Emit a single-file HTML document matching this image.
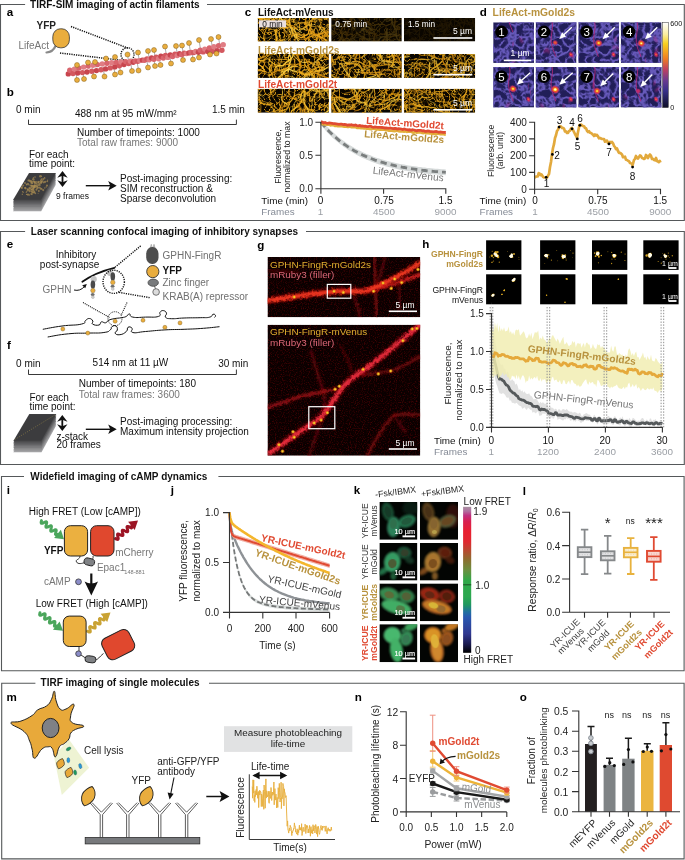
<!DOCTYPE html>
<html><head><meta charset="utf-8"><title>Figure</title>
<style>html,body{margin:0;padding:0;background:#fff}svg{display:block}text{font-family:"Liberation Sans",sans-serif}</style>
</head><body>
<svg width="685" height="860" viewBox="0 0 685 860">
<rect width="685" height="860" fill="#fff"/>
<path d="M25.1 4.5H0.5V220.5H684.3V4.5H207" fill="none" stroke="#55585a" stroke-width="1.1"/>
<text x="30.1" y="7.6" font-size="10" fill="#111" font-weight="bold">TIRF-SIM imaging of actin filaments</text>
<path d="M25.1 231.5H0.5V464.5H684.3V231.5H306" fill="none" stroke="#55585a" stroke-width="1.1"/>
<text x="30.8" y="234.8" font-size="10" fill="#111" font-weight="bold">Laser scanning confocal imaging of inhibitory synapses</text>
<path d="M24 476.5H1.5V670.7H684.1V476.5H218.4" fill="none" stroke="#55585a" stroke-width="1.1"/>
<text x="30.3" y="480.0" font-size="10" fill="#111" font-weight="bold">Widefield imaging of cAMP dynamics</text>
<path d="M35.4 683.2H1.7V858.9H684.1V683.2H209" fill="none" stroke="#55585a" stroke-width="1.1"/>
<text x="40.6" y="686.3" font-size="10" fill="#111" font-weight="bold">TIRF imaging of single molecules</text>
<text x="6.7" y="15.9" font-size="11.6" fill="#000" font-weight="bold">a</text>
<text x="6.7" y="95.9" font-size="11.6" fill="#000" font-weight="bold">b</text>
<text x="244.7" y="15.9" font-size="11.6" fill="#000" font-weight="bold">c</text>
<text x="479.7" y="15.9" font-size="11.6" fill="#000" font-weight="bold">d</text>
<text x="6.7" y="248.4" font-size="11.6" fill="#000" font-weight="bold">e</text>
<text x="6.9" y="349.4" font-size="11.6" fill="#000" font-weight="bold">f</text>
<text x="257.3" y="248.7" font-size="11.6" fill="#000" font-weight="bold">g</text>
<text x="422.2" y="247.9" font-size="11.6" fill="#000" font-weight="bold">h</text>
<text x="6.7" y="494.4" font-size="11.6" fill="#000" font-weight="bold">i</text>
<text x="170.7" y="494.4" font-size="11.6" fill="#000" font-weight="bold">j</text>
<text x="353.7" y="494.4" font-size="11.6" fill="#000" font-weight="bold">k</text>
<text x="522.7" y="494.7" font-size="11.6" fill="#000" font-weight="bold">l</text>
<text x="6.5" y="701.4" font-size="11.6" fill="#000" font-weight="bold">m</text>
<text x="354.7" y="700.9" font-size="11.6" fill="#000" font-weight="bold">n</text>
<text x="519.7" y="700.9" font-size="11.6" fill="#000" font-weight="bold">o</text>
<text x="36.5" y="29.0" font-size="10" fill="#222" font-weight="bold">YFP</text>
<text x="18.5" y="49.0" font-size="10" fill="#767676">LifeAct</text>
<path d="M46.5 52.5 Q53 52 55.5 46" fill="none" stroke="#8a8a8a" stroke-width="2.2" stroke-linecap="round"/>
<rect x="52.8" y="28.8" width="16.6" height="19" rx="7.5" ry="8" fill="#E9AD3E" stroke="#333" stroke-width="0.8"/>
<path d="M71 26.5 L129 48.5 M60 53 L123 60.5" fill="none" stroke="#111" stroke-width="1.5" stroke-dasharray="1.2 1.1"/>
<ellipse cx="127.5" cy="54.5" rx="6.5" ry="6.8" fill="none" stroke="#111" stroke-width="1.4" stroke-dasharray="1.2 1.1"/>
<path d="M77 65L77.9 70.6" stroke="#777" stroke-width="0.6"/>
<path d="M88 62.5L89.0 68.8" stroke="#777" stroke-width="0.6"/>
<path d="M95 62L95.9 67.7" stroke="#777" stroke-width="0.6"/>
<path d="M106 58.5L107.2 65.9" stroke="#777" stroke-width="0.6"/>
<path d="M115 57L116.2 64.5" stroke="#777" stroke-width="0.6"/>
<path d="M127.5 54.5L128.8 62.5" stroke="#777" stroke-width="0.6"/>
<path d="M138 52.5L139.3 60.8" stroke="#777" stroke-width="0.6"/>
<path d="M148 51L149.3 59.2" stroke="#777" stroke-width="0.6"/>
<path d="M154 50L155.3 58.3" stroke="#777" stroke-width="0.6"/>
<path d="M165 46.5L166.6 56.5" stroke="#777" stroke-width="0.6"/>
<path d="M176 46L177.4 54.7" stroke="#777" stroke-width="0.6"/>
<path d="M182 45.5L183.3 53.8" stroke="#777" stroke-width="0.6"/>
<path d="M189 43L190.5 52.6" stroke="#777" stroke-width="0.6"/>
<path d="M199 40L200.8 51.0" stroke="#777" stroke-width="0.6"/>
<path d="M211 39L212.6 49.1" stroke="#777" stroke-width="0.6"/>
<path d="M218.5 37L220.2 47.9" stroke="#777" stroke-width="0.6"/>
<path d="M77 80L75.6 71.0" stroke="#777" stroke-width="0.6"/>
<path d="M84 79L82.5 69.9" stroke="#777" stroke-width="0.6"/>
<path d="M94 76.5L92.7 68.3" stroke="#777" stroke-width="0.6"/>
<path d="M104.5 76.5L102.9 66.6" stroke="#777" stroke-width="0.6"/>
<path d="M115 74.5L113.5 64.9" stroke="#777" stroke-width="0.6"/>
<path d="M120.5 72.5L119.1 64.0" stroke="#777" stroke-width="0.6"/>
<path d="M132 71L130.6 62.2" stroke="#777" stroke-width="0.6"/>
<path d="M138.5 70.5L137.0 61.2" stroke="#777" stroke-width="0.6"/>
<path d="M148 67.5L146.7 59.6" stroke="#777" stroke-width="0.6"/>
<path d="M155 66L153.8 58.5" stroke="#777" stroke-width="0.6"/>
<path d="M160.5 65L159.3 57.6" stroke="#777" stroke-width="0.6"/>
<path d="M171 63.5L169.8 56.0" stroke="#777" stroke-width="0.6"/>
<path d="M183 60L182.0 54.0" stroke="#777" stroke-width="0.6"/>
<path d="M193 59.5L191.9 52.4" stroke="#777" stroke-width="0.6"/>
<path d="M199 57.5L198.0 51.4" stroke="#777" stroke-width="0.6"/>
<path d="M210 54.5L209.2 49.7" stroke="#777" stroke-width="0.6"/>
<path d="M216.5 53.5L215.7 48.6" stroke="#777" stroke-width="0.6"/>
<circle cx="68.3" cy="73.9" r="2.7" fill="#C8454E"/>
<circle cx="69.8" cy="70.2" r="2.7" fill="#D9656D"/>
<circle cx="73.0" cy="73.5" r="2.7" fill="#D3585F"/>
<circle cx="74.4" cy="69.1" r="2.7" fill="#E07C83"/>
<circle cx="77.7" cy="73.0" r="2.7" fill="#C8454E"/>
<circle cx="79.0" cy="68.1" r="2.7" fill="#D9656D"/>
<circle cx="82.4" cy="72.6" r="2.7" fill="#D3585F"/>
<circle cx="83.6" cy="67.1" r="2.7" fill="#E07C83"/>
<circle cx="87.0" cy="72.0" r="2.7" fill="#C8454E"/>
<circle cx="88.2" cy="66.1" r="2.7" fill="#D9656D"/>
<circle cx="91.7" cy="71.3" r="2.7" fill="#D3585F"/>
<circle cx="92.9" cy="65.3" r="2.7" fill="#E07C83"/>
<circle cx="96.4" cy="70.6" r="2.7" fill="#C8454E"/>
<circle cx="97.5" cy="64.6" r="2.7" fill="#D9656D"/>
<circle cx="101.0" cy="69.8" r="2.7" fill="#D3585F"/>
<circle cx="102.2" cy="63.9" r="2.7" fill="#E07C83"/>
<circle cx="105.6" cy="68.9" r="2.7" fill="#C8454E"/>
<circle cx="106.9" cy="63.3" r="2.7" fill="#D9656D"/>
<circle cx="110.2" cy="67.9" r="2.7" fill="#D3585F"/>
<circle cx="111.6" cy="62.8" r="2.7" fill="#E07C83"/>
<circle cx="114.8" cy="66.9" r="2.7" fill="#C8454E"/>
<circle cx="116.3" cy="62.4" r="2.7" fill="#D9656D"/>
<circle cx="119.4" cy="65.8" r="2.7" fill="#D3585F"/>
<circle cx="121.0" cy="62.0" r="2.7" fill="#E07C83"/>
<circle cx="124.0" cy="64.6" r="2.7" fill="#C8454E"/>
<circle cx="125.7" cy="61.6" r="2.7" fill="#D9656D"/>
<circle cx="128.6" cy="63.5" r="2.7" fill="#D3585F"/>
<circle cx="130.4" cy="61.3" r="2.7" fill="#E07C83"/>
<circle cx="133.2" cy="62.3" r="2.7" fill="#C8454E"/>
<circle cx="135.1" cy="61.0" r="2.7" fill="#D9656D"/>
<circle cx="137.8" cy="61.2" r="2.7" fill="#D3585F"/>
<circle cx="139.8" cy="60.6" r="2.7" fill="#E07C83"/>
<circle cx="142.4" cy="60.1" r="2.7" fill="#C8454E"/>
<circle cx="144.5" cy="60.2" r="2.7" fill="#D9656D"/>
<circle cx="147.0" cy="59.0" r="2.7" fill="#D3585F"/>
<circle cx="149.2" cy="59.8" r="2.7" fill="#E07C83"/>
<circle cx="151.6" cy="58.0" r="2.7" fill="#C8454E"/>
<circle cx="153.9" cy="59.3" r="2.7" fill="#D9656D"/>
<circle cx="156.2" cy="57.1" r="2.7" fill="#D3585F"/>
<circle cx="158.6" cy="58.7" r="2.7" fill="#E07C83"/>
<circle cx="160.9" cy="56.3" r="2.7" fill="#C8454E"/>
<circle cx="163.3" cy="58.1" r="2.7" fill="#D9656D"/>
<circle cx="165.5" cy="55.5" r="2.7" fill="#D3585F"/>
<circle cx="167.9" cy="57.4" r="2.7" fill="#E07C83"/>
<circle cx="170.2" cy="54.9" r="2.7" fill="#C8454E"/>
<circle cx="172.6" cy="56.5" r="2.7" fill="#D9656D"/>
<circle cx="174.9" cy="54.3" r="2.7" fill="#D3585F"/>
<circle cx="177.2" cy="55.6" r="2.7" fill="#E07C83"/>
<circle cx="179.5" cy="53.8" r="2.7" fill="#C8454E"/>
<circle cx="181.8" cy="54.7" r="2.7" fill="#D9656D"/>
<circle cx="184.2" cy="53.3" r="2.7" fill="#D3585F"/>
<circle cx="186.4" cy="53.6" r="2.7" fill="#E07C83"/>
<circle cx="188.9" cy="52.9" r="2.7" fill="#C8454E"/>
<circle cx="191.0" cy="52.5" r="2.7" fill="#D9656D"/>
<circle cx="193.7" cy="52.6" r="2.7" fill="#D3585F"/>
<circle cx="195.6" cy="51.4" r="2.7" fill="#E07C83"/>
<circle cx="198.4" cy="52.3" r="2.7" fill="#C8454E"/>
<circle cx="200.2" cy="50.2" r="2.7" fill="#D9656D"/>
<circle cx="203.1" cy="51.9" r="2.7" fill="#D3585F"/>
<circle cx="204.8" cy="49.1" r="2.7" fill="#E07C83"/>
<circle cx="207.8" cy="51.6" r="2.7" fill="#C8454E"/>
<circle cx="209.4" cy="47.9" r="2.7" fill="#D9656D"/>
<circle cx="212.5" cy="51.2" r="2.7" fill="#D3585F"/>
<circle cx="213.9" cy="46.8" r="2.7" fill="#E07C83"/>
<circle cx="217.2" cy="50.8" r="2.7" fill="#C8454E"/>
<circle cx="218.6" cy="45.8" r="2.7" fill="#D9656D"/>
<circle cx="221.9" cy="50.3" r="2.7" fill="#D3585F"/>
<circle cx="223.2" cy="44.8" r="2.7" fill="#E07C83"/>
<circle cx="77" cy="65" r="2.5" fill="#E9AD3E" stroke="#7a5a18" stroke-width="0.45"/>
<circle cx="88" cy="62.5" r="2.5" fill="#E9AD3E" stroke="#7a5a18" stroke-width="0.45"/>
<circle cx="95" cy="62" r="2.5" fill="#E9AD3E" stroke="#7a5a18" stroke-width="0.45"/>
<circle cx="106" cy="58.5" r="2.5" fill="#E9AD3E" stroke="#7a5a18" stroke-width="0.45"/>
<circle cx="115" cy="57" r="2.5" fill="#E9AD3E" stroke="#7a5a18" stroke-width="0.45"/>
<circle cx="127.5" cy="54.5" r="2.5" fill="#E9AD3E" stroke="#7a5a18" stroke-width="0.45"/>
<circle cx="138" cy="52.5" r="2.5" fill="#E9AD3E" stroke="#7a5a18" stroke-width="0.45"/>
<circle cx="148" cy="51" r="2.5" fill="#E9AD3E" stroke="#7a5a18" stroke-width="0.45"/>
<circle cx="154" cy="50" r="2.5" fill="#E9AD3E" stroke="#7a5a18" stroke-width="0.45"/>
<circle cx="165" cy="46.5" r="2.5" fill="#E9AD3E" stroke="#7a5a18" stroke-width="0.45"/>
<circle cx="176" cy="46" r="2.5" fill="#E9AD3E" stroke="#7a5a18" stroke-width="0.45"/>
<circle cx="182" cy="45.5" r="2.5" fill="#E9AD3E" stroke="#7a5a18" stroke-width="0.45"/>
<circle cx="189" cy="43" r="2.5" fill="#E9AD3E" stroke="#7a5a18" stroke-width="0.45"/>
<circle cx="199" cy="40" r="2.5" fill="#E9AD3E" stroke="#7a5a18" stroke-width="0.45"/>
<circle cx="211" cy="39" r="2.5" fill="#E9AD3E" stroke="#7a5a18" stroke-width="0.45"/>
<circle cx="218.5" cy="37" r="2.5" fill="#E9AD3E" stroke="#7a5a18" stroke-width="0.45"/>
<circle cx="77" cy="80" r="2.5" fill="#E9AD3E" stroke="#7a5a18" stroke-width="0.45"/>
<circle cx="84" cy="79" r="2.5" fill="#E9AD3E" stroke="#7a5a18" stroke-width="0.45"/>
<circle cx="94" cy="76.5" r="2.5" fill="#E9AD3E" stroke="#7a5a18" stroke-width="0.45"/>
<circle cx="104.5" cy="76.5" r="2.5" fill="#E9AD3E" stroke="#7a5a18" stroke-width="0.45"/>
<circle cx="115" cy="74.5" r="2.5" fill="#E9AD3E" stroke="#7a5a18" stroke-width="0.45"/>
<circle cx="120.5" cy="72.5" r="2.5" fill="#E9AD3E" stroke="#7a5a18" stroke-width="0.45"/>
<circle cx="132" cy="71" r="2.5" fill="#E9AD3E" stroke="#7a5a18" stroke-width="0.45"/>
<circle cx="138.5" cy="70.5" r="2.5" fill="#E9AD3E" stroke="#7a5a18" stroke-width="0.45"/>
<circle cx="148" cy="67.5" r="2.5" fill="#E9AD3E" stroke="#7a5a18" stroke-width="0.45"/>
<circle cx="155" cy="66" r="2.5" fill="#E9AD3E" stroke="#7a5a18" stroke-width="0.45"/>
<circle cx="160.5" cy="65" r="2.5" fill="#E9AD3E" stroke="#7a5a18" stroke-width="0.45"/>
<circle cx="171" cy="63.5" r="2.5" fill="#E9AD3E" stroke="#7a5a18" stroke-width="0.45"/>
<circle cx="183" cy="60" r="2.5" fill="#E9AD3E" stroke="#7a5a18" stroke-width="0.45"/>
<circle cx="193" cy="59.5" r="2.5" fill="#E9AD3E" stroke="#7a5a18" stroke-width="0.45"/>
<circle cx="199" cy="57.5" r="2.5" fill="#E9AD3E" stroke="#7a5a18" stroke-width="0.45"/>
<circle cx="210" cy="54.5" r="2.5" fill="#E9AD3E" stroke="#7a5a18" stroke-width="0.45"/>
<circle cx="216.5" cy="53.5" r="2.5" fill="#E9AD3E" stroke="#7a5a18" stroke-width="0.45"/>
<text x="16" y="113.1" font-size="10" fill="#111">0 min</text>
<text x="75" y="117.1" font-size="10" fill="#111">488 nm at 95 mW/mm²</text>
<text x="212" y="113.1" font-size="10" fill="#111">1.5 min</text>
<path d="M28.5 119.6V124.5H236.4V119.6" fill="none" stroke="#222" stroke-width="0.9"/>
<text x="77" y="135.5" font-size="10" fill="#111">Number of timepoints: 1000</text>
<text x="77" y="145.7" font-size="10" fill="#767676">Total raw frames: 9000</text>
<text x="29" y="157.7" font-size="10" fill="#111">For each</text>
<text x="29" y="167.4" font-size="10" fill="#111">time point:</text>
<path d="M29 184.2H56L41.2 211.2H13Z" fill="#a0a0a2" stroke="#fff" stroke-opacity="0.15" stroke-width="0.3"/>
<path d="M29 182.8H56L41.2 209.8H13Z" fill="#939395" stroke="#fff" stroke-opacity="0.15" stroke-width="0.3"/>
<path d="M29 181.4H56L41.2 208.4H13Z" fill="#878789" stroke="#fff" stroke-opacity="0.15" stroke-width="0.3"/>
<path d="M29 180.0H56L41.2 207.0H13Z" fill="#7a7a7c" stroke="#fff" stroke-opacity="0.15" stroke-width="0.3"/>
<path d="M29 178.6H56L41.2 205.6H13Z" fill="#6e6e70" stroke="#fff" stroke-opacity="0.15" stroke-width="0.3"/>
<path d="M29 177.2H56L41.2 204.2H13Z" fill="#616163" stroke="#fff" stroke-opacity="0.15" stroke-width="0.3"/>
<path d="M29 175.8H56L41.2 202.8H13Z" fill="#555557" stroke="#fff" stroke-opacity="0.15" stroke-width="0.3"/>
<path d="M29 174.4H56L41.2 201.4H13Z" fill="#48484a" stroke="#fff" stroke-opacity="0.15" stroke-width="0.3"/>
<path d="M29 173.0H56L41.2 200.0H13Z" fill="#3c3c3e" stroke="#fff" stroke-opacity="0.15" stroke-width="0.3"/>
<circle cx="33.6" cy="181.4" r="1.0" fill="#a88c52" opacity="0.7"/>
<circle cx="37.3" cy="186.7" r="0.7" fill="#a88c52" opacity="0.7"/>
<circle cx="38.5" cy="182.8" r="1.0" fill="#a88c52" opacity="0.7"/>
<circle cx="28.1" cy="183.9" r="1.0" fill="#a88c52" opacity="0.7"/>
<circle cx="31.2" cy="187.4" r="0.6" fill="#a88c52" opacity="0.7"/>
<circle cx="43.2" cy="190.1" r="1.1" fill="#a88c52" opacity="0.7"/>
<circle cx="34.6" cy="185.1" r="0.7" fill="#a88c52" opacity="0.7"/>
<circle cx="40.6" cy="182.0" r="0.5" fill="#a88c52" opacity="0.7"/>
<circle cx="36.2" cy="185.8" r="0.9" fill="#a88c52" opacity="0.7"/>
<circle cx="36.6" cy="186.4" r="1.2" fill="#a88c52" opacity="0.7"/>
<circle cx="31.8" cy="187.5" r="0.6" fill="#a88c52" opacity="0.7"/>
<circle cx="32.5" cy="183.4" r="0.6" fill="#a88c52" opacity="0.7"/>
<circle cx="42.0" cy="189.1" r="0.6" fill="#a88c52" opacity="0.7"/>
<circle cx="22.7" cy="191.8" r="0.8" fill="#a88c52" opacity="0.7"/>
<circle cx="25.5" cy="187.5" r="0.8" fill="#a88c52" opacity="0.7"/>
<circle cx="34.8" cy="185.7" r="1.2" fill="#a88c52" opacity="0.7"/>
<circle cx="33.4" cy="177.6" r="0.7" fill="#a88c52" opacity="0.7"/>
<circle cx="35.1" cy="181.9" r="1.0" fill="#a88c52" opacity="0.7"/>
<circle cx="33.5" cy="188.6" r="0.7" fill="#a88c52" opacity="0.7"/>
<circle cx="40.8" cy="180.5" r="0.9" fill="#a88c52" opacity="0.7"/>
<circle cx="35.3" cy="185.8" r="0.8" fill="#a88c52" opacity="0.7"/>
<circle cx="32.1" cy="192.9" r="0.8" fill="#a88c52" opacity="0.7"/>
<circle cx="38.4" cy="181.3" r="0.5" fill="#a88c52" opacity="0.7"/>
<circle cx="34.4" cy="192.6" r="1.0" fill="#a88c52" opacity="0.7"/>
<circle cx="33.8" cy="187.4" r="0.7" fill="#a88c52" opacity="0.7"/>
<circle cx="41.5" cy="188.9" r="0.8" fill="#a88c52" opacity="0.7"/>
<circle cx="31.8" cy="189.7" r="0.8" fill="#a88c52" opacity="0.7"/>
<circle cx="21.8" cy="187.7" r="1.2" fill="#a88c52" opacity="0.7"/>
<circle cx="38.2" cy="185.2" r="0.7" fill="#a88c52" opacity="0.7"/>
<circle cx="36.3" cy="183.5" r="1.2" fill="#a88c52" opacity="0.7"/>
<circle cx="34.3" cy="186.7" r="1.1" fill="#a88c52" opacity="0.7"/>
<circle cx="32.0" cy="191.2" r="0.5" fill="#a88c52" opacity="0.7"/>
<circle cx="34.1" cy="185.9" r="1.2" fill="#a88c52" opacity="0.7"/>
<circle cx="22.2" cy="186.3" r="0.5" fill="#a88c52" opacity="0.7"/>
<circle cx="38.3" cy="182.1" r="1.1" fill="#a88c52" opacity="0.7"/>
<circle cx="31.2" cy="194.0" r="0.9" fill="#a88c52" opacity="0.7"/>
<circle cx="32.1" cy="182.1" r="0.7" fill="#a88c52" opacity="0.7"/>
<circle cx="47.6" cy="180.2" r="0.6" fill="#a88c52" opacity="0.7"/>
<circle cx="39.7" cy="183.5" r="0.7" fill="#a88c52" opacity="0.7"/>
<circle cx="23.2" cy="185.5" r="1.0" fill="#a88c52" opacity="0.7"/>
<circle cx="32.0" cy="194.5" r="0.7" fill="#a88c52" opacity="0.7"/>
<circle cx="34.7" cy="183.0" r="1.0" fill="#a88c52" opacity="0.7"/>
<circle cx="37.5" cy="185.0" r="0.8" fill="#a88c52" opacity="0.7"/>
<circle cx="29.7" cy="187.9" r="1.2" fill="#a88c52" opacity="0.7"/>
<circle cx="31.6" cy="181.6" r="1.2" fill="#a88c52" opacity="0.7"/>
<circle cx="41.4" cy="176.2" r="0.8" fill="#a88c52" opacity="0.7"/>
<circle cx="43.8" cy="182.3" r="1.1" fill="#a88c52" opacity="0.7"/>
<circle cx="26.3" cy="192.3" r="0.7" fill="#a88c52" opacity="0.7"/>
<circle cx="27.3" cy="183.2" r="0.5" fill="#a88c52" opacity="0.7"/>
<circle cx="45.2" cy="181.8" r="1.1" fill="#a88c52" opacity="0.7"/>
<circle cx="47.3" cy="181.3" r="0.9" fill="#a88c52" opacity="0.7"/>
<circle cx="23.3" cy="192.6" r="0.5" fill="#a88c52" opacity="0.7"/>
<circle cx="29.7" cy="191.0" r="1.2" fill="#a88c52" opacity="0.7"/>
<circle cx="26.6" cy="184.4" r="0.9" fill="#a88c52" opacity="0.7"/>
<circle cx="32.2" cy="186.0" r="1.0" fill="#a88c52" opacity="0.7"/>
<circle cx="31.6" cy="191.8" r="0.8" fill="#a88c52" opacity="0.7"/>
<circle cx="34.8" cy="182.3" r="0.6" fill="#a88c52" opacity="0.7"/>
<circle cx="32.8" cy="188.1" r="1.0" fill="#a88c52" opacity="0.7"/>
<circle cx="33.3" cy="179.2" r="1.2" fill="#a88c52" opacity="0.7"/>
<circle cx="39.7" cy="187.4" r="0.8" fill="#a88c52" opacity="0.7"/>
<circle cx="34.3" cy="191.7" r="1.0" fill="#a88c52" opacity="0.7"/>
<circle cx="32.1" cy="191.2" r="0.7" fill="#a88c52" opacity="0.7"/>
<circle cx="46.2" cy="187.0" r="0.7" fill="#a88c52" opacity="0.7"/>
<circle cx="33.7" cy="190.4" r="0.8" fill="#a88c52" opacity="0.7"/>
<circle cx="39.0" cy="184.8" r="0.9" fill="#a88c52" opacity="0.7"/>
<circle cx="35.4" cy="193.4" r="0.8" fill="#a88c52" opacity="0.7"/>
<circle cx="42.8" cy="180.4" r="0.6" fill="#a88c52" opacity="0.7"/>
<circle cx="41.5" cy="181.8" r="1.1" fill="#a88c52" opacity="0.7"/>
<circle cx="31.0" cy="185.7" r="1.1" fill="#a88c52" opacity="0.7"/>
<circle cx="34.4" cy="181.8" r="1.0" fill="#a88c52" opacity="0.7"/>
<circle cx="25.0" cy="183.0" r="1.0" fill="#a88c52" opacity="0.7"/>
<circle cx="36.7" cy="181.7" r="0.7" fill="#a88c52" opacity="0.7"/>
<circle cx="26.9" cy="191.3" r="0.7" fill="#a88c52" opacity="0.7"/>
<circle cx="33.5" cy="188.9" r="0.9" fill="#a88c52" opacity="0.7"/>
<circle cx="38.1" cy="187.6" r="1.1" fill="#a88c52" opacity="0.7"/>
<circle cx="39.9" cy="184.9" r="0.9" fill="#a88c52" opacity="0.7"/>
<circle cx="41.0" cy="182.8" r="1.2" fill="#a88c52" opacity="0.7"/>
<circle cx="36.4" cy="189.7" r="1.0" fill="#a88c52" opacity="0.7"/>
<circle cx="29.4" cy="180.6" r="1.1" fill="#a88c52" opacity="0.7"/>
<circle cx="31.9" cy="182.8" r="0.7" fill="#a88c52" opacity="0.7"/>
<circle cx="27.7" cy="190.2" r="0.8" fill="#a88c52" opacity="0.7"/>
<circle cx="39.6" cy="181.5" r="0.6" fill="#a88c52" opacity="0.7"/>
<circle cx="32.5" cy="189.7" r="1.2" fill="#a88c52" opacity="0.7"/>
<circle cx="40.5" cy="188.6" r="1.1" fill="#a88c52" opacity="0.7"/>
<circle cx="44.5" cy="177.8" r="0.7" fill="#a88c52" opacity="0.7"/>
<circle cx="26.5" cy="194.4" r="0.6" fill="#a88c52" opacity="0.7"/>
<circle cx="44.9" cy="178.2" r="0.6" fill="#a88c52" opacity="0.7"/>
<circle cx="44.8" cy="188.0" r="0.7" fill="#a88c52" opacity="0.7"/>
<circle cx="34.5" cy="186.9" r="0.6" fill="#a88c52" opacity="0.7"/>
<circle cx="27.0" cy="194.4" r="0.6" fill="#a88c52" opacity="0.7"/>
<circle cx="31.5" cy="189.3" r="1.1" fill="#a88c52" opacity="0.7"/>
<circle cx="38.8" cy="190.9" r="1.0" fill="#a88c52" opacity="0.7"/>
<circle cx="25.8" cy="188.6" r="0.9" fill="#a88c52" opacity="0.7"/>
<circle cx="41.6" cy="179.2" r="0.9" fill="#a88c52" opacity="0.7"/>
<circle cx="24.9" cy="188.0" r="1.0" fill="#a88c52" opacity="0.7"/>
<circle cx="27.6" cy="189.2" r="0.9" fill="#a88c52" opacity="0.7"/>
<circle cx="28.0" cy="194.6" r="1.2" fill="#a88c52" opacity="0.7"/>
<circle cx="41.9" cy="181.6" r="1.0" fill="#a88c52" opacity="0.7"/>
<circle cx="35.0" cy="177.1" r="0.8" fill="#a88c52" opacity="0.7"/>
<circle cx="31.5" cy="183.1" r="1.1" fill="#a88c52" opacity="0.7"/>
<circle cx="38.1" cy="193.3" r="0.5" fill="#a88c52" opacity="0.7"/>
<circle cx="35.9" cy="187.5" r="0.5" fill="#a88c52" opacity="0.7"/>
<circle cx="34.3" cy="186.8" r="0.5" fill="#a88c52" opacity="0.7"/>
<circle cx="30.6" cy="181.2" r="1.2" fill="#a88c52" opacity="0.7"/>
<circle cx="40.3" cy="176.2" r="1.2" fill="#a88c52" opacity="0.7"/>
<circle cx="34.2" cy="187.2" r="1.2" fill="#a88c52" opacity="0.7"/>
<circle cx="33.0" cy="192.4" r="1.1" fill="#a88c52" opacity="0.7"/>
<circle cx="29.1" cy="185.0" r="0.7" fill="#a88c52" opacity="0.7"/>
<circle cx="37.1" cy="188.4" r="0.9" fill="#a88c52" opacity="0.7"/>
<circle cx="47.0" cy="185.6" r="1.1" fill="#a88c52" opacity="0.7"/>
<circle cx="22.3" cy="194.2" r="0.7" fill="#a88c52" opacity="0.7"/>
<circle cx="28.4" cy="180.6" r="1.0" fill="#a88c52" opacity="0.7"/>
<circle cx="34.3" cy="186.9" r="0.8" fill="#a88c52" opacity="0.7"/>
<circle cx="43.4" cy="179.0" r="1.1" fill="#a88c52" opacity="0.7"/>
<circle cx="28.5" cy="189.7" r="1.1" fill="#a88c52" opacity="0.7"/>
<circle cx="21.6" cy="187.5" r="0.6" fill="#a88c52" opacity="0.7"/>
<circle cx="26.9" cy="184.8" r="0.7" fill="#a88c52" opacity="0.7"/>
<circle cx="30.0" cy="188.8" r="0.9" fill="#a88c52" opacity="0.7"/>
<circle cx="32.3" cy="185.9" r="1.2" fill="#a88c52" opacity="0.7"/>
<circle cx="29.4" cy="195.0" r="0.8" fill="#a88c52" opacity="0.7"/>
<path d="M62.5 174V184" stroke="#111" stroke-width="1.8"/>
<path d="M57.3 177.8L62.5 171L67.7 177.8L62.5 175.8Z M57.3 180.2L62.5 187L67.7 180.2L62.5 182.2Z" fill="#111"/>
<text x="56" y="199.1" font-size="8.5" fill="#111">9 frames</text>
<path d="M85.8 185.7H110.7" stroke="#111" stroke-width="1.4"/>
<path d="M108.2 180.89999999999998L116.7 185.7L108.2 190.5L110.2 185.7Z" fill="#111"/>
<text x="120" y="181.5" font-size="10" fill="#111">Post-imaging processing:</text>
<text x="120" y="191.8" font-size="10" fill="#111">SIM reconstruction &amp;</text>
<text x="120" y="202.1" font-size="10" fill="#111">Sparse deconvolution</text>
<defs>
<filter id="gweb" x="0" y="0" width="100%" height="100%" color-interpolation-filters="sRGB">
<feTurbulence type="turbulence" baseFrequency="0.2" numOctaves="2" seed="4" result="t"/>
<feColorMatrix in="t" type="matrix" values="0 0 0 0 0  0 0 0 0 0  0 0 0 0 0  3.4 0 0 0 -0.15" result="a"/>
<feComponentTransfer in="a"><feFuncR type="table" tableValues="0.93 0.93"/><feFuncG type="table" tableValues="0.66 0.66"/><feFuncB type="table" tableValues="0.1 0.1"/><feFuncA type="table" tableValues="1 0.8 0.35 0.05 0 0"/></feComponentTransfer>
</filter>
<clipPath id="cf1"><rect x="257.7" y="17.9" width="71.2" height="23.6"/></clipPath>
<clipPath id="cf2"><rect x="331.2" y="17.9" width="70.6" height="23.6"/></clipPath>
<clipPath id="cf3"><rect x="403.9" y="17.9" width="71.3" height="23.6"/></clipPath>
<clipPath id="cf4"><rect x="257.7" y="53.9" width="71.2" height="24"/></clipPath>
<clipPath id="cf5"><rect x="331.2" y="53.9" width="70.6" height="24"/></clipPath>
<clipPath id="cf6"><rect x="403.9" y="53.9" width="71.3" height="24"/></clipPath>
<clipPath id="cf7"><rect x="257.7" y="88.8" width="71.2" height="24"/></clipPath>
<clipPath id="cf8"><rect x="331.2" y="88.8" width="70.6" height="24"/></clipPath>
<clipPath id="cf9"><rect x="403.9" y="88.8" width="71.3" height="24"/></clipPath>
</defs>
<g clip-path="url(#cf1)">
<rect x="257.7" y="17.9" width="71.2" height="23.6" fill="#0a0600"/>
<g fill="none" opacity="1" filter="url(#b03)">
<rect x="257.7" y="17.9" width="71.2" height="23.6" filter="url(#gweb)" opacity="0.85"/>
<path d="M263.8 28.2Q263.5 23.8 265.1 19.5Q263.8 16.4 268.7 13.8Q271.5 11.1 274.5 8.6Q276.2 5.2 281.9 7.6" stroke="#F5B824" stroke-width="0.75" opacity="0.57"/>
<path d="M326.0 25.3Q322.4 27.9 321.0 32.6Q318.6 37.9 310.1 36.4" stroke="#FFD64A" stroke-width="0.6" opacity="0.59"/>
<path d="M301.8 17.9Q305.1 16.2 309.1 16.5Q312.8 15.5 316.7 16.9" stroke="#F9CA3A" stroke-width="0.75" opacity="0.81"/>
<path d="M314.7 14.7Q314.7 20.4 319.1 25.2Q320.9 29.9 325.4 33.1Q330.0 36.9 333.2 42.2Q334.7 47.6 333.3 53.5" stroke="#FFD64A" stroke-width="1.1" opacity="0.63"/>
<path d="M322.2 43.5Q324.1 38.0 315.0 34.3Q313.4 31.6 309.7 30.7Q306.7 29.8 306.0 25.5Q304.8 20.2 306.8 14.5" stroke="#E09A14" stroke-width="1.4" opacity="0.81"/>
<path d="M305.8 38.1Q302.3 35.1 297.3 34.6Q291.5 35.5 287.4 28.4Q285.3 26.0 281.1 29.4" stroke="#FFD64A" stroke-width="0.75" opacity="0.81"/>
<path d="M306.6 28.9Q302.3 30.5 297.7 26.8Q294.4 22.3 291.8 17.2Q288.5 15.9 285.6 13.8Q282.3 13.3 281.1 8.9" stroke="#FFD64A" stroke-width="1.1" opacity="0.52"/>
<path d="M287.2 28.0Q286.3 24.5 281.9 22.9Q278.7 21.6 276.2 18.8Q271.7 14.5 275.2 6.3Q273.4 2.3 277.8 -2.1" stroke="#F5B824" stroke-width="0.75" opacity="1.00"/>
<path d="M284.2 22.0Q285.8 24.7 280.1 26.8Q277.9 30.1 273.3 31.2Q269.8 32.6 265.9 32.5" stroke="#EDA81C" stroke-width="0.6" opacity="0.91"/>
<path d="M281.0 35.5Q275.5 34.3 275.9 45.7Q271.4 48.8 266.2 50.7Q263.4 54.7 256.4 51.9Q252.7 55.7 246.7 56.5" stroke="#F9CA3A" stroke-width="0.75" opacity="0.69"/>
<path d="M312.3 19.5Q317.5 16.6 318.9 9.6Q322.5 5.9 318.2 -0.8Q318.5 -5.8 311.2 -8.1Q310.2 -12.0 306.5 -14.6" stroke="#F5B824" stroke-width="0.6" opacity="0.70"/>
<path d="M289.8 36.7Q292.9 35.7 293.2 31.2Q295.7 26.8 300.9 24.8" stroke="#E09A14" stroke-width="0.6" opacity="0.78"/>
<path d="M321.3 17.8Q325.2 14.6 329.7 23.4Q334.8 25.7 332.9 34.1Q332.3 37.4 330.7 40.5Q328.0 42.6 325.6 45.0" stroke="#F2B01E" stroke-width="0.9" opacity="0.61"/>
<path d="M315.7 44.1Q318.0 47.1 321.5 49.0Q323.0 53.4 325.5 57.4" stroke="#E09A14" stroke-width="1.4" opacity="0.74"/>
<path d="M292.7 45.0Q288.0 42.9 288.3 35.9Q287.8 29.5 286.9 23.2Q286.9 20.1 283.4 18.0Q277.2 16.1 271.9 12.0" stroke="#E09A14" stroke-width="0.6" opacity="0.81"/>
<path d="M260.3 23.1Q262.2 17.2 260.3 10.6Q261.8 6.7 262.0 2.4Q265.1 -3.1 255.5 -8.3" stroke="#E09A14" stroke-width="1.4" opacity="0.60"/>
<path d="M274.0 35.3Q270.5 36.5 267.1 38.2Q262.1 39.2 257.1 36.2" stroke="#F9CA3A" stroke-width="0.9" opacity="0.50"/>
<path d="M293.1 27.2Q291.2 31.3 289.7 35.6Q288.2 41.7 278.3 41.1" stroke="#F9CA3A" stroke-width="0.9" opacity="0.67"/>
<path d="M312.2 21.0Q307.4 23.3 301.7 22.5Q298.1 22.4 295.0 25.2" stroke="#F2B01E" stroke-width="1.4" opacity="0.62"/>
<path d="M330.6 28.6Q326.2 30.1 322.3 33.1Q318.1 32.7 317.3 39.9Q313.9 43.7 308.6 45.1" stroke="#E09A14" stroke-width="1.4" opacity="0.70"/>
<path d="M278.7 43.8Q277.7 39.2 276.5 34.6Q277.0 28.9 274.4 23.4Q272.5 20.3 268.1 19.8" stroke="#F2B01E" stroke-width="0.9" opacity="0.92"/>
<path d="M269.9 44.7Q269.3 47.8 268.4 50.9Q266.2 54.4 272.5 58.2Q273.9 61.9 279.7 61.6Q283.8 61.9 287.5 64.2" stroke="#EDA81C" stroke-width="0.9" opacity="0.97"/>
<path d="M296.2 38.1Q292.7 33.4 290.8 27.7Q288.2 22.0 290.3 15.2" stroke="#FFD64A" stroke-width="1.4" opacity="0.84"/>
<path d="M325.0 29.6Q321.5 28.7 319.9 24.3Q317.0 20.0 313.0 16.4Q311.2 12.6 314.3 8.1" stroke="#D48C10" stroke-width="0.6" opacity="0.70"/>
<path d="M332.3 18.9Q328.1 15.0 323.6 11.3Q322.7 6.8 314.6 12.9" stroke="#F9CA3A" stroke-width="0.6" opacity="0.73"/>
<path d="M311.4 22.6Q311.6 27.3 308.7 31.6Q309.4 34.9 303.4 36.0Q302.6 39.9 295.5 34.5" stroke="#EDA81C" stroke-width="1.4" opacity="0.98"/>
<path d="M263.6 41.0Q266.7 36.0 262.7 29.2Q264.3 25.5 260.4 21.5" stroke="#D48C10" stroke-width="1.1" opacity="0.56"/>
<path d="M299.2 39.0Q302.3 39.7 305.6 39.0Q308.8 37.1 312.2 35.4Q315.3 32.4 320.9 34.9Q327.0 34.3 333.0 36.6" stroke="#D48C10" stroke-width="0.9" opacity="0.83"/>
<path d="M280.6 26.6Q286.8 28.5 293.5 27.7Q298.2 29.1 301.8 32.9" stroke="#FFD64A" stroke-width="1.1" opacity="0.71"/>
<path d="M288.2 45.9Q285.0 48.7 279.9 47.8Q275.4 49.6 272.8 54.4Q272.2 57.9 266.2 57.1Q261.4 56.8 256.9 54.5" stroke="#F2B01E" stroke-width="1.1" opacity="0.90"/>
<path d="M326.8 43.6Q330.0 39.7 325.8 33.5Q324.1 28.5 320.3 24.5Q318.8 20.8 320.4 16.5" stroke="#E09A14" stroke-width="0.9" opacity="0.97"/>
<path d="M273.8 18.2Q270.3 23.6 275.1 31.0Q276.1 35.0 276.3 39.2Q276.1 43.6 274.2 47.8" stroke="#F5B824" stroke-width="1.4" opacity="0.94"/>
<path d="M311.2 22.4Q313.5 19.1 316.4 16.2Q318.6 11.7 325.8 12.6Q330.7 11.2 335.3 8.6" stroke="#E09A14" stroke-width="1.4" opacity="0.70"/>
<path d="M312.8 36.8Q315.6 38.9 319.7 37.7Q324.0 37.6 326.9 33.3Q330.5 32.5 334.1 32.1Q336.7 30.1 338.9 27.5" stroke="#D48C10" stroke-width="1.4" opacity="0.74"/>
<path d="M310.7 32.8Q314.0 35.3 318.4 35.9Q323.0 38.0 327.2 40.7" stroke="#EDA81C" stroke-width="1.4" opacity="0.89"/>
<path d="M327.3 15.2Q326.3 12.1 327.9 8.7Q331.3 4.5 333.3 -0.6Q337.7 -2.6 331.4 -10.1Q330.2 -14.1 330.5 -18.4" stroke="#EDA81C" stroke-width="0.9" opacity="0.50"/>
<path d="M280.0 28.2Q282.9 27.0 280.0 21.9Q283.2 17.7 280.9 11.4Q283.1 7.0 285.8 2.9Q285.3 -1.8 295.2 1.2" stroke="#FFD64A" stroke-width="1.1" opacity="0.74"/>
<path d="M307.2 21.3Q306.0 26.1 315.5 26.8Q318.1 29.7 318.7 34.1" stroke="#F5B824" stroke-width="1.1" opacity="0.58"/>
<path d="M327.1 32.1Q325.8 35.3 323.9 38.3Q324.4 44.0 317.1 47.6" stroke="#D48C10" stroke-width="0.9" opacity="0.81"/>
<path d="M313.7 42.3Q318.4 46.6 325.9 46.3Q329.0 46.6 331.4 43.1Q336.4 41.1 342.1 42.0Q347.7 39.8 353.5 46.1" stroke="#FFD64A" stroke-width="0.9" opacity="0.78"/>
<path d="M256.9 42.0Q250.7 41.1 246.4 48.7Q242.4 49.7 238.5 46.3Q235.9 43.4 233.9 40.0" stroke="#F2B01E" stroke-width="1.4" opacity="0.87"/>
<path d="M294.0 18.5Q292.7 13.3 288.4 9.4Q283.7 7.7 283.6 0.7" stroke="#FFD64A" stroke-width="0.75" opacity="0.82"/>
<path d="M256.7 20.4Q257.2 15.8 265.8 19.5Q268.8 20.6 270.6 15.4" stroke="#F9CA3A" stroke-width="1.1" opacity="0.72"/>
<path d="M287.1 32.7Q283.6 29.4 281.2 25.3Q275.4 23.2 282.9 13.0Q280.2 7.6 291.7 4.7Q294.7 3.8 291.6 -1.5" stroke="#F9CA3A" stroke-width="1.1" opacity="0.81"/>
<path d="M319.9 14.2Q316.8 9.0 311.3 5.5Q307.5 1.8 310.9 -5.1Q309.1 -9.8 313.3 -14.8Q315.2 -18.9 310.7 -23.5" stroke="#EDA81C" stroke-width="0.9" opacity="0.92"/>
<path d="M264.2 16.5Q269.4 12.6 276.8 13.3Q282.8 12.8 286.6 20.2Q289.6 22.6 291.0 26.5Q294.8 29.8 291.5 36.6" stroke="#EDA81C" stroke-width="1.1" opacity="0.59"/>
<path d="M308.8 38.3Q309.6 41.3 306.0 43.9Q305.2 47.4 299.8 47.7Q296.6 51.5 292.3 54.3Q289.1 57.1 283.9 52.9" stroke="#F5B824" stroke-width="0.9" opacity="0.97"/>
<path d="M287.0 45.8Q290.0 45.2 292.8 43.9Q296.2 38.9 298.9 33.5" stroke="#D48C10" stroke-width="1.1" opacity="0.76"/>
<path d="M313.8 45.0Q311.9 49.4 313.6 54.5Q315.6 57.2 315.9 60.8Q320.6 64.2 322.1 70.8Q322.8 74.4 328.8 73.7" stroke="#F5B824" stroke-width="0.9" opacity="0.81"/>
<path d="M265.9 27.1Q269.4 29.8 274.5 29.1Q276.9 31.2 278.9 33.8Q282.7 37.9 277.8 45.0" stroke="#F5B824" stroke-width="1.4" opacity="0.53"/>
<path d="M328.8 31.1Q324.2 33.3 319.0 34.4Q314.3 35.1 309.9 36.9Q304.9 37.0 304.7 45.3Q302.2 47.0 298.7 46.4" stroke="#E09A14" stroke-width="1.1" opacity="0.95"/>
<path d="M288.3 23.6Q291.0 20.6 296.3 22.4Q300.7 24.9 306.3 21.3Q309.4 19.0 314.0 21.8Q317.2 20.3 321.0 21.9" stroke="#F2B01E" stroke-width="0.9" opacity="0.56"/>
<path d="M275.4 18.9Q277.9 14.7 284.5 22.4Q288.5 25.5 292.5 28.7Q296.7 31.3 296.6 37.7Q298.9 40.1 298.7 44.0" stroke="#F9CA3A" stroke-width="1.4" opacity="0.81"/>
<path d="M292.9 13.3Q295.4 8.6 287.1 4.3Q284.5 1.8 286.8 -3.0Q284.2 -8.0 285.5 -14.2" stroke="#D48C10" stroke-width="0.75" opacity="0.90"/>
<path d="M267.1 19.8Q265.9 16.3 272.7 14.8Q276.2 13.9 273.3 7.6Q273.5 4.3 272.8 1.0Q270.6 -4.7 273.0 -11.2" stroke="#F5B824" stroke-width="1.4" opacity="0.55"/>
<path d="M256.0 14.5Q260.9 18.5 267.6 19.8Q273.0 22.0 279.0 17.2Q283.0 14.2 287.3 11.9" stroke="#EDA81C" stroke-width="0.6" opacity="0.76"/>
<path d="M316.0 46.5Q316.6 42.4 316.7 38.2Q316.6 34.5 320.9 31.9Q322.8 29.2 326.2 28.0Q327.5 24.0 333.1 23.3" stroke="#F5B824" stroke-width="0.75" opacity="0.76"/>
<path d="M326.8 14.2Q332.4 12.9 338.1 16.8Q344.2 15.5 348.0 24.5Q350.5 27.5 355.8 23.3" stroke="#F2B01E" stroke-width="0.75" opacity="0.56"/>
<path d="M320.4 13.2Q317.6 11.9 314.4 11.5Q308.3 13.8 305.1 2.5Q302.1 0.7 302.2 -3.9" stroke="#D48C10" stroke-width="0.9" opacity="0.52"/>
<path d="M275.3 22.9Q274.8 16.9 264.0 19.0Q259.7 18.7 255.7 17.0Q252.9 15.1 249.0 18.1Q245.1 18.3 243.6 23.7" stroke="#EDA81C" stroke-width="1.4" opacity="0.57"/>
<path d="M310.0 37.7Q306.1 41.7 299.6 33.5Q296.4 31.3 292.2 35.9" stroke="#D48C10" stroke-width="1.1" opacity="0.88"/>
<path d="M293.5 22.4Q290.6 19.7 286.6 18.6Q280.2 17.4 281.1 7.0" stroke="#EDA81C" stroke-width="0.6" opacity="0.97"/>
<path d="M255.8 23.9Q255.6 29.3 255.2 34.7Q254.9 40.1 262.5 42.7Q264.7 48.6 264.3 55.3" stroke="#E09A14" stroke-width="1.4" opacity="0.78"/>
<path d="M291.7 32.7Q294.0 28.8 289.8 23.9Q285.3 19.9 296.3 13.7Q301.1 11.6 294.8 3.3Q293.7 0.1 299.0 -2.1" stroke="#EDA81C" stroke-width="0.9" opacity="0.82"/>
<path d="M292.1 37.1Q294.8 34.6 298.3 33.2Q299.5 30.4 302.7 28.9Q305.5 27.4 307.7 25.1Q313.4 25.2 318.9 23.0" stroke="#FFD64A" stroke-width="0.9" opacity="0.59"/>
<path d="M261.8 14.6Q267.0 13.1 272.6 13.2Q278.8 13.5 280.2 3.5Q281.8 -1.9 282.9 -7.5Q281.1 -11.9 288.7 -15.0" stroke="#F5B824" stroke-width="0.9" opacity="0.84"/>
<path d="M329.5 21.3Q333.0 17.8 331.2 11.6Q333.7 7.8 336.7 4.4Q338.4 0.5 343.1 -1.1" stroke="#F5B824" stroke-width="1.1" opacity="0.90"/>
<path d="M299.3 44.7Q299.1 48.7 305.2 50.2Q308.3 55.1 309.9 60.8Q313.9 65.6 320.7 67.0Q326.9 66.3 332.9 64.2" stroke="#FFD64A" stroke-width="1.1" opacity="0.70"/>
<path d="M283.3 29.9Q286.3 33.6 289.7 37.0Q291.2 40.2 289.0 44.1" stroke="#D48C10" stroke-width="1.1" opacity="0.59"/>
<path d="M264.9 15.5Q270.3 15.2 271.5 6.9Q273.2 3.1 272.3 -1.4Q269.5 -5.7 275.4 -11.1Q276.1 -15.1 272.9 -18.8" stroke="#F2B01E" stroke-width="0.75" opacity="0.91"/>
<path d="M286.0 20.3Q289.4 19.1 293.2 20.2Q298.1 20.3 302.0 24.6" stroke="#EDA81C" stroke-width="0.6" opacity="0.66"/>
<path d="M266.5 46.0Q272.1 44.0 277.3 40.9Q280.4 40.9 283.2 42.7" stroke="#EDA81C" stroke-width="0.75" opacity="0.87"/>
<path d="M256.4 17.6Q260.9 17.8 263.8 22.8Q268.8 24.3 264.7 33.1Q262.0 37.7 265.9 43.8" stroke="#F2B01E" stroke-width="0.9" opacity="0.95"/>
<path d="M277.5 26.5Q280.2 24.4 284.0 28.4Q287.3 28.3 290.3 26.3Q292.7 23.9 296.4 29.2" stroke="#E09A14" stroke-width="1.4" opacity="0.75"/>
<path d="M326.8 19.6Q323.2 16.7 317.6 18.2Q311.6 16.2 307.5 26.1Q304.3 29.2 299.2 29.5" stroke="#F5B824" stroke-width="0.9" opacity="0.99"/>
<circle cx="318.1" cy="23.3" r="2.2" fill="#0a0600" opacity="0.8"/>
<circle cx="274.0" cy="26.7" r="2.9" fill="#0a0600" opacity="0.8"/>
</g></g>
<g clip-path="url(#cf2)">
<rect x="331.2" y="17.9" width="70.6" height="23.6" fill="#0a0600"/>
<g fill="none" opacity="0.25" filter="url(#b03)">
<rect x="331.2" y="17.9" width="70.6" height="23.6" filter="url(#gweb)" opacity="0.85"/>
<path d="M373.2 19.4Q377.8 19.5 380.1 13.2Q382.0 10.0 387.1 10.4Q390.7 11.4 390.1 3.5" stroke="#F5B824" stroke-width="0.75" opacity="0.54"/>
<path d="M388.8 25.2Q385.1 24.3 381.5 27.6Q378.5 28.8 377.2 32.4Q373.0 35.6 372.8 42.0" stroke="#F2B01E" stroke-width="0.9" opacity="0.70"/>
<path d="M356.5 27.1Q352.1 27.5 352.6 35.1Q350.0 37.2 351.0 41.6Q351.5 45.8 344.9 47.5Q340.7 52.4 339.8 59.4" stroke="#F2B01E" stroke-width="0.75" opacity="0.70"/>
<path d="M407.0 40.7Q410.8 37.9 416.4 41.0Q419.9 43.1 424.0 43.9Q429.1 42.2 434.0 39.9Q436.6 38.2 439.7 42.5" stroke="#F9CA3A" stroke-width="0.6" opacity="0.84"/>
<path d="M375.6 33.2Q372.9 35.5 368.9 31.3Q365.1 27.2 357.9 29.3Q352.1 31.2 351.3 19.0Q347.0 14.7 339.5 16.2" stroke="#D48C10" stroke-width="1.4" opacity="0.84"/>
<path d="M354.1 14.8Q351.8 17.2 355.9 21.2Q358.6 23.8 351.7 27.4Q349.7 33.2 353.4 39.6" stroke="#FFD64A" stroke-width="0.75" opacity="0.51"/>
<path d="M377.5 41.7Q374.7 43.2 371.4 40.0Q366.8 40.8 363.0 36.1Q359.0 37.1 355.0 38.0Q351.1 39.7 347.2 41.3" stroke="#FFD64A" stroke-width="0.6" opacity="0.87"/>
<path d="M367.9 20.2Q365.1 17.0 362.9 13.4Q360.9 8.4 359.8 3.2" stroke="#E09A14" stroke-width="1.4" opacity="0.83"/>
<path d="M370.6 17.2Q366.6 17.1 362.6 18.4Q357.5 21.7 353.3 10.6Q348.0 8.6 345.8 2.2" stroke="#E09A14" stroke-width="1.1" opacity="0.72"/>
<path d="M329.5 31.5Q331.3 36.9 323.2 41.0Q323.4 47.2 318.0 52.3" stroke="#F9CA3A" stroke-width="0.9" opacity="0.89"/>
<path d="M404.0 29.3Q405.9 26.7 403.6 22.9Q404.6 17.7 411.0 15.5Q414.0 10.5 421.7 11.2Q425.2 11.0 427.8 7.7" stroke="#E09A14" stroke-width="0.6" opacity="0.62"/>
<path d="M343.1 39.7Q346.9 43.7 354.2 39.8Q359.9 42.3 365.4 45.1" stroke="#F5B824" stroke-width="1.1" opacity="0.57"/>
<path d="M406.6 43.0Q410.1 39.8 416.0 41.1Q421.7 38.5 426.5 48.0Q431.3 51.9 437.1 54.3Q440.5 54.3 443.7 52.4" stroke="#D48C10" stroke-width="1.4" opacity="0.86"/>
<path d="M407.3 33.1Q412.7 34.5 415.7 25.6Q416.9 20.4 416.9 14.9Q415.5 11.1 422.1 8.8" stroke="#FFD64A" stroke-width="1.4" opacity="0.69"/>
<path d="M391.0 42.4Q388.0 36.9 379.8 36.7Q377.7 33.2 372.4 33.5Q368.7 33.7 365.1 34.9Q360.9 33.1 357.1 30.5" stroke="#F2B01E" stroke-width="0.6" opacity="0.88"/>
<path d="M341.0 39.0Q340.2 42.9 343.9 46.3Q343.7 50.2 343.8 54.1Q342.7 60.3 337.7 65.1Q335.0 70.7 325.9 68.5" stroke="#E09A14" stroke-width="0.6" opacity="0.73"/>
<path d="M350.1 18.8Q355.4 15.9 357.2 28.5Q360.2 29.5 363.5 28.7Q366.1 31.0 369.0 32.9" stroke="#FFD64A" stroke-width="0.75" opacity="0.71"/>
<path d="M379.8 37.9Q373.4 38.4 367.0 38.6Q363.1 39.4 359.7 35.5Q355.3 33.6 355.9 26.6" stroke="#F9CA3A" stroke-width="1.4" opacity="0.52"/>
<path d="M369.0 36.9Q373.7 36.9 378.3 35.3Q382.1 34.0 386.2 33.8Q391.8 34.8 397.3 36.5Q401.3 38.2 405.8 38.3" stroke="#D48C10" stroke-width="0.6" opacity="0.94"/>
<path d="M362.7 40.3Q365.8 35.5 363.0 28.9Q366.7 24.7 364.0 17.7" stroke="#F2B01E" stroke-width="1.1" opacity="0.87"/>
<path d="M388.2 43.5Q394.0 42.3 399.7 40.6Q404.1 36.7 406.8 31.2Q410.3 26.9 414.7 23.5Q416.9 18.6 423.1 16.9" stroke="#FFD64A" stroke-width="0.6" opacity="0.60"/>
<path d="M329.4 19.2Q325.9 19.7 323.2 22.6Q321.3 25.5 317.6 26.7Q315.0 31.9 306.1 27.7Q303.2 29.1 299.8 26.3" stroke="#EDA81C" stroke-width="0.9" opacity="0.52"/>
<path d="M347.2 44.3Q342.7 40.4 341.7 33.6Q338.6 31.6 343.7 26.6Q347.0 24.0 350.4 21.5Q352.6 17.8 355.0 14.2" stroke="#E09A14" stroke-width="1.4" opacity="0.97"/>
<path d="M405.8 18.2Q410.7 14.1 417.2 12.3Q423.1 11.8 423.1 2.1Q424.9 -1.1 427.7 -3.8Q427.9 -7.2 434.4 -5.1" stroke="#F2B01E" stroke-width="1.1" opacity="0.94"/>
<path d="M326.2 18.8Q331.7 19.9 330.4 29.2Q333.9 31.6 337.4 34.0Q341.8 37.6 344.4 43.1Q348.4 44.0 343.7 51.3" stroke="#F9CA3A" stroke-width="0.9" opacity="1.00"/>
<path d="M366.8 39.6Q364.9 35.2 357.9 35.8Q353.8 37.0 349.9 33.0Q344.7 29.6 337.6 33.0Q333.9 35.6 329.0 30.3" stroke="#E09A14" stroke-width="0.6" opacity="0.85"/>
<path d="M353.9 14.2Q356.2 18.7 363.4 10.9Q368.7 8.7 372.2 3.4Q374.0 -0.1 380.1 2.8" stroke="#F5B824" stroke-width="0.75" opacity="0.76"/>
<path d="M348.8 39.2Q346.3 36.8 342.1 41.5Q338.9 43.2 336.5 46.1Q333.1 48.3 328.7 47.9Q324.3 48.9 320.1 45.5" stroke="#F5B824" stroke-width="1.1" opacity="1.00"/>
<path d="M327.2 25.4Q331.5 21.7 323.9 14.5Q321.0 10.0 317.5 5.9" stroke="#E09A14" stroke-width="0.75" opacity="0.67"/>
<path d="M385.8 21.0Q389.6 22.3 392.6 16.9Q394.5 13.2 401.0 17.3" stroke="#F9CA3A" stroke-width="1.1" opacity="0.86"/>
<path d="M352.9 26.9Q349.2 25.2 347.7 20.6Q343.6 18.9 339.5 17.2Q336.0 17.9 335.1 11.6" stroke="#D48C10" stroke-width="1.4" opacity="0.64"/>
<path d="M387.1 40.3Q389.5 38.1 392.3 36.4Q397.9 34.1 404.3 37.5Q407.5 36.4 410.5 39.7" stroke="#FFD64A" stroke-width="0.9" opacity="0.52"/>
<path d="M402.5 36.5Q402.5 42.1 404.9 47.4Q404.9 51.0 403.6 54.5Q399.5 59.2 407.9 66.2Q410.8 68.4 411.7 72.5" stroke="#F9CA3A" stroke-width="0.75" opacity="0.69"/>
<path d="M393.0 33.5Q395.0 28.2 395.0 22.3Q395.6 17.5 399.5 13.7" stroke="#F2B01E" stroke-width="0.75" opacity="0.84"/>
<path d="M346.2 31.9Q342.6 32.0 341.4 37.3Q340.2 40.8 336.3 42.7" stroke="#F2B01E" stroke-width="1.4" opacity="0.86"/>
<path d="M335.9 19.7Q335.5 23.2 335.1 26.6Q334.5 31.8 332.7 36.8" stroke="#EDA81C" stroke-width="0.9" opacity="0.88"/>
<path d="M345.2 22.8Q348.8 27.6 355.7 28.6Q359.0 33.4 367.2 26.5Q370.2 27.6 372.2 30.5" stroke="#FFD64A" stroke-width="1.4" opacity="0.89"/>
<path d="M400.4 40.8Q394.7 39.5 396.5 29.9Q392.5 26.5 391.9 20.4Q391.9 16.4 392.3 12.5Q390.6 8.7 390.4 4.4" stroke="#F9CA3A" stroke-width="1.4" opacity="0.80"/>
<path d="M403.5 23.7Q403.6 28.2 411.6 27.9Q414.0 29.8 417.8 27.9Q422.4 24.3 429.4 26.7Q433.1 28.4 436.7 22.8" stroke="#F2B01E" stroke-width="1.1" opacity="0.99"/>
<path d="M354.5 21.4Q353.7 25.0 349.5 26.9Q347.6 32.9 346.2 39.1Q344.5 43.2 341.2 46.4" stroke="#D48C10" stroke-width="1.4" opacity="0.75"/>
<path d="M407.7 45.2Q409.1 41.6 403.8 38.6Q400.0 34.1 393.6 32.5Q388.8 32.6 392.0 23.0" stroke="#F2B01E" stroke-width="0.75" opacity="0.73"/>
<path d="M385.6 17.6Q388.6 12.6 393.9 9.3Q395.0 3.1 394.8 -3.2Q393.1 -6.9 396.2 -11.1" stroke="#FFD64A" stroke-width="0.6" opacity="0.59"/>
<path d="M366.2 21.2Q371.2 24.0 372.7 30.5Q376.7 33.1 373.6 39.9Q375.0 46.1 381.2 49.9" stroke="#E09A14" stroke-width="1.4" opacity="0.79"/>
<path d="M358.9 31.8Q363.5 29.3 369.3 33.1Q373.7 33.5 376.7 28.2Q381.2 24.0 385.3 19.6Q389.7 18.2 384.6 10.3" stroke="#F9CA3A" stroke-width="1.1" opacity="0.66"/>
<path d="M397.0 36.4Q394.2 31.6 385.9 36.4Q379.8 35.6 376.3 44.3Q372.9 45.2 370.4 48.1" stroke="#FFD64A" stroke-width="1.4" opacity="0.77"/>
<path d="M386.9 28.9Q386.4 34.8 387.3 40.8Q388.3 44.5 384.4 47.8Q381.5 50.3 382.1 55.1Q382.2 61.2 379.4 67.1" stroke="#FFD64A" stroke-width="1.4" opacity="0.98"/>
<path d="M394.2 40.6Q389.5 38.8 385.5 45.5Q383.3 48.8 378.5 49.3Q375.2 52.3 370.7 53.3Q365.3 55.1 359.4 54.0" stroke="#F9CA3A" stroke-width="0.6" opacity="0.96"/>
<path d="M334.8 15.3Q336.9 18.5 342.3 13.9Q347.0 10.9 351.2 7.1Q354.3 4.7 359.1 7.3" stroke="#E09A14" stroke-width="1.1" opacity="0.54"/>
<path d="M354.9 17.5Q351.2 14.5 350.5 9.2Q347.5 4.0 348.7 -2.6" stroke="#F2B01E" stroke-width="0.75" opacity="0.81"/>
<path d="M329.0 19.8Q325.0 16.1 318.8 16.1Q313.9 16.5 312.9 8.2" stroke="#E09A14" stroke-width="1.1" opacity="0.82"/>
<path d="M339.6 26.7Q335.6 23.4 337.8 16.4Q338.7 12.4 337.1 8.2Q337.9 4.8 341.4 2.5Q344.5 -0.3 346.7 -4.0" stroke="#D48C10" stroke-width="1.4" opacity="0.60"/>
<path d="M387.8 29.2Q383.5 32.1 386.0 39.4Q383.7 43.0 382.7 47.3Q379.1 49.5 374.8 49.9" stroke="#EDA81C" stroke-width="0.9" opacity="0.61"/>
<path d="M375.6 24.3Q375.1 29.4 369.8 32.7Q367.3 35.5 371.1 40.1Q372.6 43.9 369.3 48.0" stroke="#F2B01E" stroke-width="0.75" opacity="0.83"/>
<path d="M338.4 17.2Q336.3 21.5 329.1 19.2Q326.1 20.6 322.5 19.7" stroke="#F5B824" stroke-width="0.75" opacity="0.76"/>
<path d="M340.6 27.4Q339.2 24.3 334.2 25.4Q330.2 25.0 326.2 24.7Q322.7 21.4 317.0 21.9Q313.7 18.8 308.0 20.0" stroke="#FFD64A" stroke-width="1.1" opacity="0.87"/>
<path d="M333.3 32.1Q327.2 30.5 325.4 42.0Q323.1 45.4 323.2 50.0Q320.5 54.3 318.9 59.2Q320.0 64.5 310.9 66.5" stroke="#EDA81C" stroke-width="0.75" opacity="0.93"/>
<path d="M393.0 38.5Q396.7 39.4 400.5 39.7Q404.6 38.9 408.4 42.6" stroke="#EDA81C" stroke-width="0.6" opacity="0.67"/>
<path d="M384.1 24.4Q380.3 24.6 376.4 24.5Q372.7 27.6 367.6 21.0" stroke="#F2B01E" stroke-width="1.1" opacity="0.82"/>
<path d="M405.6 34.2Q406.4 30.3 412.9 31.0Q418.5 30.8 419.9 22.2" stroke="#EDA81C" stroke-width="1.4" opacity="0.70"/>
<path d="M326.2 21.7Q325.1 24.8 331.3 25.8Q334.5 28.8 336.0 33.1" stroke="#E09A14" stroke-width="0.75" opacity="0.82"/>
<path d="M379.4 40.5Q375.2 38.7 370.9 43.7Q366.5 47.1 359.9 45.2Q355.8 49.0 349.4 41.2" stroke="#EDA81C" stroke-width="1.1" opacity="0.89"/>
<path d="M337.1 21.0Q336.9 25.8 329.0 26.5Q325.8 28.3 327.0 33.5Q324.1 36.5 331.8 40.3" stroke="#FFD64A" stroke-width="1.4" opacity="0.71"/>
<path d="M392.7 23.9Q398.1 24.3 398.5 33.1Q400.1 39.2 410.4 37.2Q414.7 38.0 418.3 40.9" stroke="#E09A14" stroke-width="0.75" opacity="0.73"/>
<path d="M398.4 16.6Q401.6 16.4 404.6 18.4Q408.6 16.7 412.7 15.5Q416.2 11.2 423.7 14.9Q428.7 14.2 432.1 9.3" stroke="#EDA81C" stroke-width="0.6" opacity="0.63"/>
<path d="M345.1 42.2Q348.0 39.4 352.2 38.4Q358.2 37.2 355.8 26.6Q355.8 23.4 360.5 22.3Q361.3 18.2 366.3 16.4" stroke="#F5B824" stroke-width="1.1" opacity="0.67"/>
<path d="M378.2 44.4Q373.8 48.9 375.8 56.9Q374.2 59.9 378.7 63.0Q381.3 64.6 381.9 68.2Q385.1 73.3 382.5 80.2" stroke="#D48C10" stroke-width="1.1" opacity="0.76"/>
<path d="M385.6 24.9Q387.2 31.1 387.1 37.6Q386.0 41.3 388.2 45.1Q390.5 49.3 394.5 52.2Q396.2 56.7 402.5 57.7" stroke="#EDA81C" stroke-width="0.6" opacity="0.97"/>
<path d="M339.0 31.8Q337.3 36.5 331.7 38.7Q330.1 41.6 330.9 45.2Q333.1 49.4 327.6 53.9Q324.4 57.9 319.2 59.8" stroke="#EDA81C" stroke-width="0.9" opacity="0.52"/>
<path d="M361.9 30.4Q360.9 27.3 356.3 26.9Q354.7 23.3 348.7 24.7Q346.6 21.7 343.2 20.1" stroke="#F9CA3A" stroke-width="0.6" opacity="0.53"/>
<path d="M362.2 19.2Q358.9 17.5 359.5 12.2Q355.8 7.5 348.5 7.3" stroke="#F5B824" stroke-width="1.4" opacity="0.71"/>
<path d="M326.4 38.6Q326.3 34.3 324.5 30.3Q321.3 26.6 322.5 20.6" stroke="#D48C10" stroke-width="1.1" opacity="0.77"/>
<path d="M401.2 24.2Q396.7 22.5 394.7 31.5Q390.6 32.2 389.9 38.4Q385.1 40.2 387.2 48.4" stroke="#F5B824" stroke-width="0.9" opacity="0.74"/>
<path d="M397.0 33.5Q394.0 36.9 388.5 37.0Q382.6 35.0 382.6 47.9Q378.9 50.2 385.4 56.1Q388.2 58.0 390.8 60.1" stroke="#F2B01E" stroke-width="1.4" opacity="0.78"/>
<path d="M404.4 16.5Q404.3 11.6 400.8 7.5Q401.3 3.5 394.7 2.3" stroke="#E09A14" stroke-width="1.4" opacity="0.52"/>
<path d="M406.2 21.7Q407.5 25.9 409.0 30.1Q410.7 35.9 416.1 39.9Q418.1 43.3 423.1 43.4Q426.4 48.7 432.9 51.1" stroke="#EDA81C" stroke-width="0.75" opacity="0.84"/>
<circle cx="358.2" cy="28.9" r="3.0" fill="#0a0600" opacity="0.8"/>
<circle cx="350.2" cy="26.8" r="1.8" fill="#0a0600" opacity="0.8"/>
</g></g>
<g clip-path="url(#cf3)">
<rect x="403.9" y="17.9" width="71.3" height="23.6" fill="#0a0600"/>
<g fill="none" opacity="0.1" filter="url(#b03)">
<rect x="403.9" y="17.9" width="71.3" height="23.6" filter="url(#gweb)" opacity="0.85"/>
<path d="M410.2 33.6Q414.6 36.7 418.4 40.4Q421.5 43.6 422.5 48.4Q423.2 53.3 420.4 58.0Q418.3 60.9 419.6 65.2" stroke="#D48C10" stroke-width="0.75" opacity="0.54"/>
<path d="M402.3 19.1Q398.1 14.9 392.0 13.2Q387.7 11.4 383.6 8.8Q381.0 6.9 380.5 3.1Q377.1 0.5 375.5 -3.9" stroke="#D48C10" stroke-width="1.1" opacity="0.92"/>
<path d="M409.0 39.9Q405.1 43.1 403.4 48.3Q401.0 52.7 395.6 54.5" stroke="#E09A14" stroke-width="0.9" opacity="0.82"/>
<path d="M437.1 44.7Q430.9 46.7 428.6 54.5Q427.5 58.2 422.7 59.5Q420.8 64.0 413.0 60.4Q409.8 63.3 406.9 66.5" stroke="#F9CA3A" stroke-width="0.75" opacity="0.65"/>
<path d="M462.8 30.5Q466.5 29.3 470.3 32.3Q474.0 33.0 476.8 36.1Q480.2 37.7 484.3 35.3Q488.4 33.1 490.3 28.2" stroke="#F9CA3A" stroke-width="0.9" opacity="0.58"/>
<path d="M407.8 18.0Q404.5 20.2 400.0 18.6Q395.5 17.8 392.1 14.1Q386.8 14.9 381.4 14.6" stroke="#F2B01E" stroke-width="1.1" opacity="0.79"/>
<path d="M415.1 37.8Q413.0 43.5 410.8 49.2Q406.2 52.5 403.6 58.0" stroke="#F5B824" stroke-width="0.6" opacity="0.63"/>
<path d="M431.8 19.1Q426.4 18.1 421.1 21.4Q416.6 20.2 413.5 26.8" stroke="#F2B01E" stroke-width="0.75" opacity="0.86"/>
<path d="M470.1 14.9Q470.4 18.4 473.8 20.8Q478.9 23.1 474.8 32.0" stroke="#D48C10" stroke-width="0.75" opacity="0.73"/>
<path d="M463.6 35.8Q464.7 33.0 462.8 29.8Q465.1 25.4 461.3 20.0Q457.0 15.4 465.3 7.9Q469.9 4.7 459.5 -1.8" stroke="#D48C10" stroke-width="1.1" opacity="0.78"/>
<path d="M447.7 28.7Q445.2 34.3 437.7 35.6Q435.9 40.2 428.1 38.0Q424.8 37.7 421.4 37.9Q418.1 39.6 416.0 43.1" stroke="#F5B824" stroke-width="1.1" opacity="0.61"/>
<path d="M471.5 17.4Q470.7 21.3 468.0 24.5Q465.6 27.4 466.0 31.7Q464.5 34.5 466.1 38.0" stroke="#D48C10" stroke-width="0.6" opacity="0.80"/>
<path d="M462.0 28.2Q464.2 30.4 458.7 33.4Q455.5 35.9 460.9 41.2Q458.7 47.0 459.8 53.6" stroke="#EDA81C" stroke-width="1.1" opacity="0.60"/>
<path d="M458.8 45.9Q462.0 43.8 466.2 47.6Q470.6 51.1 475.7 53.6Q478.8 58.9 484.3 62.5Q488.2 63.4 485.3 70.4" stroke="#F2B01E" stroke-width="0.9" opacity="0.64"/>
<path d="M440.7 19.4Q444.3 19.8 445.6 24.7Q447.3 30.3 450.2 35.5Q448.5 41.7 456.5 46.7Q457.7 52.8 466.7 53.8" stroke="#D48C10" stroke-width="0.75" opacity="0.86"/>
<path d="M438.7 30.1Q439.0 25.6 435.1 21.8Q432.2 18.0 426.3 17.8" stroke="#F9CA3A" stroke-width="0.6" opacity="0.71"/>
<path d="M459.6 29.7Q458.2 35.7 465.2 40.6Q465.3 44.7 468.8 48.0" stroke="#FFD64A" stroke-width="0.6" opacity="0.86"/>
<path d="M413.9 25.8Q418.5 27.2 423.2 23.1Q426.4 22.3 429.5 25.0Q433.0 29.3 434.8 34.6" stroke="#F9CA3A" stroke-width="0.9" opacity="0.71"/>
<path d="M400.7 45.4Q404.6 46.8 408.8 47.5Q413.1 47.4 416.2 51.9Q422.3 52.9 428.1 55.1" stroke="#F5B824" stroke-width="0.9" opacity="0.57"/>
<path d="M476.1 25.7Q471.2 22.7 473.4 14.4Q469.3 9.5 467.6 2.9" stroke="#F2B01E" stroke-width="1.1" opacity="0.73"/>
<path d="M468.3 30.0Q471.9 27.6 475.3 25.0Q481.5 25.3 487.7 25.3Q492.2 28.9 497.4 31.5Q503.6 30.8 504.0 42.1" stroke="#F9CA3A" stroke-width="0.75" opacity="0.76"/>
<path d="M411.2 33.5Q407.0 31.4 402.0 35.6Q396.1 34.9 393.4 43.8Q388.3 45.5 386.8 52.3Q382.3 55.3 377.6 58.0" stroke="#F5B824" stroke-width="1.1" opacity="0.67"/>
<path d="M405.3 30.5Q400.8 28.6 397.8 24.1Q396.1 21.2 391.5 21.6" stroke="#D48C10" stroke-width="1.1" opacity="0.65"/>
<path d="M448.0 40.7Q442.9 38.1 443.3 30.3Q441.7 26.9 442.2 22.8" stroke="#F5B824" stroke-width="0.9" opacity="0.81"/>
<path d="M405.6 26.4Q400.8 28.9 398.7 34.7Q393.0 36.6 386.7 35.9Q380.6 34.9 374.7 32.9Q370.5 34.2 370.0 25.5" stroke="#F9CA3A" stroke-width="0.9" opacity="0.74"/>
<path d="M467.2 42.5Q471.3 46.5 473.3 52.3Q476.0 57.9 471.4 64.7Q468.4 68.8 462.7 69.9Q460.7 73.7 454.1 70.7" stroke="#D48C10" stroke-width="1.1" opacity="0.90"/>
<path d="M462.9 14.4Q464.7 11.5 469.4 16.5Q472.8 19.4 477.4 12.5Q482.1 12.0 486.8 12.8" stroke="#F5B824" stroke-width="1.4" opacity="0.74"/>
<path d="M465.6 43.6Q470.6 46.8 468.6 55.1Q469.1 59.0 469.1 62.8Q469.4 68.3 471.7 73.5Q473.9 76.6 476.4 79.6" stroke="#F2B01E" stroke-width="1.1" opacity="0.54"/>
<path d="M452.8 17.5Q458.9 15.6 465.1 21.2Q471.6 21.6 477.3 25.6Q481.1 27.8 486.1 25.0Q492.4 26.6 497.7 19.3" stroke="#EDA81C" stroke-width="0.75" opacity="0.88"/>
<path d="M417.3 29.8Q413.1 32.6 407.8 33.2Q401.6 34.0 400.4 43.4Q399.5 47.8 396.7 51.6Q393.4 56.1 389.9 60.5" stroke="#F2B01E" stroke-width="0.6" opacity="1.00"/>
<path d="M418.9 36.5Q413.6 33.5 416.2 24.6Q417.0 21.0 419.1 18.0" stroke="#FFD64A" stroke-width="0.6" opacity="0.62"/>
<path d="M450.8 37.6Q448.7 43.5 451.3 50.1Q448.3 54.8 444.9 59.0" stroke="#E09A14" stroke-width="0.9" opacity="0.89"/>
<path d="M416.3 25.9Q422.0 24.3 427.5 29.5Q432.9 27.6 438.9 30.8Q443.1 33.6 448.1 26.6Q450.7 24.4 451.0 20.4" stroke="#F9CA3A" stroke-width="1.1" opacity="0.80"/>
<path d="M450.3 19.7Q446.2 17.6 441.2 20.5Q437.5 21.1 434.1 22.9Q430.0 25.4 424.8 25.3Q418.4 25.3 419.3 36.7" stroke="#F9CA3A" stroke-width="0.75" opacity="0.56"/>
<path d="M442.8 38.2Q448.6 35.4 453.1 30.5Q456.2 26.5 460.6 23.8Q465.6 23.7 466.5 15.7" stroke="#E09A14" stroke-width="0.6" opacity="0.85"/>
<path d="M445.4 42.4Q439.4 41.4 433.9 38.4Q431.8 34.9 430.1 31.2Q426.4 29.1 433.0 23.0Q435.7 19.6 429.7 15.0" stroke="#F9CA3A" stroke-width="1.1" opacity="0.78"/>
<path d="M417.5 25.6Q421.3 20.7 428.7 20.0Q435.1 19.1 441.5 21.9Q447.1 20.3 452.3 26.3" stroke="#E09A14" stroke-width="0.9" opacity="0.68"/>
<path d="M408.6 39.2Q413.1 39.6 417.6 39.7Q422.1 42.1 426.3 45.2Q428.6 47.2 430.4 49.7Q431.7 53.7 433.0 57.8" stroke="#EDA81C" stroke-width="0.9" opacity="0.69"/>
<path d="M398.6 25.5Q401.3 30.8 410.0 29.2Q413.4 29.7 416.4 31.6" stroke="#F2B01E" stroke-width="0.9" opacity="0.61"/>
<path d="M443.9 45.7Q442.1 49.2 450.2 50.5Q453.7 51.0 455.3 55.2Q460.5 57.4 462.3 64.1Q468.2 65.3 464.6 75.8" stroke="#F5B824" stroke-width="0.6" opacity="0.94"/>
<path d="M411.1 43.4Q414.2 43.6 415.8 39.4Q420.4 35.2 420.0 27.6Q421.1 22.9 416.0 18.8Q413.2 13.9 418.2 7.6" stroke="#F2B01E" stroke-width="0.6" opacity="0.91"/>
<path d="M477.2 22.8Q471.7 23.4 466.0 23.2Q460.6 19.6 455.7 31.0Q452.3 32.5 449.3 34.7Q446.0 37.6 440.6 35.6" stroke="#E09A14" stroke-width="1.1" opacity="0.55"/>
<path d="M477.5 31.7Q480.4 28.2 486.4 30.3Q492.5 30.7 498.5 29.0Q502.4 25.6 508.8 30.0" stroke="#F2B01E" stroke-width="0.6" opacity="0.97"/>
<path d="M449.0 23.7Q450.7 29.4 445.3 35.1Q446.2 40.6 450.8 44.8Q454.3 47.6 459.7 46.9Q464.7 50.1 469.9 53.0" stroke="#F2B01E" stroke-width="0.75" opacity="0.87"/>
<path d="M434.7 38.6Q440.7 38.4 445.8 43.4Q451.1 46.8 458.0 46.6Q461.3 50.9 467.7 41.7" stroke="#F9CA3A" stroke-width="0.75" opacity="0.79"/>
<path d="M472.1 15.0Q472.4 20.1 473.5 25.0Q475.4 27.4 474.0 31.2Q475.9 33.8 476.3 37.2" stroke="#F2B01E" stroke-width="1.4" opacity="0.89"/>
<path d="M406.5 37.2Q403.9 35.3 400.6 34.7Q396.2 33.9 391.6 34.7Q386.9 31.5 383.5 26.7" stroke="#EDA81C" stroke-width="1.1" opacity="0.58"/>
<path d="M435.2 38.8Q435.7 35.4 430.6 33.7Q429.1 28.5 421.1 28.4Q416.8 28.8 417.9 20.4Q415.2 17.2 413.2 13.5" stroke="#F5B824" stroke-width="1.1" opacity="0.77"/>
<path d="M431.1 29.2Q437.1 27.0 442.8 23.9Q448.7 24.0 453.4 18.7" stroke="#E09A14" stroke-width="0.9" opacity="0.85"/>
<path d="M447.5 41.5Q450.7 45.1 454.6 48.1Q457.2 53.8 464.0 56.5Q468.3 59.6 467.9 66.4Q469.2 70.1 466.9 74.2" stroke="#F2B01E" stroke-width="0.9" opacity="0.64"/>
<path d="M441.7 24.9Q437.3 24.7 434.9 30.3Q431.9 33.9 434.5 39.7Q437.3 44.3 438.0 49.8Q437.1 54.9 438.8 60.0" stroke="#F5B824" stroke-width="0.6" opacity="0.86"/>
<path d="M458.7 38.7Q462.2 41.8 467.7 35.7Q472.5 32.4 471.9 24.8" stroke="#F9CA3A" stroke-width="1.4" opacity="0.60"/>
<path d="M473.9 32.9Q477.6 34.5 480.5 28.4Q483.0 24.0 484.3 19.0Q487.7 15.5 486.1 9.3Q487.8 5.9 490.3 2.9" stroke="#EDA81C" stroke-width="1.4" opacity="0.59"/>
<path d="M425.8 35.2Q424.6 30.7 423.7 26.1Q425.0 21.5 429.3 18.3Q432.7 13.5 435.3 8.1" stroke="#FFD64A" stroke-width="0.9" opacity="0.65"/>
<path d="M447.0 38.9Q441.9 40.2 443.3 48.7Q440.4 51.2 440.5 55.8Q438.4 58.9 435.1 61.2Q433.6 67.1 430.1 72.3" stroke="#D48C10" stroke-width="0.6" opacity="0.92"/>
<path d="M480.1 16.4Q476.4 19.3 472.9 22.5Q470.9 27.0 463.2 22.4Q457.0 20.9 453.6 30.8" stroke="#E09A14" stroke-width="1.4" opacity="0.66"/>
<path d="M415.3 22.1Q419.3 26.1 425.2 16.5Q430.6 15.8 434.0 10.2" stroke="#F2B01E" stroke-width="0.9" opacity="0.55"/>
<path d="M473.1 45.1Q477.5 49.0 477.2 56.0Q479.4 58.9 477.7 63.3" stroke="#E09A14" stroke-width="1.1" opacity="0.67"/>
<path d="M479.6 39.0Q474.2 37.1 470.7 31.6Q466.2 31.4 461.7 31.7" stroke="#E09A14" stroke-width="0.6" opacity="0.51"/>
<path d="M470.3 29.9Q471.0 34.3 465.7 37.6Q461.3 42.0 464.0 49.9" stroke="#F2B01E" stroke-width="1.4" opacity="0.68"/>
<path d="M464.2 34.2Q466.6 36.6 469.4 38.4Q471.2 40.9 469.7 44.5" stroke="#F9CA3A" stroke-width="0.75" opacity="0.99"/>
<path d="M456.2 17.3Q454.2 13.4 448.5 12.9Q445.1 7.9 443.3 2.0" stroke="#FFD64A" stroke-width="1.1" opacity="0.75"/>
<path d="M444.9 19.0Q450.9 18.0 456.9 21.3Q459.6 23.4 461.0 26.8Q467.1 29.0 458.5 39.4Q456.7 42.2 452.6 42.7" stroke="#F5B824" stroke-width="1.1" opacity="0.80"/>
<path d="M465.1 39.6Q468.0 37.1 464.7 31.8Q466.2 29.2 460.5 27.4Q459.6 24.3 454.1 26.1Q448.6 27.5 443.5 30.2" stroke="#EDA81C" stroke-width="0.75" opacity="0.68"/>
<path d="M446.6 30.3Q447.9 24.3 443.4 18.4Q442.9 13.7 435.7 12.9" stroke="#D48C10" stroke-width="1.1" opacity="0.61"/>
<path d="M427.2 25.8Q425.6 28.4 424.2 31.1Q424.5 35.2 419.8 38.0Q419.0 42.2 413.5 43.8" stroke="#D48C10" stroke-width="0.9" opacity="0.75"/>
<path d="M455.7 29.8Q453.5 34.9 459.1 40.4Q461.4 44.4 455.7 49.0" stroke="#EDA81C" stroke-width="1.1" opacity="0.52"/>
<path d="M454.6 19.5Q453.0 16.8 451.0 14.2Q448.7 10.3 444.2 8.3Q443.0 2.6 434.8 1.2Q429.1 0.7 423.3 1.2" stroke="#F5B824" stroke-width="0.6" opacity="0.87"/>
<path d="M403.3 41.3Q398.9 41.4 394.6 42.1Q391.6 40.1 388.1 38.9Q382.4 37.1 376.6 41.9Q371.8 40.7 366.7 42.4" stroke="#EDA81C" stroke-width="0.75" opacity="0.88"/>
<path d="M445.6 29.7Q446.3 24.8 447.7 20.1Q445.9 16.0 453.8 13.6" stroke="#F5B824" stroke-width="0.6" opacity="0.85"/>
<path d="M479.3 18.0Q477.7 15.4 481.6 12.4Q481.9 8.1 485.8 4.8Q488.6 1.1 493.4 -0.5Q499.2 -2.5 500.2 -10.7" stroke="#FFD64A" stroke-width="0.75" opacity="0.98"/>
<path d="M419.0 35.2Q420.8 41.2 422.2 47.3Q426.6 50.7 418.4 57.8Q414.5 60.9 412.7 65.9" stroke="#EDA81C" stroke-width="0.75" opacity="0.54"/>
<path d="M467.6 41.6Q468.2 47.2 458.7 48.7Q452.3 48.7 446.2 46.1Q442.3 41.8 434.6 46.0" stroke="#E09A14" stroke-width="1.1" opacity="0.62"/>
<path d="M419.4 33.4Q417.1 36.0 412.5 32.9Q408.7 31.4 404.4 32.1Q398.5 34.5 391.8 30.6Q388.1 28.9 386.8 24.1" stroke="#FFD64A" stroke-width="0.75" opacity="0.73"/>
<path d="M419.1 14.6Q416.3 19.5 411.9 23.2Q408.0 26.3 409.9 33.0Q410.2 37.3 415.1 39.8" stroke="#D48C10" stroke-width="0.6" opacity="0.70"/>
<circle cx="471.4" cy="38.0" r="2.9" fill="#0a0600" opacity="0.8"/>
<circle cx="406.8" cy="37.4" r="2.8" fill="#0a0600" opacity="0.8"/>
</g></g>
<g clip-path="url(#cf4)">
<rect x="257.7" y="53.9" width="71.2" height="24" fill="#0a0600"/>
<g fill="none" opacity="1" filter="url(#b03)">
<rect x="257.7" y="53.9" width="71.2" height="24" filter="url(#gweb)" opacity="0.85"/>
<path d="M333.2 64.4Q333.6 58.6 339.3 54.4Q343.1 50.4 344.4 44.5Q347.1 41.3 348.1 37.0Q349.9 34.0 354.8 35.2" stroke="#EDA81C" stroke-width="0.75" opacity="0.98"/>
<path d="M309.2 69.5Q306.7 73.2 303.7 76.5Q299.8 78.6 297.3 82.6Q294.7 87.9 290.9 92.5Q286.2 94.4 283.8 99.7" stroke="#F9CA3A" stroke-width="0.9" opacity="0.86"/>
<path d="M327.1 74.7Q322.8 72.5 317.6 76.5Q314.0 79.4 308.8 79.5Q306.3 82.6 301.7 76.4" stroke="#EDA81C" stroke-width="0.6" opacity="0.65"/>
<path d="M307.3 53.1Q310.9 49.1 317.1 48.3Q321.3 45.4 327.2 49.5" stroke="#F9CA3A" stroke-width="0.9" opacity="0.87"/>
<path d="M257.1 64.0Q260.8 62.4 265.0 62.5Q268.2 60.4 271.4 66.8Q274.9 66.8 275.8 72.3Q277.9 74.6 281.9 73.3" stroke="#F5B824" stroke-width="0.6" opacity="0.66"/>
<path d="M308.7 77.8Q305.9 74.8 301.0 80.5Q296.8 80.1 297.8 88.4Q293.7 91.6 288.2 92.3" stroke="#FFD64A" stroke-width="1.1" opacity="0.67"/>
<path d="M279.3 70.4Q284.4 71.7 286.3 78.1Q287.5 82.3 288.4 86.7" stroke="#F2B01E" stroke-width="0.9" opacity="0.80"/>
<path d="M328.1 67.3Q324.3 70.3 319.1 70.8Q314.9 70.6 311.8 74.8Q308.4 75.3 305.0 73.5" stroke="#FFD64A" stroke-width="1.4" opacity="0.77"/>
<path d="M324.2 80.6Q329.6 83.7 334.7 73.9Q339.6 72.5 341.9 66.7Q344.8 64.9 347.8 63.3" stroke="#D48C10" stroke-width="1.4" opacity="0.77"/>
<path d="M302.9 53.6Q304.4 59.4 305.3 65.3Q308.4 70.3 312.5 74.5Q313.8 78.8 313.7 83.4" stroke="#F2B01E" stroke-width="1.1" opacity="0.79"/>
<path d="M291.4 55.5Q288.7 51.3 287.8 46.1Q285.7 43.0 283.4 39.9Q283.8 34.6 277.4 31.0Q275.4 28.4 272.8 26.3" stroke="#FFD64A" stroke-width="0.6" opacity="0.83"/>
<path d="M292.2 53.5Q295.5 57.4 298.9 61.2Q302.8 63.0 307.4 62.5" stroke="#FFD64A" stroke-width="0.9" opacity="0.88"/>
<path d="M320.5 80.4Q322.5 86.1 331.0 86.4Q333.6 90.7 340.8 88.0Q347.0 85.9 351.7 95.0" stroke="#E09A14" stroke-width="1.4" opacity="0.66"/>
<path d="M288.7 67.6Q287.1 70.7 288.9 74.6Q287.9 81.0 282.2 85.5Q276.9 87.5 273.8 93.0Q269.6 97.7 268.7 104.5" stroke="#EDA81C" stroke-width="0.9" opacity="0.85"/>
<path d="M297.5 82.2Q292.4 78.2 287.6 73.9Q283.5 73.2 280.1 70.1Q277.7 68.4 274.2 69.0" stroke="#F5B824" stroke-width="0.75" opacity="0.73"/>
<path d="M285.8 56.1Q286.7 52.5 286.2 48.6Q288.8 44.3 286.0 38.5Q288.2 32.7 281.4 26.9Q280.2 23.3 277.9 20.1" stroke="#F2B01E" stroke-width="0.9" opacity="0.80"/>
<path d="M273.7 74.2Q276.9 72.7 280.8 74.7Q285.9 75.9 289.5 80.4Q294.0 84.0 300.6 83.3Q303.8 85.2 306.8 79.0" stroke="#D48C10" stroke-width="0.75" opacity="0.70"/>
<path d="M311.4 55.0Q315.2 52.4 317.5 48.2Q322.4 45.5 323.2 38.7Q323.1 32.7 332.7 31.4Q336.7 29.2 340.7 27.2" stroke="#D48C10" stroke-width="0.6" opacity="0.93"/>
<path d="M256.0 61.7Q253.7 59.4 250.8 57.9Q246.3 55.3 246.9 48.2Q246.7 44.2 239.4 45.9Q236.7 43.6 235.2 40.2" stroke="#E09A14" stroke-width="0.75" opacity="0.98"/>
<path d="M309.3 49.5Q309.2 44.5 312.0 39.9Q313.7 35.9 313.1 31.4Q315.0 27.5 311.2 23.0Q311.9 17.1 317.6 13.1" stroke="#F5B824" stroke-width="1.1" opacity="0.86"/>
<path d="M266.9 79.9Q263.8 78.7 260.3 80.9Q257.1 82.2 253.6 82.5" stroke="#F9CA3A" stroke-width="0.6" opacity="0.82"/>
<path d="M324.0 79.8Q326.2 75.7 321.8 70.8Q322.4 65.3 317.3 60.6" stroke="#F2B01E" stroke-width="1.1" opacity="0.58"/>
<path d="M300.6 65.4Q298.6 60.8 298.1 55.6Q295.1 50.0 297.4 42.9" stroke="#D48C10" stroke-width="1.1" opacity="0.77"/>
<path d="M325.0 54.5Q326.1 59.8 334.2 60.1Q338.3 64.6 339.4 71.1Q342.4 75.3 335.8 80.8" stroke="#E09A14" stroke-width="1.4" opacity="0.85"/>
<path d="M322.3 80.9Q321.5 84.7 325.6 87.9Q326.6 93.5 323.8 99.2" stroke="#EDA81C" stroke-width="0.9" opacity="0.98"/>
<path d="M301.4 54.5Q297.7 51.3 292.3 51.0Q287.1 51.7 288.0 41.5" stroke="#E09A14" stroke-width="0.6" opacity="0.89"/>
<path d="M303.1 69.4Q307.6 71.3 311.3 74.6Q312.6 78.1 312.8 81.9" stroke="#F9CA3A" stroke-width="0.75" opacity="0.74"/>
<path d="M312.1 67.6Q314.3 62.1 319.6 58.5Q323.8 56.8 323.3 50.2Q326.7 47.1 326.0 41.4Q328.6 38.8 331.2 36.2" stroke="#FFD64A" stroke-width="1.4" opacity="0.71"/>
<path d="M285.5 64.8Q282.5 62.9 279.8 60.4Q275.1 59.9 271.8 55.5Q269.1 53.6 265.1 56.1Q260.4 57.2 256.3 60.0" stroke="#D48C10" stroke-width="0.6" opacity="0.77"/>
<path d="M325.1 64.1Q319.8 61.3 320.4 53.1Q318.0 47.4 318.5 41.0Q316.1 38.1 321.7 34.1Q325.1 29.7 328.8 25.4" stroke="#F9CA3A" stroke-width="0.9" opacity="0.76"/>
<path d="M299.7 50.0Q297.2 44.4 304.2 38.6Q303.7 33.7 310.9 31.3Q312.5 28.7 315.1 27.0" stroke="#F2B01E" stroke-width="0.9" opacity="0.70"/>
<path d="M275.6 64.9Q272.2 63.2 269.6 60.3Q268.3 57.0 262.6 60.7Q258.7 61.4 255.5 57.1" stroke="#F5B824" stroke-width="1.1" opacity="0.89"/>
<path d="M266.6 52.8Q270.4 55.1 275.2 50.0Q279.1 50.1 283.0 48.9Q287.6 50.5 292.6 50.1Q296.3 53.1 301.6 47.1" stroke="#EDA81C" stroke-width="1.1" opacity="0.75"/>
<path d="M273.5 54.3Q276.9 54.3 279.3 51.1Q284.9 52.0 289.3 45.9Q292.8 43.6 297.5 47.5Q302.8 49.0 307.5 52.2" stroke="#F9CA3A" stroke-width="1.4" opacity="0.87"/>
<path d="M332.9 60.1Q332.5 55.1 330.3 50.4Q332.2 45.9 333.3 41.1" stroke="#FFD64A" stroke-width="0.9" opacity="0.78"/>
<path d="M289.4 54.2Q287.2 58.1 289.4 63.0Q290.6 68.3 281.3 70.1" stroke="#F9CA3A" stroke-width="1.1" opacity="0.96"/>
<path d="M289.1 54.8Q292.5 57.2 290.0 63.1Q288.0 67.2 288.2 72.1" stroke="#FFD64A" stroke-width="1.4" opacity="0.90"/>
<path d="M308.8 49.2Q306.6 54.6 318.3 55.8Q323.2 58.8 329.7 56.9" stroke="#D48C10" stroke-width="0.75" opacity="0.84"/>
<path d="M312.9 73.0Q315.7 71.1 315.4 66.7Q317.7 64.7 318.5 61.5Q320.6 57.0 315.4 52.2Q315.3 48.9 309.4 49.5" stroke="#D48C10" stroke-width="0.9" opacity="0.54"/>
<path d="M251.8 52.4Q246.7 50.7 242.8 46.6Q236.3 46.7 240.2 33.9" stroke="#E09A14" stroke-width="0.75" opacity="0.64"/>
<path d="M255.2 59.8Q257.7 55.6 265.1 60.2Q267.9 59.2 270.2 57.0" stroke="#EDA81C" stroke-width="0.6" opacity="0.50"/>
<path d="M294.1 51.2Q297.1 55.8 299.7 60.6Q302.1 65.5 299.1 71.5" stroke="#D48C10" stroke-width="1.4" opacity="0.82"/>
<path d="M263.0 66.6Q266.8 62.5 263.0 55.4Q265.4 51.7 269.6 49.5Q275.1 47.5 277.0 40.5Q281.0 37.6 286.5 38.6" stroke="#D48C10" stroke-width="1.1" opacity="0.68"/>
<path d="M276.5 74.2Q279.9 73.7 282.7 71.2Q286.0 71.2 288.8 69.0Q291.4 65.1 297.8 66.6" stroke="#F9CA3A" stroke-width="1.4" opacity="0.91"/>
<path d="M327.3 53.4Q331.3 52.1 334.8 49.8Q337.8 50.3 336.6 43.9Q341.2 39.5 330.8 32.5" stroke="#F9CA3A" stroke-width="0.6" opacity="0.56"/>
<path d="M325.5 68.8Q322.3 66.5 317.9 67.1Q312.9 69.3 309.0 73.6Q304.8 76.7 298.8 70.9" stroke="#F5B824" stroke-width="1.4" opacity="0.77"/>
<path d="M267.8 76.2Q272.3 73.0 277.4 70.7Q283.4 70.2 289.0 67.3" stroke="#E09A14" stroke-width="1.1" opacity="0.95"/>
<path d="M272.0 54.0Q270.8 47.8 270.5 41.4Q269.4 38.6 272.6 35.8" stroke="#F5B824" stroke-width="0.6" opacity="0.85"/>
<path d="M296.6 79.8Q293.3 75.0 285.6 75.7Q281.7 71.0 280.5 64.4Q281.3 58.1 285.1 52.5" stroke="#F9CA3A" stroke-width="0.9" opacity="0.64"/>
<path d="M257.0 76.3Q255.3 79.0 256.1 82.6Q255.4 87.0 248.7 87.5Q246.0 93.1 242.6 98.3" stroke="#F5B824" stroke-width="0.6" opacity="0.78"/>
<path d="M310.2 72.1Q314.9 75.7 315.2 82.9Q314.5 85.9 318.4 88.1" stroke="#F2B01E" stroke-width="1.4" opacity="0.80"/>
<path d="M315.6 71.6Q316.7 76.4 325.1 73.9Q329.8 71.5 335.4 76.0Q340.8 78.4 345.5 69.7Q351.4 69.9 353.1 60.7" stroke="#F5B824" stroke-width="0.6" opacity="0.57"/>
<path d="M270.4 79.6Q267.4 74.7 270.0 68.0Q266.7 63.1 271.0 56.3" stroke="#F9CA3A" stroke-width="0.75" opacity="0.88"/>
<path d="M300.3 63.7Q295.8 62.2 293.3 70.3Q292.1 73.6 286.7 72.9Q282.2 75.7 276.5 70.0" stroke="#E09A14" stroke-width="0.75" opacity="0.95"/>
<path d="M266.4 71.9Q261.7 70.1 256.4 70.7Q250.3 71.1 247.9 61.9Q242.1 60.9 240.5 52.8" stroke="#EDA81C" stroke-width="1.4" opacity="0.89"/>
<path d="M273.8 75.6Q277.0 77.3 280.4 78.5Q282.9 80.5 286.5 76.3Q289.9 77.0 292.7 73.0Q296.9 71.7 300.4 68.7" stroke="#E09A14" stroke-width="0.6" opacity="0.98"/>
<path d="M306.0 65.9Q300.8 65.4 295.7 64.3Q290.7 63.8 285.6 64.7Q282.2 65.2 279.0 66.4Q275.5 68.4 271.0 65.1" stroke="#E09A14" stroke-width="0.9" opacity="0.93"/>
<path d="M304.8 66.7Q301.6 69.4 296.4 65.9Q291.5 66.9 286.9 62.9Q284.3 60.5 279.8 62.1" stroke="#E09A14" stroke-width="0.75" opacity="0.90"/>
<path d="M264.8 65.3Q267.3 67.5 269.7 69.9Q271.9 73.2 272.9 77.2Q275.7 80.3 271.8 85.5" stroke="#F2B01E" stroke-width="1.1" opacity="0.75"/>
<path d="M295.4 67.4Q295.4 63.9 294.6 60.4Q296.0 55.9 291.0 51.6Q288.0 49.2 288.0 44.6" stroke="#E09A14" stroke-width="0.6" opacity="0.83"/>
<path d="M290.4 70.7Q291.4 76.4 295.6 81.0Q295.4 85.3 300.9 87.8Q303.5 90.4 303.9 94.6Q306.5 99.8 299.2 105.2" stroke="#FFD64A" stroke-width="0.6" opacity="0.91"/>
<path d="M322.5 78.9Q322.1 84.3 333.4 79.4Q336.7 78.3 339.5 82.8Q343.5 83.7 346.2 87.3Q349.2 89.4 353.2 85.5" stroke="#E09A14" stroke-width="0.9" opacity="0.76"/>
<path d="M304.6 58.4Q308.1 61.5 308.7 66.9Q309.4 72.6 317.8 73.8Q323.2 76.9 329.4 78.1Q331.3 80.9 335.5 81.0" stroke="#D48C10" stroke-width="1.4" opacity="0.96"/>
<path d="M258.0 58.7Q261.1 58.8 264.0 56.8Q267.0 57.9 266.7 50.9Q272.1 47.5 276.8 43.1" stroke="#F2B01E" stroke-width="0.9" opacity="0.94"/>
<path d="M308.4 61.8Q313.9 63.4 316.5 70.0Q319.6 72.6 317.2 78.0Q314.3 83.7 310.8 89.0" stroke="#EDA81C" stroke-width="1.4" opacity="0.79"/>
<path d="M296.9 71.4Q293.7 71.4 290.8 69.8Q286.4 68.2 282.7 74.5Q276.8 74.9 278.9 85.6Q279.7 90.3 270.1 89.2" stroke="#FFD64A" stroke-width="1.4" opacity="0.93"/>
<path d="M264.2 70.3Q262.3 64.6 254.2 63.6Q249.7 62.7 244.9 63.2" stroke="#F5B824" stroke-width="1.1" opacity="0.93"/>
<path d="M287.0 60.2Q285.4 63.4 284.9 67.0Q284.6 71.8 277.0 72.7Q272.4 76.5 265.0 73.6Q261.6 72.8 258.1 74.9" stroke="#E09A14" stroke-width="0.9" opacity="0.53"/>
<path d="M276.0 80.9Q280.0 79.4 282.1 75.0Q287.2 73.6 285.0 64.8Q284.1 60.6 291.9 59.8Q297.3 59.7 300.5 53.2" stroke="#E09A14" stroke-width="0.6" opacity="0.76"/>
<path d="M279.0 61.5Q278.4 57.7 276.3 54.3Q274.6 51.2 270.4 50.7Q266.6 50.7 264.0 46.6Q260.0 46.8 258.3 41.0" stroke="#EDA81C" stroke-width="0.9" opacity="0.61"/>
<path d="M331.3 49.7Q332.8 52.4 329.1 55.5Q326.3 60.4 321.9 64.2Q317.7 65.5 321.5 73.0Q319.6 78.4 315.9 83.1" stroke="#E09A14" stroke-width="0.9" opacity="0.55"/>
<path d="M311.5 77.2Q315.5 78.5 318.4 72.2Q323.6 70.4 325.8 64.1" stroke="#EDA81C" stroke-width="0.9" opacity="0.54"/>
<path d="M275.7 67.9Q276.3 64.4 282.6 65.9Q286.2 62.0 290.8 59.1Q295.6 55.5 290.7 47.2Q291.5 41.2 299.9 39.2" stroke="#F9CA3A" stroke-width="1.4" opacity="0.92"/>
<path d="M332.0 65.7Q329.8 61.0 322.2 69.1Q316.4 71.1 310.1 71.7Q305.1 74.8 298.3 71.1" stroke="#F2B01E" stroke-width="0.75" opacity="0.97"/>
<path d="M297.7 59.5Q301.2 62.8 298.9 69.0Q297.4 72.2 294.2 74.4" stroke="#F5B824" stroke-width="0.75" opacity="0.53"/>
<circle cx="290.4" cy="74.0" r="2.2" fill="#0a0600" opacity="0.8"/>
<circle cx="278.5" cy="73.7" r="2.4" fill="#0a0600" opacity="0.8"/>
</g></g>
<g clip-path="url(#cf5)">
<rect x="331.2" y="53.9" width="70.6" height="24" fill="#0a0600"/>
<g fill="none" opacity="0.95" filter="url(#b03)">
<rect x="331.2" y="53.9" width="70.6" height="24" filter="url(#gweb)" opacity="0.85"/>
<path d="M404.5 78.5Q401.3 75.5 398.3 72.4Q397.1 66.7 386.6 71.6" stroke="#F5B824" stroke-width="0.6" opacity="0.54"/>
<path d="M387.4 61.4Q392.3 62.6 397.5 62.1Q402.5 63.3 407.8 61.0" stroke="#F9CA3A" stroke-width="1.1" opacity="0.77"/>
<path d="M346.5 55.0Q344.4 52.7 340.5 56.5Q336.9 57.1 334.3 60.2" stroke="#EDA81C" stroke-width="0.9" opacity="0.81"/>
<path d="M369.9 76.6Q372.7 81.1 378.2 83.3Q379.8 88.2 378.2 93.7Q378.1 97.3 383.5 98.6Q387.7 99.7 392.1 99.8" stroke="#D48C10" stroke-width="1.1" opacity="0.54"/>
<path d="M337.9 49.2Q339.1 46.0 341.3 43.2Q345.0 40.7 345.3 35.3" stroke="#F5B824" stroke-width="1.1" opacity="0.66"/>
<path d="M394.8 72.5Q398.7 68.0 402.6 63.6Q406.7 59.8 401.2 52.5Q397.9 47.2 399.2 40.3Q396.2 36.8 399.1 31.1" stroke="#D48C10" stroke-width="0.6" opacity="0.91"/>
<path d="M375.8 59.3Q372.5 55.3 366.5 64.1Q363.0 68.2 361.3 73.6" stroke="#E09A14" stroke-width="1.4" opacity="0.59"/>
<path d="M332.3 56.1Q331.6 61.1 329.3 65.8Q328.6 70.9 322.9 73.9" stroke="#D48C10" stroke-width="1.4" opacity="0.96"/>
<path d="M364.8 73.0Q369.8 72.5 374.7 74.4Q380.9 75.2 387.3 73.7Q390.9 72.9 394.1 77.0" stroke="#D48C10" stroke-width="1.1" opacity="0.64"/>
<path d="M399.4 53.4Q395.9 58.5 402.1 65.6Q403.6 70.3 410.7 70.4Q412.9 74.0 418.7 67.7Q421.3 65.1 425.8 69.2" stroke="#E09A14" stroke-width="0.6" opacity="0.84"/>
<path d="M326.2 63.8Q330.2 66.3 328.6 72.9Q333.1 76.7 338.4 79.4Q342.4 80.6 345.8 83.1Q347.7 87.2 352.2 89.5" stroke="#F5B824" stroke-width="1.4" opacity="0.87"/>
<path d="M337.7 61.5Q338.7 64.9 344.3 63.7Q350.5 63.2 356.3 61.1Q360.1 62.0 363.5 63.9" stroke="#FFD64A" stroke-width="0.9" opacity="0.79"/>
<path d="M337.2 57.0Q340.3 58.7 342.5 52.6Q346.0 50.5 344.9 45.0Q347.4 42.9 344.4 38.5" stroke="#EDA81C" stroke-width="0.9" opacity="0.99"/>
<path d="M370.2 50.1Q368.0 54.4 363.1 56.8Q359.8 58.8 355.5 58.1Q352.5 60.1 348.9 55.4Q345.2 50.2 336.1 54.6" stroke="#F2B01E" stroke-width="1.1" opacity="0.63"/>
<path d="M381.8 59.9Q379.1 56.1 381.6 50.7Q378.0 46.0 377.6 39.7Q378.1 33.6 379.6 27.5Q382.7 24.5 385.7 21.4" stroke="#F2B01E" stroke-width="1.4" opacity="1.00"/>
<path d="M384.1 70.0Q383.0 73.0 378.3 72.6Q373.3 72.7 368.3 72.3Q362.2 74.0 355.7 71.9" stroke="#EDA81C" stroke-width="0.9" opacity="0.84"/>
<path d="M374.6 68.8Q372.4 65.2 380.7 62.9Q382.5 59.0 389.0 60.9Q392.0 61.3 394.7 58.9" stroke="#EDA81C" stroke-width="1.1" opacity="0.75"/>
<path d="M368.9 52.2Q372.5 48.7 378.7 54.9Q381.4 58.3 386.5 51.5Q388.4 48.2 389.1 44.4Q390.7 41.1 392.1 37.7" stroke="#FFD64A" stroke-width="0.75" opacity="0.90"/>
<path d="M382.1 52.9Q385.5 54.3 389.4 52.9Q394.1 52.8 396.2 46.3" stroke="#F5B824" stroke-width="1.4" opacity="0.63"/>
<path d="M367.6 79.6Q371.6 82.6 365.7 89.3Q368.0 94.2 365.4 100.1Q367.9 105.1 373.8 107.3" stroke="#F2B01E" stroke-width="0.9" opacity="0.67"/>
<path d="M337.2 73.6Q333.3 73.2 330.6 69.6Q327.0 66.5 327.1 60.8Q325.3 55.8 318.7 54.4Q314.5 51.7 313.0 46.1" stroke="#EDA81C" stroke-width="0.9" opacity="0.74"/>
<path d="M328.6 62.6Q324.9 59.2 329.2 52.6Q326.7 49.1 329.7 44.1Q329.1 40.7 329.3 37.2" stroke="#F2B01E" stroke-width="0.9" opacity="0.52"/>
<path d="M332.2 59.3Q328.6 62.9 325.9 67.4Q321.7 69.6 322.2 76.0" stroke="#F9CA3A" stroke-width="0.9" opacity="0.52"/>
<path d="M390.4 53.6Q394.0 50.3 392.7 44.1Q392.9 40.9 392.5 37.7Q390.4 34.8 394.6 30.9" stroke="#F2B01E" stroke-width="0.75" opacity="0.74"/>
<path d="M402.6 65.3Q399.5 65.4 399.5 60.0Q399.2 53.6 387.0 56.7" stroke="#D48C10" stroke-width="1.1" opacity="0.89"/>
<path d="M372.3 67.4Q374.6 63.6 367.2 60.3Q363.1 57.8 364.4 51.2" stroke="#FFD64A" stroke-width="0.6" opacity="0.98"/>
<path d="M404.8 72.4Q407.7 67.6 414.1 66.1Q417.6 61.5 425.6 65.2Q430.5 63.9 435.6 63.2" stroke="#EDA81C" stroke-width="0.6" opacity="0.78"/>
<path d="M380.5 51.5Q376.4 50.6 374.0 46.0Q370.2 41.3 372.0 34.0" stroke="#E09A14" stroke-width="0.75" opacity="0.73"/>
<path d="M382.0 74.1Q378.3 77.6 372.8 78.4Q369.7 79.9 369.9 84.6Q369.8 90.1 362.3 92.6" stroke="#F9CA3A" stroke-width="1.4" opacity="0.62"/>
<path d="M355.6 52.3Q351.5 53.4 355.8 60.8Q356.1 64.3 360.1 66.4Q364.1 68.3 363.9 74.3" stroke="#F2B01E" stroke-width="0.75" opacity="0.70"/>
<path d="M389.0 49.0Q391.1 55.1 396.1 59.8Q398.6 63.9 405.0 63.3" stroke="#D48C10" stroke-width="1.1" opacity="0.80"/>
<path d="M370.1 53.5Q372.8 50.3 378.4 55.3Q382.9 56.4 383.4 63.2Q388.0 65.1 392.6 66.8Q395.8 68.3 399.6 66.5" stroke="#F9CA3A" stroke-width="1.4" opacity="0.51"/>
<path d="M404.5 80.0Q407.1 84.5 411.1 88.1Q414.2 90.8 410.0 96.3" stroke="#D48C10" stroke-width="1.4" opacity="0.80"/>
<path d="M360.6 79.6Q359.6 85.0 353.2 87.6Q349.8 90.9 347.9 95.4Q343.1 97.9 338.5 100.5" stroke="#F5B824" stroke-width="0.6" opacity="0.79"/>
<path d="M382.5 59.1Q381.1 55.9 379.6 52.8Q377.0 47.7 381.5 41.5Q382.8 36.0 386.4 31.4Q388.6 28.2 386.9 23.7" stroke="#F5B824" stroke-width="0.75" opacity="0.80"/>
<path d="M401.7 64.9Q404.4 68.8 398.3 73.8Q398.0 77.5 396.5 81.1Q395.5 85.1 398.4 89.1Q401.9 93.9 395.1 100.6" stroke="#D48C10" stroke-width="0.9" opacity="0.91"/>
<path d="M369.1 71.7Q368.9 67.8 363.6 66.2Q362.7 61.1 354.7 61.2" stroke="#E09A14" stroke-width="1.4" opacity="0.64"/>
<path d="M358.2 69.5Q359.5 73.9 355.1 78.0Q351.1 82.5 352.7 89.7" stroke="#F9CA3A" stroke-width="1.1" opacity="0.78"/>
<path d="M367.7 72.2Q364.6 76.3 361.2 80.3Q360.2 85.8 362.1 91.4" stroke="#E09A14" stroke-width="0.6" opacity="0.88"/>
<path d="M331.9 53.2Q329.1 55.6 332.2 60.6Q330.9 65.9 336.9 70.4" stroke="#D48C10" stroke-width="1.1" opacity="0.60"/>
<path d="M369.3 52.6Q374.5 51.5 379.2 56.2Q382.6 57.3 386.3 56.9Q390.1 59.2 394.0 52.6Q397.7 50.9 399.1 46.4" stroke="#F5B824" stroke-width="1.1" opacity="0.79"/>
<path d="M367.9 58.9Q369.2 61.5 373.5 61.0Q378.7 62.6 384.0 64.0Q386.7 67.1 391.6 61.2" stroke="#D48C10" stroke-width="0.75" opacity="0.64"/>
<path d="M350.8 52.3Q355.7 51.0 359.5 47.0Q361.3 44.2 364.7 42.7Q369.2 39.3 371.4 33.7" stroke="#FFD64A" stroke-width="1.4" opacity="0.66"/>
<path d="M375.0 75.2Q375.4 71.8 380.6 71.4Q383.9 68.1 389.9 70.7Q392.5 68.8 395.6 73.9Q398.5 75.5 400.0 78.8" stroke="#D48C10" stroke-width="1.4" opacity="0.60"/>
<path d="M347.3 64.8Q347.6 60.7 351.3 57.6Q355.0 53.2 358.7 48.7Q363.3 45.6 366.9 41.3Q372.3 39.3 372.3 31.1" stroke="#F9CA3A" stroke-width="0.9" opacity="0.64"/>
<path d="M376.1 75.3Q372.3 77.3 368.0 77.8Q363.6 81.0 357.4 80.5Q351.8 80.0 348.1 74.3Q344.3 70.1 341.7 64.9" stroke="#FFD64A" stroke-width="1.1" opacity="0.92"/>
<path d="M352.5 67.1Q348.9 69.0 349.1 74.4Q348.0 80.2 343.5 84.9" stroke="#F5B824" stroke-width="1.1" opacity="0.74"/>
<path d="M387.7 70.6Q389.4 65.9 388.8 60.7Q392.3 56.6 397.3 54.0Q398.3 49.1 405.4 48.4Q407.4 44.7 413.9 48.0" stroke="#EDA81C" stroke-width="0.9" opacity="0.93"/>
<path d="M407.7 74.8Q406.2 70.1 399.4 69.3Q394.6 66.4 390.9 62.0Q386.4 61.9 381.9 60.9Q378.7 60.8 377.3 56.6" stroke="#FFD64A" stroke-width="1.1" opacity="0.65"/>
<path d="M398.6 67.2Q400.5 72.7 399.0 78.7Q397.3 84.3 399.8 90.3" stroke="#EDA81C" stroke-width="0.75" opacity="0.69"/>
<path d="M355.9 71.2Q352.4 67.0 345.8 67.2Q340.0 67.9 342.0 56.3Q340.3 53.5 336.0 53.6" stroke="#F5B824" stroke-width="0.6" opacity="0.69"/>
<path d="M350.0 55.4Q344.9 53.9 350.3 44.8Q352.5 41.2 346.5 37.3" stroke="#E09A14" stroke-width="0.6" opacity="0.80"/>
<path d="M340.2 66.4Q339.7 71.5 335.9 75.6Q336.7 79.4 329.3 79.6" stroke="#E09A14" stroke-width="0.9" opacity="0.81"/>
<path d="M396.6 58.2Q395.9 62.2 400.4 65.3Q400.5 69.0 404.4 71.7Q406.7 74.6 404.1 79.1" stroke="#D48C10" stroke-width="0.9" opacity="0.78"/>
<path d="M334.8 71.4Q337.1 69.2 340.0 67.9Q343.3 65.3 347.7 64.7Q351.9 61.9 350.6 55.0" stroke="#F5B824" stroke-width="0.75" opacity="0.99"/>
<path d="M349.1 76.0Q342.9 77.3 337.9 82.0Q334.7 82.4 331.6 80.4Q327.6 75.7 323.4 71.0Q319.9 68.0 314.9 67.7" stroke="#D48C10" stroke-width="0.75" opacity="0.77"/>
<path d="M387.9 82.2Q387.7 86.0 387.0 89.8Q385.2 94.2 379.2 95.3" stroke="#F9CA3A" stroke-width="0.6" opacity="0.85"/>
<path d="M362.1 70.3Q361.6 67.2 358.5 65.1Q353.8 63.2 348.4 63.8Q343.6 63.3 342.3 56.4" stroke="#F5B824" stroke-width="1.4" opacity="0.87"/>
<path d="M339.1 76.2Q337.4 80.7 340.3 85.7Q340.5 88.9 341.7 91.9Q340.9 96.3 345.8 99.7Q348.0 103.2 343.6 107.7" stroke="#F9CA3A" stroke-width="1.4" opacity="0.57"/>
<path d="M381.0 79.7Q379.1 76.4 376.2 73.7Q374.7 68.6 371.0 64.5Q366.8 62.5 372.4 55.4Q374.2 51.2 373.3 46.3" stroke="#F5B824" stroke-width="1.4" opacity="0.75"/>
<path d="M344.3 67.7Q344.7 64.1 350.7 64.2Q356.4 63.3 356.3 54.2Q356.9 50.2 359.7 46.9Q362.3 42.4 368.4 41.2" stroke="#E09A14" stroke-width="0.9" opacity="0.94"/>
<path d="M395.7 70.2Q398.7 68.6 401.4 66.6Q405.1 65.3 409.2 66.2Q414.1 62.0 421.0 71.4" stroke="#D48C10" stroke-width="1.4" opacity="0.53"/>
<path d="M379.5 59.9Q374.0 57.4 378.4 47.9Q375.2 42.7 370.1 39.0Q366.2 35.6 366.8 29.1" stroke="#EDA81C" stroke-width="0.75" opacity="0.63"/>
<path d="M332.7 65.4Q335.7 61.1 328.9 55.7Q327.7 52.0 321.9 52.4Q318.3 52.7 318.4 46.1Q316.9 39.9 319.2 33.4" stroke="#F2B01E" stroke-width="1.4" opacity="0.65"/>
<path d="M391.4 66.0Q394.8 62.7 393.2 56.6Q391.9 53.1 392.8 49.1Q392.9 44.8 394.5 40.6Q396.1 35.2 396.1 29.4" stroke="#F5B824" stroke-width="1.4" opacity="0.94"/>
<path d="M392.9 61.9Q396.5 58.8 401.3 57.4Q404.8 55.8 405.6 51.0" stroke="#D48C10" stroke-width="0.6" opacity="0.55"/>
<path d="M355.9 63.1Q359.1 67.8 363.9 71.3Q366.6 75.3 367.5 80.2Q366.5 84.5 375.4 84.2Q378.3 85.3 381.6 83.9" stroke="#F5B824" stroke-width="0.6" opacity="0.85"/>
<path d="M397.6 56.0Q396.0 53.1 394.3 50.3Q391.7 47.7 387.3 48.2" stroke="#F2B01E" stroke-width="0.75" opacity="0.83"/>
<path d="M356.4 73.1Q360.3 70.7 364.9 69.8Q367.4 67.8 370.4 66.6" stroke="#F9CA3A" stroke-width="1.1" opacity="0.62"/>
<path d="M331.9 81.4Q327.7 82.0 323.5 81.5Q318.1 84.2 311.6 83.3" stroke="#FFD64A" stroke-width="0.9" opacity="0.56"/>
<path d="M396.7 59.1Q397.7 56.1 400.8 54.3Q403.8 53.1 402.4 48.0Q401.9 42.4 411.5 41.5" stroke="#D48C10" stroke-width="0.6" opacity="0.72"/>
<path d="M399.3 71.3Q404.2 72.9 409.3 74.2Q412.5 75.0 415.1 71.2" stroke="#D48C10" stroke-width="1.4" opacity="0.67"/>
<path d="M366.9 65.2Q370.1 66.8 373.9 65.7Q380.3 66.5 386.8 64.5" stroke="#E09A14" stroke-width="1.1" opacity="0.89"/>
<path d="M349.0 68.8Q354.7 71.6 355.7 79.6Q355.9 85.6 367.5 82.3Q371.3 83.0 375.3 81.9Q379.8 82.2 382.6 76.4" stroke="#EDA81C" stroke-width="0.6" opacity="0.90"/>
<path d="M366.6 62.5Q362.6 63.1 361.1 56.5Q355.9 52.7 350.8 48.7" stroke="#D48C10" stroke-width="0.75" opacity="0.66"/>
<circle cx="384.7" cy="55.8" r="1.7" fill="#0a0600" opacity="0.8"/>
<circle cx="369.6" cy="57.5" r="3.2" fill="#0a0600" opacity="0.8"/>
</g></g>
<g clip-path="url(#cf6)">
<rect x="403.9" y="53.9" width="71.3" height="24" fill="#0a0600"/>
<g fill="none" opacity="0.9" filter="url(#b03)">
<rect x="403.9" y="53.9" width="71.3" height="24" filter="url(#gweb)" opacity="0.85"/>
<path d="M471.0 60.8Q473.5 57.5 470.7 52.6Q469.8 49.1 473.6 46.0" stroke="#F5B824" stroke-width="0.6" opacity="0.83"/>
<path d="M427.2 54.6Q421.8 57.2 415.7 52.0Q411.0 49.3 405.5 55.5Q401.6 54.6 398.5 51.3" stroke="#E09A14" stroke-width="0.6" opacity="0.96"/>
<path d="M481.1 70.1Q482.8 75.6 480.9 81.5Q478.7 87.5 483.2 94.1Q484.0 98.9 480.3 103.4Q476.8 107.2 477.1 113.3" stroke="#D48C10" stroke-width="0.9" opacity="0.98"/>
<path d="M463.9 80.6Q461.4 76.2 464.3 70.6Q467.3 66.6 465.8 60.7" stroke="#F2B01E" stroke-width="1.1" opacity="0.93"/>
<path d="M478.5 68.7Q482.1 69.6 485.1 65.3Q489.8 62.2 496.4 65.6" stroke="#D48C10" stroke-width="0.75" opacity="0.83"/>
<path d="M404.1 70.5Q403.0 74.2 396.3 71.6Q393.0 74.6 388.1 68.3Q382.3 66.0 375.9 70.9" stroke="#F2B01E" stroke-width="1.4" opacity="0.67"/>
<path d="M418.4 50.4Q423.8 49.0 421.2 39.5Q423.1 33.3 432.4 32.8" stroke="#F2B01E" stroke-width="0.9" opacity="0.64"/>
<path d="M407.7 77.3Q412.2 75.3 410.8 68.0Q412.8 65.0 415.9 63.0Q416.7 58.0 425.4 59.6Q431.2 60.6 437.2 61.0" stroke="#FFD64A" stroke-width="0.9" opacity="0.67"/>
<path d="M399.1 60.0Q396.4 65.2 394.2 70.6Q393.7 73.9 388.8 74.5Q383.0 74.8 387.6 86.2Q386.6 91.5 389.4 96.8" stroke="#EDA81C" stroke-width="0.9" opacity="0.88"/>
<path d="M454.2 64.0Q449.8 62.6 454.0 54.7Q453.7 50.7 449.4 48.0" stroke="#D48C10" stroke-width="0.75" opacity="0.54"/>
<path d="M400.4 56.1Q402.4 53.7 405.2 52.1Q411.3 50.2 418.0 51.2Q422.5 52.8 424.2 43.9Q429.7 40.6 436.4 39.6" stroke="#D48C10" stroke-width="1.4" opacity="0.86"/>
<path d="M454.4 75.4Q451.5 73.7 448.7 71.9Q445.9 70.0 447.7 65.2Q448.1 60.0 445.7 54.9Q447.8 50.9 440.7 47.4" stroke="#F9CA3A" stroke-width="0.9" opacity="0.55"/>
<path d="M440.7 71.4Q438.0 68.6 436.1 65.1Q435.9 60.9 428.5 61.7Q426.5 57.5 419.5 59.3Q414.9 58.6 410.3 59.9" stroke="#E09A14" stroke-width="0.6" opacity="0.92"/>
<path d="M399.1 51.2Q400.3 44.8 410.2 44.5Q415.8 43.0 421.7 43.3Q426.7 44.6 430.5 48.9Q436.5 48.7 440.9 55.0" stroke="#F2B01E" stroke-width="1.1" opacity="0.97"/>
<path d="M437.6 76.3Q440.1 73.2 438.3 68.4Q436.9 64.7 435.9 61.0" stroke="#F9CA3A" stroke-width="1.4" opacity="0.78"/>
<path d="M461.6 54.2Q464.6 55.0 465.1 59.4Q467.5 62.7 471.7 64.2" stroke="#E09A14" stroke-width="0.75" opacity="0.59"/>
<path d="M461.4 77.6Q457.4 77.9 454.7 73.1Q451.8 67.6 442.4 71.3Q438.5 67.3 432.3 76.2" stroke="#F9CA3A" stroke-width="1.1" opacity="0.67"/>
<path d="M424.1 68.1Q423.9 72.2 419.1 74.4Q415.9 77.2 412.9 80.0Q411.7 83.5 411.6 87.2" stroke="#E09A14" stroke-width="0.6" opacity="0.55"/>
<path d="M457.6 62.0Q453.7 62.4 452.7 55.6Q452.3 50.5 449.5 45.8Q449.9 41.7 442.4 41.5" stroke="#D48C10" stroke-width="1.4" opacity="0.90"/>
<path d="M454.3 61.5Q457.0 59.6 460.9 62.0Q464.5 65.6 471.0 62.6" stroke="#EDA81C" stroke-width="0.75" opacity="0.75"/>
<path d="M451.0 49.0Q451.6 44.7 443.2 45.2Q439.3 42.4 440.7 36.1Q440.1 32.8 436.0 31.5Q434.7 28.1 435.9 24.1" stroke="#F9CA3A" stroke-width="1.1" opacity="0.96"/>
<path d="M434.1 78.9Q435.1 83.8 441.0 86.1Q443.0 88.4 444.1 91.3Q444.9 96.7 441.7 102.0Q440.2 104.7 444.7 107.3" stroke="#F2B01E" stroke-width="0.6" opacity="0.77"/>
<path d="M398.6 62.4Q402.0 57.3 408.4 54.8Q412.6 51.4 419.0 52.9" stroke="#F5B824" stroke-width="0.9" opacity="0.62"/>
<path d="M449.3 74.2Q454.5 73.5 456.6 66.6Q458.1 62.1 465.4 63.2" stroke="#F9CA3A" stroke-width="1.1" opacity="0.92"/>
<path d="M432.5 58.0Q433.5 55.0 434.9 52.1Q437.5 48.3 441.0 45.3" stroke="#D48C10" stroke-width="1.4" opacity="0.57"/>
<path d="M399.8 77.1Q400.5 80.6 401.9 83.9Q401.8 89.9 409.8 92.9Q413.2 97.3 412.0 103.9" stroke="#D48C10" stroke-width="0.75" opacity="0.82"/>
<path d="M408.4 78.3Q405.2 74.1 399.1 73.4Q393.8 72.9 393.3 64.6Q391.0 60.6 385.7 59.4Q382.5 57.1 378.6 55.7" stroke="#FFD64A" stroke-width="0.6" opacity="0.71"/>
<path d="M399.6 73.1Q396.5 77.2 394.9 82.2Q391.1 85.0 389.0 89.5" stroke="#F2B01E" stroke-width="0.9" opacity="0.96"/>
<path d="M442.9 60.5Q440.3 63.2 437.4 65.4Q434.9 67.8 431.6 69.3Q429.0 75.2 424.7 80.2Q423.3 83.5 418.0 82.8" stroke="#F5B824" stroke-width="1.4" opacity="0.96"/>
<path d="M422.5 50.8Q419.6 56.1 417.5 61.8Q417.9 65.1 411.0 63.7Q408.8 66.6 403.8 64.4" stroke="#D48C10" stroke-width="0.75" opacity="0.57"/>
<path d="M455.8 80.4Q458.4 75.2 467.3 78.7Q470.9 75.9 472.8 71.4" stroke="#FFD64A" stroke-width="0.9" opacity="0.65"/>
<path d="M446.0 58.9Q447.4 53.4 455.7 53.2Q458.7 50.5 458.7 45.6Q459.9 41.2 456.5 36.7" stroke="#F5B824" stroke-width="0.75" opacity="0.66"/>
<path d="M421.5 82.8Q425.6 80.6 428.6 76.8Q429.9 74.1 428.7 70.8Q429.1 64.8 434.9 60.5" stroke="#FFD64A" stroke-width="0.6" opacity="0.95"/>
<path d="M469.6 66.7Q475.2 70.1 478.4 76.2Q478.9 81.9 488.7 81.1" stroke="#F2B01E" stroke-width="1.1" opacity="0.60"/>
<path d="M433.2 81.2Q436.2 81.7 439.3 81.7Q444.0 82.8 447.3 76.2Q450.8 76.1 453.6 73.1Q457.7 72.7 461.9 73.5" stroke="#F5B824" stroke-width="1.4" opacity="0.78"/>
<path d="M455.6 69.3Q453.1 73.9 457.7 79.6Q460.2 82.4 455.8 86.9" stroke="#F2B01E" stroke-width="1.4" opacity="0.74"/>
<path d="M438.4 59.1Q433.1 57.1 427.8 55.1Q425.6 51.8 424.4 48.0Q423.1 42.9 417.0 40.6" stroke="#FFD64A" stroke-width="0.75" opacity="0.68"/>
<path d="M409.6 56.2Q405.8 57.9 401.3 56.5Q397.4 54.5 392.8 58.6Q388.2 62.8 386.8 69.6" stroke="#FFD64A" stroke-width="1.4" opacity="0.79"/>
<path d="M470.9 62.3Q474.7 63.7 476.4 56.5Q479.4 54.2 482.1 51.6Q484.8 50.1 482.5 45.4" stroke="#F5B824" stroke-width="1.1" opacity="0.95"/>
<path d="M467.2 79.7Q460.8 80.1 456.4 72.7Q455.0 69.9 451.4 69.2Q448.3 68.5 445.0 68.2Q441.4 69.3 437.4 67.1" stroke="#F2B01E" stroke-width="0.9" opacity="0.69"/>
<path d="M423.2 62.1Q418.8 65.8 419.2 72.9Q418.7 77.1 414.6 80.1Q411.8 82.2 415.2 87.1" stroke="#D48C10" stroke-width="0.9" opacity="0.50"/>
<path d="M469.4 73.5Q466.2 76.0 466.2 81.0Q461.7 85.6 468.3 93.7" stroke="#EDA81C" stroke-width="1.1" opacity="0.53"/>
<path d="M434.6 57.6Q428.6 57.9 429.5 68.5Q429.9 72.4 431.0 76.2Q429.2 80.0 431.9 84.5" stroke="#F9CA3A" stroke-width="1.1" opacity="0.94"/>
<path d="M400.2 80.9Q395.6 83.2 396.0 90.3Q394.1 94.5 399.3 98.9Q398.5 103.4 403.8 106.8" stroke="#F5B824" stroke-width="0.6" opacity="0.93"/>
<path d="M465.4 69.4Q461.6 66.3 461.8 60.2Q457.9 55.2 467.3 48.9Q467.2 42.6 469.6 36.6" stroke="#EDA81C" stroke-width="1.1" opacity="0.60"/>
<path d="M408.5 73.5Q402.9 71.4 397.1 77.3Q390.7 77.4 384.3 77.3" stroke="#FFD64A" stroke-width="1.1" opacity="0.86"/>
<path d="M452.6 51.9Q456.7 55.5 463.4 51.2Q469.3 51.2 473.3 44.8" stroke="#F9CA3A" stroke-width="0.6" opacity="0.69"/>
<path d="M407.3 71.8Q402.5 75.3 397.6 78.6Q396.1 82.4 390.9 83.4Q386.9 87.4 383.7 92.2Q383.3 97.3 384.9 102.4" stroke="#F9CA3A" stroke-width="1.4" opacity="0.64"/>
<path d="M451.2 61.1Q448.9 58.5 444.8 58.7Q438.4 59.4 432.3 56.3Q428.6 55.5 426.7 51.1" stroke="#E09A14" stroke-width="1.4" opacity="0.71"/>
<path d="M401.5 76.6Q397.0 72.4 389.8 80.9Q385.9 80.0 383.4 85.7Q379.8 87.7 375.2 85.9" stroke="#EDA81C" stroke-width="0.75" opacity="0.79"/>
<path d="M405.9 74.6Q407.6 80.1 415.2 81.1Q420.0 82.0 423.7 85.9Q425.9 90.4 431.0 92.9Q436.0 93.3 439.9 97.3" stroke="#F5B824" stroke-width="1.1" opacity="0.86"/>
<path d="M458.6 54.0Q452.8 51.1 454.0 41.9Q452.1 37.9 457.5 33.9Q460.7 32.0 461.6 27.8Q466.3 25.5 471.0 23.3" stroke="#EDA81C" stroke-width="0.75" opacity="0.98"/>
<path d="M467.9 73.6Q468.7 78.3 473.7 81.2Q477.1 83.5 481.3 84.2" stroke="#E09A14" stroke-width="0.75" opacity="0.55"/>
<path d="M417.6 64.4Q419.7 67.1 424.0 67.0Q426.8 68.1 429.3 64.2Q433.6 60.4 440.3 67.0" stroke="#F5B824" stroke-width="0.6" opacity="0.64"/>
<path d="M470.1 65.1Q468.2 68.5 462.4 66.2Q458.1 70.7 450.4 69.1Q447.0 73.7 439.7 65.4" stroke="#D48C10" stroke-width="0.9" opacity="0.83"/>
<path d="M436.7 59.3Q436.2 53.8 426.4 55.4Q420.7 53.4 415.6 49.9Q411.8 49.1 408.1 51.4Q404.2 51.6 400.5 53.6" stroke="#F2B01E" stroke-width="0.6" opacity="0.78"/>
<path d="M431.8 61.2Q431.3 55.7 431.9 50.1Q433.0 45.0 430.0 39.9Q429.1 34.1 434.6 29.1" stroke="#EDA81C" stroke-width="0.9" opacity="0.59"/>
<path d="M440.2 79.1Q445.4 75.3 453.0 79.4Q457.6 80.6 461.1 84.2Q465.4 85.9 470.0 81.5Q473.3 81.8 476.4 83.4" stroke="#D48C10" stroke-width="1.4" opacity="0.74"/>
<path d="M450.5 56.3Q447.3 60.1 446.5 65.4Q447.3 71.7 437.8 74.6" stroke="#FFD64A" stroke-width="0.75" opacity="0.81"/>
<path d="M480.7 64.1Q481.8 57.9 481.1 51.5Q478.9 48.5 485.9 46.0Q486.0 42.3 490.7 40.6" stroke="#F2B01E" stroke-width="0.9" opacity="0.81"/>
<path d="M441.4 81.1Q446.3 80.0 446.5 72.4Q448.6 68.3 444.0 63.6Q440.8 59.1 445.2 52.5Q442.6 47.1 440.2 41.5" stroke="#D48C10" stroke-width="1.4" opacity="1.00"/>
<path d="M446.0 80.3Q449.0 83.4 449.0 88.2Q449.9 93.6 448.9 99.2" stroke="#F2B01E" stroke-width="0.6" opacity="0.98"/>
<path d="M411.2 62.9Q417.0 62.5 422.7 64.7Q427.7 68.2 432.4 72.1Q435.1 75.8 441.5 72.8" stroke="#F2B01E" stroke-width="1.4" opacity="0.58"/>
<path d="M422.6 70.6Q423.8 74.8 422.0 79.3Q420.9 84.6 419.5 89.9Q415.8 92.9 411.6 95.2Q407.9 95.2 410.6 102.6" stroke="#EDA81C" stroke-width="0.6" opacity="0.80"/>
<path d="M436.5 50.4Q434.4 48.2 433.1 45.2Q430.7 43.4 432.9 39.1Q431.0 36.7 428.4 34.8" stroke="#F5B824" stroke-width="0.75" opacity="0.56"/>
<path d="M470.2 60.9Q473.4 61.1 476.7 61.3Q481.7 62.0 486.6 59.3Q491.5 61.4 493.2 50.9Q496.0 47.0 495.0 41.4" stroke="#F2B01E" stroke-width="1.4" opacity="0.60"/>
<path d="M412.7 70.7Q416.2 74.4 420.2 77.5Q422.6 83.0 432.0 80.1" stroke="#D48C10" stroke-width="0.6" opacity="0.69"/>
<path d="M429.6 66.2Q426.9 62.8 421.0 65.0Q418.0 63.0 414.7 68.6Q411.2 69.2 407.9 66.7" stroke="#E09A14" stroke-width="1.1" opacity="0.55"/>
<path d="M410.9 49.4Q409.8 43.7 413.3 38.0Q411.8 34.2 408.2 31.7Q407.9 25.7 396.3 30.3Q391.5 29.4 386.9 33.3" stroke="#EDA81C" stroke-width="0.75" opacity="0.68"/>
<path d="M469.6 73.8Q473.2 68.8 474.2 62.4Q476.7 58.5 470.1 54.1" stroke="#FFD64A" stroke-width="0.6" opacity="0.88"/>
<path d="M467.7 60.6Q472.1 64.1 464.7 71.6Q464.5 76.2 460.9 79.9Q459.9 84.3 458.2 88.4Q455.5 90.8 453.3 93.8" stroke="#F5B824" stroke-width="0.9" opacity="0.96"/>
<path d="M445.5 61.2Q450.4 59.7 450.2 52.0Q452.5 46.7 460.3 46.4Q462.6 42.4 468.6 42.4" stroke="#E09A14" stroke-width="0.6" opacity="0.71"/>
<path d="M462.5 74.9Q462.4 69.4 464.9 64.1Q467.4 58.9 472.1 55.0Q475.0 52.9 479.1 53.3Q483.5 48.7 491.4 56.3" stroke="#FFD64A" stroke-width="0.75" opacity="0.93"/>
<path d="M480.4 82.6Q476.5 85.3 480.3 92.0Q479.8 95.0 475.9 96.3" stroke="#F5B824" stroke-width="1.1" opacity="0.60"/>
<path d="M448.4 57.8Q443.8 55.4 439.3 52.4Q436.9 50.1 435.9 46.7Q435.0 43.4 436.9 39.9" stroke="#F9CA3A" stroke-width="1.1" opacity="0.63"/>
<circle cx="430.4" cy="60.8" r="1.6" fill="#0a0600" opacity="0.8"/>
<circle cx="446.8" cy="55.5" r="1.6" fill="#0a0600" opacity="0.8"/>
</g></g>
<g clip-path="url(#cf7)">
<rect x="257.7" y="88.8" width="71.2" height="24" fill="#0a0600"/>
<g fill="none" opacity="1" filter="url(#b03)">
<rect x="257.7" y="88.8" width="71.2" height="24" filter="url(#gweb)" opacity="0.85"/>
<path d="M310.8 114.4Q315.9 111.5 320.1 121.6Q325.8 122.9 320.9 133.2Q321.5 137.5 319.1 141.6Q316.2 146.2 321.1 152.2" stroke="#F9CA3A" stroke-width="0.75" opacity="0.59"/>
<path d="M282.1 95.8Q283.3 101.5 280.7 107.4Q279.3 110.2 284.2 112.5Q285.1 116.1 288.9 118.1" stroke="#D48C10" stroke-width="0.9" opacity="0.80"/>
<path d="M293.0 98.2Q297.2 100.4 301.7 102.0Q306.1 104.3 304.6 111.5" stroke="#E09A14" stroke-width="0.9" opacity="0.97"/>
<path d="M300.9 115.4Q303.9 109.8 305.1 103.4Q307.4 99.8 304.1 94.8Q302.7 90.2 305.8 85.3Q308.1 79.7 300.3 74.5" stroke="#D48C10" stroke-width="0.6" opacity="0.87"/>
<path d="M296.4 86.0Q301.1 89.0 305.4 92.4Q306.8 96.0 312.7 90.5Q316.8 86.1 323.9 85.7Q328.2 85.9 329.1 78.9" stroke="#F5B824" stroke-width="0.6" opacity="0.53"/>
<path d="M312.9 94.2Q319.0 93.2 324.7 90.7Q327.6 89.9 328.8 86.2Q332.6 84.8 331.7 78.6" stroke="#EDA81C" stroke-width="1.1" opacity="0.61"/>
<path d="M307.3 84.9Q305.0 87.6 303.8 91.1Q299.1 94.0 301.5 101.8Q298.1 106.4 293.3 109.7Q288.9 111.6 293.7 119.4" stroke="#F5B824" stroke-width="1.4" opacity="0.97"/>
<path d="M282.8 101.7Q281.6 97.7 286.1 94.2Q288.9 91.5 289.7 87.4Q292.4 83.9 297.8 84.2" stroke="#E09A14" stroke-width="1.1" opacity="0.53"/>
<path d="M323.3 93.7Q326.5 88.3 335.0 89.4Q340.5 91.1 346.4 90.9Q350.4 94.4 356.2 86.7" stroke="#FFD64A" stroke-width="0.9" opacity="0.76"/>
<path d="M276.5 96.2Q280.6 98.2 285.7 96.0Q288.6 94.2 292.5 97.5Q297.7 99.3 298.2 106.9Q301.0 111.1 307.9 109.8" stroke="#D48C10" stroke-width="0.9" opacity="0.70"/>
<path d="M319.1 114.4Q325.1 114.4 329.9 109.2Q332.4 104.0 338.4 101.4" stroke="#FFD64A" stroke-width="1.1" opacity="0.95"/>
<path d="M256.1 117.5Q261.8 114.4 269.0 116.0Q273.5 115.2 277.6 119.3" stroke="#E09A14" stroke-width="0.75" opacity="0.89"/>
<path d="M318.6 101.1Q312.9 98.4 306.8 96.6Q301.2 94.8 300.3 86.8Q295.4 85.1 290.3 83.8Q284.7 83.9 279.3 82.5" stroke="#D48C10" stroke-width="0.6" opacity="0.53"/>
<path d="M260.0 100.4Q265.8 101.8 271.4 104.3Q277.1 107.3 280.9 113.1Q283.4 116.8 289.9 114.3" stroke="#F5B824" stroke-width="0.75" opacity="0.71"/>
<path d="M314.7 96.0Q318.3 93.0 312.4 86.8Q312.4 83.5 308.1 81.7Q303.7 79.7 306.7 72.1Q309.1 66.6 298.2 63.5" stroke="#EDA81C" stroke-width="0.6" opacity="0.76"/>
<path d="M303.4 95.5Q297.4 96.8 294.2 103.6Q292.0 105.8 292.9 109.6" stroke="#F9CA3A" stroke-width="0.75" opacity="0.90"/>
<path d="M271.7 115.0Q269.1 117.6 264.3 115.6Q260.2 118.5 254.5 113.1Q250.6 109.7 244.2 113.6" stroke="#EDA81C" stroke-width="0.6" opacity="0.61"/>
<path d="M271.2 95.0Q270.4 90.0 270.3 85.0Q269.8 81.7 265.1 80.7Q261.0 78.4 255.7 79.1" stroke="#F2B01E" stroke-width="1.4" opacity="0.85"/>
<path d="M264.6 99.1Q261.7 93.9 253.9 93.7Q251.1 92.1 250.8 88.0Q250.2 82.6 240.5 85.0" stroke="#F9CA3A" stroke-width="0.9" opacity="0.52"/>
<path d="M330.5 113.9Q325.6 109.6 332.5 101.1Q332.8 96.5 340.5 96.5" stroke="#F2B01E" stroke-width="0.75" opacity="0.82"/>
<path d="M320.0 107.6Q318.5 111.9 311.4 110.5Q307.0 114.4 306.2 120.9Q304.3 127.0 296.6 129.2Q293.2 130.8 296.7 136.7" stroke="#F5B824" stroke-width="0.6" opacity="0.94"/>
<path d="M282.8 100.4Q283.1 106.7 282.3 113.1Q284.3 116.1 278.7 119.4Q276.1 122.3 271.3 122.0Q268.1 121.8 266.1 125.9" stroke="#D48C10" stroke-width="0.9" opacity="0.71"/>
<path d="M319.6 107.2Q322.0 101.3 331.6 111.0Q336.4 111.3 341.2 109.6Q346.8 109.5 350.5 103.3Q354.0 102.1 357.7 102.0" stroke="#F5B824" stroke-width="1.1" opacity="0.79"/>
<path d="M270.4 109.5Q273.5 109.2 275.4 113.2Q277.4 115.6 281.7 112.9Q285.3 114.1 287.6 108.2" stroke="#FFD64A" stroke-width="0.6" opacity="0.54"/>
<path d="M313.8 109.2Q308.2 111.1 303.1 114.4Q299.3 116.9 295.5 119.4Q291.2 121.6 290.6 127.7" stroke="#D48C10" stroke-width="1.4" opacity="0.73"/>
<path d="M260.3 112.9Q261.5 107.2 260.4 101.3Q257.7 97.2 256.6 92.2Q254.0 86.5 255.2 79.8" stroke="#EDA81C" stroke-width="1.1" opacity="0.54"/>
<path d="M332.9 86.5Q330.5 83.5 327.8 80.9Q324.3 80.3 322.3 76.3" stroke="#F9CA3A" stroke-width="0.75" opacity="0.50"/>
<path d="M328.8 100.0Q324.3 100.4 322.3 93.8Q317.7 89.7 310.7 89.8Q305.8 88.5 301.8 84.9" stroke="#F9CA3A" stroke-width="0.6" opacity="0.54"/>
<path d="M282.7 115.1Q287.5 115.1 292.2 116.5Q295.2 117.7 296.9 121.0Q297.5 124.0 300.6 125.9Q305.1 127.3 304.5 134.6" stroke="#FFD64A" stroke-width="0.9" opacity="0.94"/>
<path d="M269.6 92.9Q274.1 92.7 275.6 86.1Q281.3 85.1 277.7 74.8Q280.7 71.9 274.7 67.0" stroke="#F2B01E" stroke-width="1.4" opacity="0.79"/>
<path d="M316.2 99.0Q319.4 95.3 326.0 98.4Q331.7 99.8 337.6 96.5Q343.7 98.2 347.3 88.4Q352.6 87.8 355.1 81.2" stroke="#FFD64A" stroke-width="0.6" opacity="0.83"/>
<path d="M305.1 97.1Q304.4 93.8 309.1 91.7Q310.6 88.7 315.0 88.3Q320.0 89.0 320.2 79.6" stroke="#F5B824" stroke-width="1.4" opacity="0.80"/>
<path d="M302.7 113.4Q306.0 111.5 310.3 114.3Q315.7 113.2 319.0 120.9Q321.7 124.7 326.8 126.0" stroke="#FFD64A" stroke-width="0.75" opacity="0.59"/>
<path d="M314.6 90.4Q319.2 88.7 317.8 81.2Q316.4 77.1 324.3 75.5Q328.3 74.1 326.5 67.3Q324.7 63.3 332.4 60.9" stroke="#F9CA3A" stroke-width="0.6" opacity="0.61"/>
<path d="M311.5 104.8Q311.0 108.1 312.1 111.4Q311.8 114.8 307.9 116.7Q302.2 118.0 308.0 128.4" stroke="#F5B824" stroke-width="0.9" opacity="0.80"/>
<path d="M277.0 110.0Q276.9 116.2 279.3 122.3Q277.8 127.2 278.5 132.6Q277.4 137.7 284.9 140.8" stroke="#D48C10" stroke-width="0.75" opacity="0.73"/>
<path d="M256.0 91.4Q254.5 96.4 252.3 101.1Q250.2 104.1 250.2 108.0Q250.3 113.2 253.1 118.0" stroke="#F5B824" stroke-width="1.1" opacity="0.54"/>
<path d="M264.6 96.1Q259.5 94.3 255.2 90.9Q250.4 90.5 251.6 81.9Q246.9 78.0 243.4 73.0" stroke="#FFD64A" stroke-width="0.6" opacity="0.75"/>
<path d="M331.8 101.7Q329.5 96.4 326.7 91.3Q324.7 88.6 320.7 88.2" stroke="#FFD64A" stroke-width="1.4" opacity="0.68"/>
<path d="M261.0 115.5Q261.8 111.2 259.3 106.9Q255.5 103.0 250.7 100.0" stroke="#D48C10" stroke-width="0.6" opacity="0.57"/>
<path d="M321.5 85.9Q318.8 81.9 314.4 79.3Q309.7 75.0 303.2 73.3" stroke="#EDA81C" stroke-width="0.9" opacity="0.56"/>
<path d="M304.3 91.0Q304.1 95.8 303.8 100.6Q304.2 104.3 306.9 107.4Q308.8 110.0 308.6 113.6" stroke="#F9CA3A" stroke-width="1.1" opacity="0.98"/>
<path d="M278.3 86.3Q280.7 82.9 285.4 81.7Q288.3 79.5 290.1 76.2Q292.9 73.5 293.8 69.4" stroke="#F9CA3A" stroke-width="1.4" opacity="0.68"/>
<path d="M315.6 112.2Q312.4 116.3 308.2 119.5Q303.8 122.2 307.9 129.7Q307.1 134.8 304.7 139.6Q303.1 142.6 303.1 146.2" stroke="#EDA81C" stroke-width="0.9" opacity="0.85"/>
<path d="M332.6 98.6Q334.8 95.0 340.9 97.1Q346.8 95.9 351.2 103.3Q356.9 103.9 362.2 106.5" stroke="#FFD64A" stroke-width="0.9" opacity="0.58"/>
<path d="M287.2 116.1Q287.2 119.7 293.9 118.9Q297.1 118.0 300.5 117.5" stroke="#D48C10" stroke-width="0.9" opacity="0.53"/>
<path d="M278.9 85.0Q275.3 83.9 271.4 86.2Q267.4 90.7 262.5 78.0Q259.4 75.2 255.7 73.0" stroke="#F5B824" stroke-width="0.9" opacity="0.67"/>
<path d="M317.7 91.0Q319.6 88.3 315.9 84.7Q314.8 80.5 320.5 77.3Q324.2 75.2 320.9 68.8" stroke="#E09A14" stroke-width="0.9" opacity="0.55"/>
<path d="M304.3 111.8Q301.8 117.5 307.5 123.8Q310.0 128.3 314.7 131.2" stroke="#D48C10" stroke-width="1.1" opacity="0.67"/>
<path d="M298.7 103.3Q301.7 108.9 299.0 115.9Q301.4 120.3 304.2 124.4Q307.9 126.2 303.3 132.6Q303.3 136.7 307.8 139.4" stroke="#D48C10" stroke-width="1.1" opacity="0.97"/>
<path d="M263.5 84.2Q267.7 85.7 269.5 77.5Q273.3 72.5 274.4 66.0Q274.2 60.8 280.9 58.0" stroke="#FFD64A" stroke-width="1.1" opacity="0.73"/>
<path d="M279.1 110.6Q283.6 106.2 289.1 103.1Q292.9 97.9 299.8 95.7" stroke="#D48C10" stroke-width="0.75" opacity="0.85"/>
<path d="M327.1 112.9Q326.7 108.8 328.6 104.7Q327.7 99.5 335.9 97.0" stroke="#FFD64A" stroke-width="0.6" opacity="0.86"/>
<path d="M311.8 89.7Q314.1 92.1 318.3 90.9Q321.5 92.2 325.1 89.4" stroke="#FFD64A" stroke-width="1.4" opacity="0.51"/>
<path d="M273.9 98.5Q269.3 95.7 277.2 88.3Q277.1 83.0 284.8 80.9Q287.6 78.2 288.7 74.1Q287.7 68.1 291.7 62.3" stroke="#D48C10" stroke-width="0.6" opacity="0.90"/>
<path d="M280.6 104.6Q282.3 110.3 271.4 112.0Q267.7 114.0 263.1 113.6Q257.0 113.8 251.6 117.9Q248.2 118.0 247.7 123.4" stroke="#EDA81C" stroke-width="0.75" opacity="1.00"/>
<path d="M299.7 85.9Q301.4 91.2 306.5 94.7Q312.1 97.8 319.0 97.0" stroke="#EDA81C" stroke-width="0.9" opacity="0.54"/>
<path d="M282.0 89.0Q283.2 92.6 281.9 96.7Q279.1 100.3 287.2 104.1" stroke="#F9CA3A" stroke-width="1.1" opacity="0.79"/>
<path d="M312.6 114.7Q317.8 117.7 309.4 126.2Q307.2 128.9 313.3 132.0Q318.2 135.3 313.2 143.9Q310.7 147.2 315.1 151.8" stroke="#FFD64A" stroke-width="1.4" opacity="0.70"/>
<path d="M329.0 92.9Q327.4 88.2 331.8 83.5Q334.9 78.5 342.5 79.0Q345.7 75.1 352.6 78.6Q358.5 78.6 364.3 79.6" stroke="#F9CA3A" stroke-width="0.9" opacity="0.83"/>
<path d="M262.3 99.7Q256.3 97.1 252.9 90.8Q247.2 88.0 241.3 85.6" stroke="#E09A14" stroke-width="0.6" opacity="0.95"/>
<path d="M297.5 93.9Q300.4 91.3 304.4 90.2Q307.0 84.7 306.9 78.1Q310.3 75.6 310.1 70.4Q311.6 67.3 312.0 63.8" stroke="#E09A14" stroke-width="0.75" opacity="0.67"/>
<path d="M252.0 91.1Q247.5 91.0 243.1 90.8Q237.4 93.3 234.8 81.7Q232.1 79.0 232.1 74.6" stroke="#FFD64A" stroke-width="1.4" opacity="0.85"/>
<path d="M333.4 112.2Q332.8 107.8 334.7 103.5Q333.8 97.8 326.9 95.1" stroke="#E09A14" stroke-width="1.4" opacity="0.65"/>
<path d="M274.4 104.9Q276.8 109.6 280.9 113.2Q283.0 116.5 287.8 116.7Q291.9 119.2 297.2 114.6Q301.2 116.2 301.2 107.0" stroke="#EDA81C" stroke-width="0.6" opacity="0.65"/>
<path d="M313.5 86.5Q315.3 89.0 318.3 90.2Q321.9 91.2 325.8 90.4Q328.3 92.5 330.3 95.3" stroke="#E09A14" stroke-width="0.75" opacity="0.52"/>
<path d="M264.4 87.4Q260.1 91.4 257.7 97.1Q254.3 99.9 256.5 105.7Q254.5 111.7 249.3 116.1" stroke="#F9CA3A" stroke-width="0.6" opacity="0.50"/>
<path d="M333.2 111.8Q328.8 112.1 328.6 104.1Q328.2 99.8 328.8 95.4Q327.2 91.8 328.3 87.6Q324.8 83.4 328.8 76.8" stroke="#F2B01E" stroke-width="0.75" opacity="0.55"/>
<path d="M334.8 104.4Q330.9 108.2 331.5 114.7Q330.2 120.0 324.9 123.5Q322.4 125.1 321.2 128.2" stroke="#D48C10" stroke-width="1.1" opacity="0.56"/>
<path d="M258.5 102.2Q264.6 103.6 270.7 105.6Q273.5 108.9 275.9 112.6Q278.2 116.5 281.2 120.0" stroke="#F2B01E" stroke-width="1.4" opacity="0.68"/>
<path d="M278.0 113.4Q279.9 110.1 284.7 110.0Q288.7 109.2 289.2 103.1Q292.2 100.2 293.9 96.3Q296.5 94.4 300.0 94.2" stroke="#F2B01E" stroke-width="1.4" opacity="0.76"/>
<path d="M286.2 107.9Q289.3 108.2 292.1 106.3Q298.0 108.2 304.1 109.3Q309.0 109.0 313.8 110.5" stroke="#F5B824" stroke-width="0.6" opacity="0.66"/>
<path d="M318.8 116.6Q315.4 114.0 310.4 116.9Q307.1 119.8 304.5 110.5" stroke="#EDA81C" stroke-width="1.4" opacity="0.72"/>
<path d="M258.4 101.0Q254.6 99.7 257.3 93.1Q256.1 90.3 258.3 87.1Q258.5 83.2 256.7 79.4" stroke="#EDA81C" stroke-width="1.4" opacity="0.72"/>
<path d="M313.1 106.3Q309.9 100.9 315.5 94.1Q320.3 89.7 310.1 82.2Q309.5 76.2 298.7 78.0" stroke="#F9CA3A" stroke-width="1.1" opacity="0.64"/>
<circle cx="327.8" cy="100.6" r="1.8" fill="#0a0600" opacity="0.8"/>
<circle cx="280.2" cy="89.9" r="2.2" fill="#0a0600" opacity="0.8"/>
</g></g>
<g clip-path="url(#cf8)">
<rect x="331.2" y="88.8" width="70.6" height="24" fill="#0a0600"/>
<g fill="none" opacity="0.97" filter="url(#b03)">
<rect x="331.2" y="88.8" width="70.6" height="24" filter="url(#gweb)" opacity="0.85"/>
<path d="M345.6 103.6Q350.0 104.4 352.7 109.0Q356.1 111.9 361.7 108.7Q364.8 106.2 369.5 110.8Q374.1 115.0 381.4 107.1" stroke="#D48C10" stroke-width="0.75" opacity="0.96"/>
<path d="M385.9 88.5Q384.9 94.8 383.3 101.0Q385.0 105.3 385.2 110.0" stroke="#F9CA3A" stroke-width="0.75" opacity="0.54"/>
<path d="M350.7 115.0Q354.4 110.4 361.0 109.1Q364.9 105.2 367.1 99.8" stroke="#D48C10" stroke-width="0.6" opacity="0.80"/>
<path d="M390.0 114.6Q390.1 110.8 392.0 107.3Q393.9 101.9 401.5 100.9Q402.8 96.5 410.5 102.0Q415.9 98.9 418.9 111.3" stroke="#F2B01E" stroke-width="0.6" opacity="0.84"/>
<path d="M402.6 116.5Q408.4 118.8 411.5 125.4Q414.7 127.8 415.6 132.3Q419.9 137.0 418.5 144.6" stroke="#D48C10" stroke-width="1.4" opacity="0.93"/>
<path d="M400.8 114.3Q404.3 113.8 407.8 114.9Q412.1 115.7 414.5 120.7Q419.6 123.0 425.7 121.6" stroke="#FFD64A" stroke-width="0.75" opacity="0.99"/>
<path d="M398.0 92.2Q398.9 96.8 391.1 98.6Q386.1 102.3 378.7 98.8" stroke="#F5B824" stroke-width="1.1" opacity="0.95"/>
<path d="M352.8 88.3Q358.1 91.1 357.0 99.6Q357.2 102.8 362.8 102.3Q367.9 102.1 365.5 112.2" stroke="#FFD64A" stroke-width="1.1" opacity="0.86"/>
<path d="M326.2 105.6Q326.8 109.5 331.4 111.4Q333.6 113.6 337.5 112.5Q342.8 115.1 348.8 109.2" stroke="#F9CA3A" stroke-width="0.6" opacity="0.82"/>
<path d="M335.6 108.9Q340.5 110.4 340.7 117.9Q341.2 122.9 347.8 125.0Q353.6 127.2 357.9 131.9Q361.4 133.5 363.2 137.5" stroke="#EDA81C" stroke-width="0.6" opacity="0.56"/>
<path d="M364.1 105.7Q369.1 101.7 370.4 94.6Q373.2 91.9 373.6 87.5Q373.2 83.6 380.8 84.2" stroke="#F9CA3A" stroke-width="1.4" opacity="0.57"/>
<path d="M343.4 88.4Q347.7 87.8 352.0 88.6Q356.1 90.4 360.7 86.8Q364.4 84.1 369.4 84.4Q373.7 82.6 378.4 87.0" stroke="#FFD64A" stroke-width="0.9" opacity="0.80"/>
<path d="M343.6 93.9Q346.7 92.6 350.2 92.2Q353.0 90.8 353.9 87.1" stroke="#E09A14" stroke-width="1.4" opacity="0.51"/>
<path d="M358.3 92.8Q355.8 95.3 352.8 97.2Q349.8 99.8 345.0 98.7" stroke="#F9CA3A" stroke-width="1.1" opacity="0.92"/>
<path d="M339.1 108.0Q340.4 102.7 347.2 100.7Q350.5 96.7 356.0 95.2" stroke="#EDA81C" stroke-width="0.6" opacity="0.50"/>
<path d="M340.3 115.0Q344.3 114.6 347.0 119.5Q351.3 122.8 353.0 128.7Q353.9 132.9 356.1 136.8" stroke="#F9CA3A" stroke-width="0.9" opacity="0.68"/>
<path d="M358.6 99.4Q353.4 96.2 362.3 87.7Q361.7 81.6 364.1 75.6Q364.0 72.1 368.4 69.9" stroke="#EDA81C" stroke-width="1.4" opacity="0.83"/>
<path d="M390.7 85.6Q395.2 89.5 389.1 97.2Q391.9 101.7 383.6 106.2Q382.5 109.6 377.1 109.3Q374.0 109.2 372.4 113.2" stroke="#D48C10" stroke-width="0.9" opacity="0.70"/>
<path d="M333.4 89.1Q329.0 91.8 324.7 83.7Q322.6 80.4 318.1 79.9" stroke="#FFD64A" stroke-width="0.9" opacity="0.72"/>
<path d="M335.5 117.0Q333.9 111.9 331.6 107.1Q332.1 101.4 333.0 95.7" stroke="#F5B824" stroke-width="1.1" opacity="0.63"/>
<path d="M357.1 85.1Q355.2 90.6 365.6 92.9Q369.3 94.6 366.1 101.0Q365.6 106.4 374.5 107.9" stroke="#F5B824" stroke-width="1.4" opacity="0.61"/>
<path d="M386.5 94.2Q384.9 89.7 388.8 84.9Q391.5 80.0 394.1 75.0Q395.8 72.2 393.1 68.5" stroke="#E09A14" stroke-width="1.4" opacity="0.97"/>
<path d="M326.5 98.7Q325.2 92.5 320.6 87.6Q316.9 85.9 322.8 79.7" stroke="#F9CA3A" stroke-width="1.4" opacity="0.92"/>
<path d="M329.7 99.3Q333.1 96.1 334.3 91.1Q334.6 84.8 340.1 79.9" stroke="#EDA81C" stroke-width="1.1" opacity="0.86"/>
<path d="M343.4 84.7Q343.6 79.8 342.3 74.9Q339.1 70.8 334.8 67.9Q332.1 65.7 327.8 68.1" stroke="#F2B01E" stroke-width="0.75" opacity="0.70"/>
<path d="M344.4 97.8Q340.0 100.6 343.4 108.2Q344.6 111.8 338.8 114.4" stroke="#F5B824" stroke-width="0.6" opacity="0.53"/>
<path d="M325.5 98.7Q328.5 98.8 330.3 95.1Q333.9 91.6 338.8 89.7" stroke="#F9CA3A" stroke-width="1.1" opacity="0.55"/>
<path d="M335.7 105.9Q337.8 111.2 341.0 116.0Q341.8 120.9 348.4 122.6Q349.8 126.4 356.4 123.7Q360.0 123.9 363.5 125.0" stroke="#E09A14" stroke-width="0.75" opacity="0.90"/>
<path d="M338.8 100.5Q343.1 101.9 346.9 104.6Q349.7 108.5 356.2 107.2" stroke="#F9CA3A" stroke-width="1.4" opacity="0.59"/>
<path d="M328.3 107.8Q323.4 110.7 322.6 117.7Q321.5 120.8 316.5 120.5Q312.7 123.4 307.7 124.2Q303.9 127.9 297.4 122.0" stroke="#F2B01E" stroke-width="0.6" opacity="0.79"/>
<path d="M340.5 111.4Q340.3 116.8 341.0 122.1Q339.2 127.1 348.4 129.9Q353.1 131.2 357.5 133.8Q361.1 137.2 362.0 142.7" stroke="#D48C10" stroke-width="0.75" opacity="0.56"/>
<path d="M352.3 107.7Q351.7 102.1 362.7 103.5Q366.6 103.0 369.5 99.6" stroke="#F5B824" stroke-width="0.6" opacity="0.87"/>
<path d="M405.4 104.5Q400.4 108.5 393.1 100.8Q387.7 97.6 381.2 104.8Q376.9 104.4 376.1 111.7Q370.6 114.3 371.6 122.9" stroke="#F9CA3A" stroke-width="0.6" opacity="0.51"/>
<path d="M373.8 106.0Q377.4 104.4 381.3 103.4Q387.0 101.1 390.1 94.8Q393.7 92.4 398.8 94.9" stroke="#E09A14" stroke-width="1.4" opacity="0.64"/>
<path d="M384.9 96.5Q380.5 92.2 373.1 100.0Q370.4 103.2 369.3 107.4" stroke="#FFD64A" stroke-width="0.75" opacity="0.96"/>
<path d="M330.0 100.1Q326.6 97.9 321.9 100.9Q316.1 98.9 311.9 94.0Q308.4 91.0 304.3 88.9Q302.5 85.3 297.1 85.6" stroke="#D48C10" stroke-width="0.9" opacity="0.90"/>
<path d="M338.8 102.8Q338.2 105.8 340.3 108.7Q340.2 113.0 335.1 115.5Q331.9 120.3 323.9 118.1" stroke="#EDA81C" stroke-width="0.6" opacity="0.87"/>
<path d="M362.4 86.6Q358.8 84.0 358.8 78.5Q355.9 72.8 346.9 73.8Q343.5 74.4 340.9 77.1Q336.5 76.4 332.1 78.5" stroke="#F2B01E" stroke-width="1.4" opacity="0.83"/>
<path d="M389.5 108.3Q392.8 113.1 400.2 112.9Q402.7 115.5 407.5 113.3" stroke="#FFD64A" stroke-width="0.9" opacity="0.58"/>
<path d="M368.2 90.8Q371.3 85.1 371.7 78.3Q372.2 73.1 375.7 68.6Q378.7 64.7 385.1 65.7" stroke="#FFD64A" stroke-width="1.4" opacity="0.83"/>
<path d="M394.2 110.8Q398.5 107.3 402.5 103.4Q406.4 99.4 406.0 92.7Q405.0 89.5 403.0 86.7" stroke="#F5B824" stroke-width="0.75" opacity="0.53"/>
<path d="M345.4 115.8Q339.9 113.8 337.5 107.3Q333.9 104.0 334.6 98.1" stroke="#FFD64A" stroke-width="1.4" opacity="0.93"/>
<path d="M368.7 94.5Q370.4 89.6 370.9 84.5Q373.8 82.2 368.4 77.6Q370.0 72.3 362.5 68.2Q359.1 63.9 355.3 59.8" stroke="#E09A14" stroke-width="0.6" opacity="0.52"/>
<path d="M329.8 95.4Q331.1 99.1 337.4 97.0Q343.3 97.1 348.6 100.8" stroke="#F2B01E" stroke-width="1.4" opacity="0.78"/>
<path d="M330.4 107.8Q324.7 107.4 319.0 108.5Q313.3 111.4 308.2 101.6Q304.6 97.3 299.6 94.4" stroke="#E09A14" stroke-width="1.1" opacity="0.56"/>
<path d="M406.6 88.4Q404.3 92.5 399.9 94.9Q398.7 100.0 392.0 101.6Q389.3 105.1 385.6 107.6Q382.2 108.3 379.5 110.6" stroke="#F9CA3A" stroke-width="1.4" opacity="0.74"/>
<path d="M395.7 93.7Q399.0 97.3 401.7 101.4Q405.6 103.2 402.7 109.8Q405.3 112.5 403.5 117.3" stroke="#F2B01E" stroke-width="0.75" opacity="0.75"/>
<path d="M379.2 107.0Q379.5 103.8 382.6 101.5Q386.4 99.0 389.6 95.7Q394.4 94.2 394.6 86.9" stroke="#D48C10" stroke-width="1.1" opacity="0.62"/>
<path d="M334.5 109.4Q328.8 107.1 329.3 98.2Q329.5 93.1 326.1 88.5Q324.9 84.3 319.3 83.0" stroke="#D48C10" stroke-width="1.1" opacity="0.71"/>
<path d="M372.5 95.4Q371.2 99.9 379.0 102.1Q379.7 107.4 389.7 101.7Q394.7 98.0 402.0 99.6" stroke="#F9CA3A" stroke-width="0.75" opacity="0.91"/>
<path d="M399.7 90.4Q398.1 94.0 398.7 98.3Q396.5 101.2 402.5 104.4Q407.0 106.7 412.4 106.0Q415.8 105.0 419.4 107.8" stroke="#E09A14" stroke-width="0.9" opacity="0.98"/>
<path d="M367.1 109.6Q369.2 112.5 371.5 115.3Q374.8 117.8 370.0 123.3" stroke="#F9CA3A" stroke-width="0.75" opacity="0.73"/>
<path d="M327.1 85.7Q332.6 82.5 325.4 73.1Q325.3 68.9 322.9 65.2" stroke="#FFD64A" stroke-width="1.1" opacity="0.97"/>
<path d="M353.8 104.8Q349.6 105.6 346.3 109.0Q341.7 108.9 341.7 116.9" stroke="#FFD64A" stroke-width="0.9" opacity="0.56"/>
<path d="M361.5 113.4Q361.2 118.2 361.5 123.2Q360.0 128.9 357.5 134.3" stroke="#FFD64A" stroke-width="0.9" opacity="0.53"/>
<path d="M360.4 103.5Q357.5 105.7 354.8 108.0Q352.7 110.5 348.4 109.2Q345.3 108.9 343.7 113.1Q342.4 116.4 341.2 119.8" stroke="#E09A14" stroke-width="0.75" opacity="0.70"/>
<path d="M361.2 115.7Q357.1 113.2 351.6 116.8Q346.8 114.3 344.2 124.6Q341.0 125.3 344.7 131.1Q342.1 135.4 338.7 139.3" stroke="#F9CA3A" stroke-width="0.6" opacity="0.71"/>
<path d="M326.2 116.2Q320.2 117.7 313.9 116.0Q308.4 114.1 303.2 120.7" stroke="#F5B824" stroke-width="1.4" opacity="0.59"/>
<path d="M331.7 110.9Q329.5 105.9 324.6 102.6Q324.5 97.1 315.7 96.3Q309.8 96.3 308.7 86.8Q306.4 82.7 299.3 85.6" stroke="#F2B01E" stroke-width="0.75" opacity="0.85"/>
<path d="M351.0 102.7Q352.1 98.9 358.0 99.0Q361.5 98.0 362.0 92.9Q366.5 91.5 370.4 88.6" stroke="#F2B01E" stroke-width="1.1" opacity="0.75"/>
<path d="M350.1 109.8Q352.8 107.8 354.6 104.9Q359.8 102.1 353.1 93.1Q352.9 89.9 349.1 88.1" stroke="#EDA81C" stroke-width="1.4" opacity="0.56"/>
<path d="M353.2 104.7Q353.3 99.5 344.2 99.3Q341.0 97.9 337.3 99.4Q333.5 99.9 332.3 105.1" stroke="#F2B01E" stroke-width="0.75" opacity="1.00"/>
<path d="M350.8 99.4Q354.9 97.7 359.2 96.5Q363.7 94.1 369.4 97.4Q372.9 96.1 376.6 98.9Q378.8 101.3 381.9 95.4" stroke="#D48C10" stroke-width="0.9" opacity="0.83"/>
<path d="M380.0 109.8Q383.3 108.6 386.4 107.0Q391.0 103.0 398.5 105.9" stroke="#EDA81C" stroke-width="1.1" opacity="0.93"/>
<path d="M359.2 85.1Q360.8 82.3 364.2 80.8Q367.7 79.6 364.1 73.3" stroke="#F9CA3A" stroke-width="1.4" opacity="0.77"/>
<path d="M335.2 85.5Q329.7 83.2 334.9 73.5Q337.3 69.2 339.8 64.9" stroke="#FFD64A" stroke-width="0.6" opacity="0.97"/>
<path d="M365.5 108.8Q365.3 111.9 362.8 114.3Q359.4 119.1 351.8 118.5Q345.7 119.7 342.4 126.6" stroke="#F5B824" stroke-width="0.9" opacity="0.66"/>
<path d="M339.6 113.6Q334.5 113.5 333.1 105.8Q329.9 105.0 328.6 101.0Q324.7 97.6 326.0 90.9Q323.3 88.3 321.7 84.8" stroke="#D48C10" stroke-width="1.4" opacity="0.90"/>
<path d="M327.1 90.7Q330.5 94.0 328.9 100.0Q330.1 103.9 325.3 107.2Q321.8 110.2 320.4 114.9Q319.6 120.5 322.9 125.9" stroke="#F9CA3A" stroke-width="0.6" opacity="0.64"/>
<path d="M382.0 117.5Q383.7 122.2 389.4 124.0Q391.5 128.4 393.7 132.8" stroke="#EDA81C" stroke-width="0.75" opacity="0.82"/>
<path d="M346.6 106.0Q347.3 109.4 344.0 112.5Q343.8 115.8 343.2 119.2Q342.6 123.5 337.8 126.2Q334.3 127.7 330.8 129.2" stroke="#F5B824" stroke-width="0.9" opacity="0.82"/>
<path d="M371.8 114.7Q371.0 117.7 371.0 120.8Q369.3 126.5 365.3 131.2Q364.9 136.3 367.1 141.3" stroke="#F9CA3A" stroke-width="0.6" opacity="0.65"/>
<path d="M327.9 95.9Q325.6 98.4 321.6 98.3Q317.4 100.0 313.0 101.4Q310.5 103.8 306.2 100.1" stroke="#F9CA3A" stroke-width="0.9" opacity="0.81"/>
<path d="M336.7 101.0Q332.4 104.3 327.8 107.4Q325.2 109.2 322.9 111.5Q320.1 115.2 317.8 119.3" stroke="#E09A14" stroke-width="1.4" opacity="0.85"/>
<path d="M389.5 116.9Q392.8 117.1 395.5 114.2Q398.7 114.7 399.7 109.3Q399.9 103.8 410.6 108.0Q416.0 107.4 417.2 99.3" stroke="#E09A14" stroke-width="1.4" opacity="0.54"/>
<circle cx="398.7" cy="103.8" r="2.5" fill="#0a0600" opacity="0.8"/>
<circle cx="374.0" cy="110.5" r="1.7" fill="#0a0600" opacity="0.8"/>
</g></g>
<g clip-path="url(#cf9)">
<rect x="403.9" y="88.8" width="71.3" height="24" fill="#0a0600"/>
<g fill="none" opacity="0.93" filter="url(#b03)">
<rect x="403.9" y="88.8" width="71.3" height="24" filter="url(#gweb)" opacity="0.85"/>
<path d="M408.8 111.5Q412.1 107.1 419.8 112.6Q423.6 111.2 427.0 116.3Q431.1 116.0 434.9 114.1" stroke="#D48C10" stroke-width="1.1" opacity="0.55"/>
<path d="M424.8 117.4Q419.5 120.5 412.7 116.7Q407.1 115.9 406.0 107.7Q405.4 104.7 401.0 104.0Q395.9 102.6 392.6 97.6" stroke="#F9CA3A" stroke-width="0.75" opacity="0.99"/>
<path d="M478.7 100.3Q481.2 97.9 485.4 101.5Q489.2 101.9 492.4 104.6Q495.3 107.7 500.8 103.3Q505.8 102.9 506.2 94.8" stroke="#F2B01E" stroke-width="1.4" opacity="0.90"/>
<path d="M468.9 90.3Q466.6 88.0 462.9 92.7Q458.8 95.5 459.5 102.0" stroke="#F2B01E" stroke-width="0.9" opacity="0.57"/>
<path d="M459.4 99.0Q455.0 102.3 453.3 108.3Q451.5 112.2 453.2 117.0Q452.9 120.6 447.7 121.7" stroke="#D48C10" stroke-width="0.75" opacity="0.70"/>
<path d="M400.4 115.1Q395.4 118.4 398.0 126.9Q396.8 131.4 401.8 135.3Q406.4 137.8 405.0 145.2" stroke="#F2B01E" stroke-width="1.4" opacity="0.93"/>
<path d="M466.2 111.8Q469.3 108.5 464.8 102.9Q462.1 99.8 465.1 94.6Q467.2 91.8 466.8 87.7" stroke="#EDA81C" stroke-width="1.4" opacity="0.97"/>
<path d="M410.4 97.9Q415.1 97.5 415.3 90.0Q419.9 86.0 415.3 77.8Q414.8 74.6 416.7 71.5Q415.2 66.5 420.8 61.9" stroke="#D48C10" stroke-width="0.75" opacity="0.91"/>
<path d="M435.6 115.0Q438.7 115.7 440.1 119.6Q441.3 124.5 448.4 125.0" stroke="#F5B824" stroke-width="0.6" opacity="0.83"/>
<path d="M421.0 113.0Q424.1 109.0 418.7 103.2Q417.2 98.3 417.8 93.1" stroke="#F2B01E" stroke-width="0.9" opacity="0.95"/>
<path d="M414.4 111.3Q418.3 113.3 422.2 115.2Q427.3 116.4 431.4 120.0" stroke="#FFD64A" stroke-width="0.75" opacity="0.80"/>
<path d="M409.7 88.2Q414.6 87.3 419.3 85.6Q425.7 84.5 431.8 82.4" stroke="#F5B824" stroke-width="0.9" opacity="0.66"/>
<path d="M476.3 110.2Q482.4 111.9 484.4 119.9Q488.4 122.3 486.9 129.0Q485.2 135.0 483.3 140.9" stroke="#F9CA3A" stroke-width="0.75" opacity="0.93"/>
<path d="M424.9 109.5Q422.8 111.8 418.5 109.3Q414.3 108.0 409.7 108.7Q405.6 107.1 404.1 102.0" stroke="#F2B01E" stroke-width="1.1" opacity="0.64"/>
<path d="M421.3 111.1Q417.5 112.7 413.4 113.3Q407.9 111.8 402.1 115.0Q397.3 115.2 394.4 120.6Q391.4 121.6 388.3 122.1" stroke="#EDA81C" stroke-width="0.9" opacity="0.71"/>
<path d="M478.4 88.4Q481.0 85.2 484.8 83.2Q488.1 81.0 488.4 76.1Q488.9 72.3 489.2 68.3" stroke="#F5B824" stroke-width="0.75" opacity="0.51"/>
<path d="M472.9 100.7Q474.3 106.4 479.6 110.3Q483.7 112.0 487.6 114.2Q490.9 116.4 492.3 120.5" stroke="#FFD64A" stroke-width="0.75" opacity="0.74"/>
<path d="M416.4 103.7Q410.9 100.5 408.7 93.6Q405.5 91.0 404.2 86.7Q402.4 83.1 398.0 81.6Q393.2 80.7 388.8 78.3" stroke="#E09A14" stroke-width="1.4" opacity="0.74"/>
<path d="M480.6 117.1Q475.0 118.8 473.6 126.4Q470.7 131.9 461.5 129.5Q457.8 128.8 453.9 130.5Q449.4 131.7 445.4 134.2" stroke="#F5B824" stroke-width="0.9" opacity="0.59"/>
<path d="M466.9 104.2Q461.4 103.6 461.0 94.9Q458.2 92.4 456.1 89.1" stroke="#F2B01E" stroke-width="0.6" opacity="0.68"/>
<path d="M402.5 85.5Q401.9 88.7 399.6 91.2Q395.4 93.4 390.6 94.3Q386.4 93.5 384.8 100.6" stroke="#F9CA3A" stroke-width="0.6" opacity="0.96"/>
<path d="M474.5 105.8Q470.5 109.6 467.2 114.0Q465.2 119.2 460.5 122.9" stroke="#F2B01E" stroke-width="1.4" opacity="0.83"/>
<path d="M400.0 90.3Q400.8 96.3 389.4 96.3Q384.8 100.3 377.3 94.5" stroke="#F5B824" stroke-width="0.9" opacity="0.97"/>
<path d="M446.6 86.7Q443.4 82.1 443.5 76.0Q442.6 70.8 435.5 69.2Q432.5 64.2 423.8 69.8Q419.7 71.7 414.7 70.0" stroke="#E09A14" stroke-width="0.75" opacity="0.63"/>
<path d="M411.6 109.3Q408.2 110.8 407.2 115.3Q403.4 117.9 400.8 122.0" stroke="#F5B824" stroke-width="0.6" opacity="0.55"/>
<path d="M454.7 91.6Q453.8 87.7 453.9 83.6Q455.4 79.2 450.2 75.0" stroke="#F9CA3A" stroke-width="0.6" opacity="0.76"/>
<path d="M398.5 117.2Q402.1 114.3 401.0 108.3Q401.2 104.4 400.4 100.4" stroke="#FFD64A" stroke-width="1.4" opacity="0.97"/>
<path d="M455.9 84.0Q455.5 80.6 453.0 77.8Q450.6 72.4 442.2 73.1Q436.8 71.0 431.0 75.9" stroke="#F5B824" stroke-width="0.9" opacity="0.61"/>
<path d="M479.4 86.4Q475.0 82.9 469.7 80.6Q466.3 81.1 463.5 77.6Q460.3 74.4 455.5 73.4" stroke="#D48C10" stroke-width="0.9" opacity="0.63"/>
<path d="M429.4 98.0Q427.6 93.2 421.6 91.4Q417.0 89.0 416.2 82.5" stroke="#F2B01E" stroke-width="1.4" opacity="0.62"/>
<path d="M443.9 98.0Q440.2 94.8 443.1 88.3Q443.9 85.2 443.9 82.0" stroke="#F9CA3A" stroke-width="1.1" opacity="0.54"/>
<path d="M409.8 101.7Q414.1 99.5 417.2 95.4Q422.9 93.4 429.3 94.3" stroke="#D48C10" stroke-width="0.6" opacity="0.77"/>
<path d="M416.9 117.6Q420.0 115.1 423.0 122.8Q428.7 123.6 434.6 123.3" stroke="#EDA81C" stroke-width="1.4" opacity="0.53"/>
<path d="M446.4 85.0Q450.5 82.6 450.8 76.5Q455.1 72.6 462.0 72.8Q468.0 72.6 474.0 73.3" stroke="#F5B824" stroke-width="0.9" opacity="0.51"/>
<path d="M423.6 107.9Q422.6 104.5 416.5 106.8Q413.2 104.4 410.2 101.7Q406.2 98.4 405.0 92.8" stroke="#F2B01E" stroke-width="0.9" opacity="0.51"/>
<path d="M464.6 114.3Q459.4 115.0 454.1 114.3Q448.4 113.5 442.5 114.6" stroke="#F2B01E" stroke-width="0.75" opacity="0.82"/>
<path d="M469.0 93.4Q472.6 91.3 473.7 86.5Q478.6 83.7 484.1 82.1" stroke="#E09A14" stroke-width="1.1" opacity="0.62"/>
<path d="M403.8 85.3Q399.8 81.1 395.9 76.6Q395.0 71.2 385.0 77.0Q380.9 78.8 377.7 82.4Q374.3 86.9 366.4 82.3" stroke="#F9CA3A" stroke-width="0.9" opacity="0.94"/>
<path d="M412.8 104.9Q406.6 104.1 401.0 108.9Q397.6 111.6 392.8 106.0Q387.7 106.4 385.0 99.2Q379.5 97.3 375.7 92.3" stroke="#F2B01E" stroke-width="1.1" opacity="0.66"/>
<path d="M437.7 105.6Q443.8 107.7 450.2 102.1Q454.4 97.4 462.8 103.3Q465.9 103.8 468.9 104.0Q472.0 102.4 474.5 100.0" stroke="#F9CA3A" stroke-width="0.75" opacity="0.57"/>
<path d="M451.7 86.2Q450.0 83.5 445.3 85.2Q441.9 82.3 436.6 83.1Q433.3 81.6 432.1 77.4Q428.6 74.9 425.4 71.9" stroke="#F9CA3A" stroke-width="0.9" opacity="0.87"/>
<path d="M436.2 96.9Q435.7 102.7 446.8 102.1Q451.5 102.1 451.4 110.2" stroke="#EDA81C" stroke-width="1.1" opacity="0.64"/>
<path d="M409.4 115.3Q413.6 117.1 411.7 124.3Q410.2 130.2 419.9 133.2" stroke="#F9CA3A" stroke-width="0.6" opacity="1.00"/>
<path d="M412.7 103.3Q417.5 105.9 423.0 107.2Q426.8 105.9 431.0 107.8Q434.9 106.1 439.0 110.8Q444.7 111.4 447.3 118.8" stroke="#F5B824" stroke-width="1.4" opacity="0.94"/>
<path d="M402.0 97.2Q399.4 92.2 396.5 87.4Q396.5 81.2 392.0 75.8Q388.8 73.3 384.4 73.4Q379.1 74.2 379.4 64.0" stroke="#FFD64A" stroke-width="0.9" opacity="0.84"/>
<path d="M402.2 97.3Q406.1 97.6 407.9 91.7Q411.0 88.7 413.9 85.5Q416.8 82.4 421.6 81.9Q425.4 80.6 428.9 85.1" stroke="#FFD64A" stroke-width="0.75" opacity="0.96"/>
<path d="M403.3 94.5Q397.3 95.6 398.2 105.5Q396.9 109.8 390.3 109.6Q387.4 111.2 384.6 113.1" stroke="#E09A14" stroke-width="0.6" opacity="0.69"/>
<path d="M438.2 86.9Q442.1 89.6 445.1 80.7Q449.6 80.3 446.7 71.8Q446.3 68.3 450.5 65.9Q451.8 60.7 457.6 57.8" stroke="#FFD64A" stroke-width="1.4" opacity="0.98"/>
<path d="M412.2 101.3Q409.7 96.6 407.4 91.8Q401.9 88.8 401.6 80.7" stroke="#E09A14" stroke-width="0.6" opacity="0.61"/>
<path d="M417.5 106.8Q413.4 105.2 409.7 103.0Q406.7 99.6 400.7 104.2Q395.9 103.9 391.4 101.6" stroke="#D48C10" stroke-width="0.9" opacity="0.96"/>
<path d="M474.8 112.2Q470.0 114.6 469.6 121.7Q469.2 124.6 466.4 126.8Q466.5 130.9 459.8 131.6" stroke="#F9CA3A" stroke-width="0.75" opacity="0.66"/>
<path d="M462.8 88.9Q459.2 85.3 453.0 85.8Q449.9 84.2 447.4 81.5Q444.7 79.0 442.9 75.6" stroke="#F9CA3A" stroke-width="1.4" opacity="0.81"/>
<path d="M407.0 85.2Q404.5 81.2 412.3 77.4Q415.1 73.3 419.2 70.3" stroke="#FFD64A" stroke-width="1.4" opacity="0.88"/>
<path d="M409.0 97.5Q412.7 97.3 415.9 100.2Q418.0 102.6 421.5 97.0Q426.9 95.8 426.9 87.2" stroke="#F9CA3A" stroke-width="0.9" opacity="0.97"/>
<path d="M442.1 110.3Q437.3 109.2 435.1 103.4Q429.6 101.8 425.4 97.7Q421.0 93.6 416.7 89.6Q413.6 88.7 410.4 88.8" stroke="#FFD64A" stroke-width="0.75" opacity="0.72"/>
<path d="M425.6 114.0Q428.7 111.8 433.2 114.9Q437.1 113.0 440.8 110.5Q446.9 110.2 452.3 114.6Q455.3 116.6 459.4 114.9" stroke="#D48C10" stroke-width="1.4" opacity="0.60"/>
<path d="M452.1 96.2Q449.8 93.8 454.2 89.9Q456.0 85.6 454.8 80.5Q454.5 76.1 458.3 72.4Q462.0 70.3 465.8 68.2" stroke="#F5B824" stroke-width="0.6" opacity="0.91"/>
<path d="M424.9 112.5Q421.3 113.6 417.7 114.5Q414.3 115.5 411.3 111.3Q408.2 109.9 405.2 113.9Q401.7 114.1 398.8 116.7" stroke="#EDA81C" stroke-width="0.9" opacity="0.99"/>
<path d="M475.8 99.8Q471.2 98.2 466.4 102.2Q462.5 105.8 456.8 97.7Q451.6 96.7 448.2 91.6Q445.2 90.4 441.9 89.9" stroke="#D48C10" stroke-width="0.6" opacity="0.77"/>
<path d="M443.9 90.2Q440.2 91.0 443.3 97.7Q444.2 101.1 443.4 104.7Q445.8 110.1 446.1 116.3Q449.9 120.6 454.6 124.1" stroke="#EDA81C" stroke-width="0.9" opacity="0.76"/>
<path d="M424.0 105.8Q421.3 103.6 420.6 99.7Q419.0 96.0 413.9 95.3Q411.1 92.3 407.7 90.0Q404.8 85.4 396.9 89.4" stroke="#F2B01E" stroke-width="0.75" opacity="0.71"/>
<path d="M427.5 117.1Q423.3 113.1 428.9 105.6Q427.5 101.0 424.9 97.0Q424.0 90.7 412.9 93.1Q406.7 94.0 401.5 98.1" stroke="#E09A14" stroke-width="0.75" opacity="0.61"/>
<path d="M449.7 89.8Q443.8 91.7 437.5 91.6Q433.7 90.6 431.5 96.7Q427.0 99.5 420.9 95.7" stroke="#F2B01E" stroke-width="0.9" opacity="0.95"/>
<path d="M477.7 116.7Q471.9 118.6 465.5 115.6Q461.3 112.7 455.6 113.1Q452.0 113.3 448.5 112.6Q443.4 111.5 438.8 116.2" stroke="#F9CA3A" stroke-width="1.1" opacity="0.89"/>
<path d="M439.9 113.7Q441.8 110.0 440.0 105.5Q441.7 101.0 437.8 96.2" stroke="#E09A14" stroke-width="0.6" opacity="0.60"/>
<path d="M432.4 96.3Q430.7 93.5 430.0 90.1Q430.8 86.0 428.7 81.8" stroke="#F2B01E" stroke-width="0.9" opacity="0.88"/>
<path d="M470.4 88.7Q471.7 93.9 470.5 99.3Q470.4 103.1 473.8 106.1Q476.5 111.9 485.0 112.5Q489.3 112.3 493.7 111.9" stroke="#E09A14" stroke-width="0.9" opacity="0.75"/>
<path d="M444.4 114.0Q442.5 120.0 449.0 125.6Q451.9 130.3 450.4 136.5" stroke="#F5B824" stroke-width="0.75" opacity="0.51"/>
<path d="M404.9 98.3Q409.2 97.3 413.4 101.3Q417.9 104.1 424.1 101.7Q428.4 100.9 431.3 106.8" stroke="#D48C10" stroke-width="0.9" opacity="0.64"/>
<path d="M430.4 92.3Q429.4 89.4 424.3 91.0Q419.0 89.9 413.5 91.2Q409.2 89.9 404.8 89.2Q401.9 88.4 399.1 86.9" stroke="#D48C10" stroke-width="0.75" opacity="0.99"/>
<path d="M441.9 85.6Q447.3 85.3 452.7 84.4Q456.1 84.7 459.1 82.3Q462.2 82.9 464.5 85.6" stroke="#F2B01E" stroke-width="1.1" opacity="0.96"/>
<path d="M454.5 93.4Q454.5 98.7 463.1 99.6Q466.6 100.1 470.0 98.2Q473.1 99.8 474.0 92.5Q476.5 89.7 480.7 89.3" stroke="#F2B01E" stroke-width="0.6" opacity="0.72"/>
<path d="M410.0 105.1Q413.1 100.0 421.7 106.4Q427.8 104.2 430.7 115.8" stroke="#EDA81C" stroke-width="0.6" opacity="0.86"/>
<path d="M469.5 112.4Q469.7 108.4 469.5 104.4Q470.7 100.0 472.1 95.7Q474.5 92.2 472.4 87.2" stroke="#F9CA3A" stroke-width="0.75" opacity="0.95"/>
<path d="M417.5 94.3Q416.3 89.3 423.0 85.7Q426.7 83.3 427.7 78.1Q428.9 75.1 425.8 71.9" stroke="#D48C10" stroke-width="0.75" opacity="0.75"/>
<circle cx="424.5" cy="95.0" r="2.0" fill="#0a0600" opacity="0.8"/>
<circle cx="425.3" cy="102.8" r="2.5" fill="#0a0600" opacity="0.8"/>
</g></g>
<text x="258" y="16.1" font-size="10" fill="#111" font-weight="bold">LifeAct-mVenus</text>
<text x="258" y="53.5" font-size="10.2" fill="#B8923E" font-weight="bold">LifeAct-mGold2s</text>
<text x="258" y="87.7" font-size="10.2" fill="#E04A32" font-weight="bold">LifeAct-mGold2t</text>
<rect x="259" y="20.3" width="27.1" height="7" fill="#e9dfdf"/>
<text x="262.3" y="26.6" font-size="8.3" fill="#111">0 min</text>
<text x="335.3" y="26.9" font-size="8.3" fill="#fff">0.75 min</text>
<text x="407.9" y="26.9" font-size="8.3" fill="#fff">1.5 min</text>
<text x="472" y="34.4" font-size="8.5" fill="#fff" text-anchor="end">5 µm</text>
<rect x="433.4" y="37.2" width="38.9" height="1.6" fill="#fff"/>
<text x="472" y="71.1" font-size="8.5" fill="#fff" text-anchor="end">5 µm</text>
<rect x="433.4" y="73.9" width="38.9" height="1.6" fill="#fff"/>
<text x="472" y="105.9" font-size="8.5" fill="#fff" text-anchor="end">5 µm</text>
<rect x="433.4" y="109.0" width="38.9" height="1.6" fill="#fff"/>
<path d="M320.9 119.3L323.0 121.8L325.1 124.2L327.1 126.4L329.2 128.6L331.3 130.6L333.4 132.6L335.5 134.4L337.6 136.2L339.6 137.9L341.7 139.5L343.8 141.1L345.9 142.5L348.0 143.9L350.0 145.3L352.1 146.5L354.2 147.8L356.3 148.9L358.4 150.0L360.5 151.1L362.5 152.1L364.6 153.0L366.7 153.9L368.8 154.8L370.9 155.6L372.9 156.4L375.0 157.2L377.1 157.9L379.2 158.6L381.3 159.2L383.4 159.8L385.4 160.4L387.5 161.0L389.6 161.5L391.7 162.0L393.8 162.5L395.8 163.0L397.9 163.4L400.0 163.9L402.1 164.3L404.2 164.6L406.2 165.0L408.3 165.4L410.4 165.7L412.5 166.0L414.6 166.3L416.7 166.6L418.7 166.9L420.8 167.1L422.9 167.4L425.0 167.6L427.1 167.9L429.1 168.1L431.2 168.3L433.3 168.5L435.4 168.7L437.5 168.8L439.6 169.0L441.6 169.2L443.7 169.3L445.8 169.5L445.8 175.3L443.7 175.1L441.6 175.0L439.6 174.8L437.5 174.6L435.4 174.5L433.3 174.3L431.2 174.1L429.1 173.9L427.1 173.7L425.0 173.4L422.9 173.2L420.8 172.9L418.7 172.7L416.7 172.4L414.6 172.1L412.5 171.8L410.4 171.5L408.3 171.2L406.2 170.8L404.2 170.4L402.1 170.1L400.0 169.7L397.9 169.2L395.8 168.8L393.8 168.3L391.7 167.8L389.6 167.3L387.5 166.8L385.4 166.2L383.4 165.6L381.3 165.0L379.2 164.4L377.1 163.7L375.0 163.0L372.9 162.2L370.9 161.4L368.8 160.6L366.7 159.7L364.6 158.8L362.5 157.9L360.5 156.9L358.4 155.8L356.3 154.7L354.2 153.6L352.1 152.3L350.0 151.1L348.0 149.7L345.9 148.3L343.8 146.9L341.7 145.3L339.6 143.7L337.6 142.0L335.5 140.2L333.4 138.4L331.3 136.4L329.2 134.4L327.1 132.2L325.1 130.0L323.0 127.6L320.9 125.1Z" fill="#d6dada"/>
<path d="M320.9 122.2L323.0 124.7L325.1 127.1L327.1 129.3L329.2 131.5L331.3 133.5L333.4 135.5L335.5 137.3L337.6 139.1L339.6 140.8L341.7 142.4L343.8 144.0L345.9 145.4L348.0 146.8L350.0 148.2L352.1 149.4L354.2 150.7L356.3 151.8L358.4 152.9L360.5 154.0L362.5 155.0L364.6 155.9L366.7 156.8L368.8 157.7L370.9 158.5L372.9 159.3L375.0 160.1L377.1 160.8L379.2 161.5L381.3 162.1L383.4 162.7L385.4 163.3L387.5 163.9L389.6 164.4L391.7 164.9L393.8 165.4L395.8 165.9L397.9 166.3L400.0 166.8L402.1 167.2L404.2 167.5L406.2 167.9L408.3 168.3L410.4 168.6L412.5 168.9L414.6 169.2L416.7 169.5L418.7 169.8L420.8 170.0L422.9 170.3L425.0 170.5L427.1 170.8L429.1 171.0L431.2 171.2L433.3 171.4L435.4 171.6L437.5 171.7L439.6 171.9L441.6 172.1L443.7 172.2L445.8 172.4" fill="none" stroke="#7a7e7e" stroke-width="2.8" stroke-dasharray="6.4 4"/>
<path d="M320.9 123.7L322.3 124.2L323.7 124.2L325.1 124.6L326.5 124.8L327.8 124.5L329.2 124.6L330.6 125.4L332.0 125.1L333.4 125.2L334.8 125.9L336.2 125.7L337.6 126.1L338.9 125.9L340.3 126.2L341.7 125.9L343.1 126.5L344.5 126.8L345.9 126.6L347.3 126.9L348.7 127.0L350.0 126.6L351.4 127.3L352.8 127.3L354.2 127.2L355.6 127.1L357.0 127.9L358.4 127.7L359.8 128.0L361.1 128.3L362.5 128.3L363.9 128.5L365.3 128.2L366.7 128.7L368.1 128.5L369.5 129.0L370.9 129.1L372.2 128.6L373.6 128.7L375.0 128.9L376.4 129.6L377.8 129.3L379.2 129.6L380.6 129.4L382.0 129.7L383.4 129.7L384.7 129.8L386.1 130.1L387.5 130.2L388.9 130.6L390.3 130.5L391.7 130.8L393.1 130.9L394.5 131.1L395.8 130.9L397.2 130.6L398.6 131.3L400.0 131.5L401.4 131.5L402.8 131.4L404.2 131.6L405.6 131.3L406.9 131.9L408.3 131.8L409.7 131.7L411.1 131.6L412.5 132.4L413.9 132.6L415.3 132.0L416.7 132.6L418.0 132.4L419.4 132.3L420.8 132.5L422.2 133.0L423.6 133.2L425.0 132.6L426.4 133.2L427.8 132.9L429.1 133.5L430.5 133.3L431.9 133.8L433.3 134.0L434.7 133.7L436.1 134.2L437.5 133.8L438.9 133.7L440.2 134.2L441.6 133.9L443.0 134.1L444.4 134.4L445.8 134.6" fill="none" stroke="#E3AE3A" stroke-width="2.6"/>
<path d="M320.9 121.9L322.3 122.0L323.7 122.9L325.1 122.5L326.5 123.2L327.8 123.3L329.2 123.0L330.6 123.2L332.0 123.4L333.4 123.6L334.8 123.7L336.2 123.8L337.6 124.0L338.9 124.4L340.3 124.2L341.7 124.2L343.1 124.6L344.5 124.3L345.9 124.5L347.3 125.2L348.7 124.9L350.0 125.0L351.4 124.7L352.8 125.2L354.2 125.4L355.6 125.0L357.0 125.7L358.4 125.8L359.8 125.4L361.1 126.1L362.5 126.0L363.9 126.3L365.3 126.2L366.7 126.6L368.1 126.7L369.5 126.2L370.9 126.4L372.2 127.0L373.6 127.4L375.0 126.9L376.4 127.2L377.8 127.4L379.2 127.3L380.6 127.4L382.0 127.5L383.4 127.6L384.7 128.0L386.1 127.8L387.5 128.0L388.9 128.4L390.3 127.9L391.7 128.5L393.1 128.7L394.5 128.5L395.8 128.5L397.2 129.1L398.6 128.7L400.0 128.8L401.4 129.1L402.8 129.5L404.2 129.0L405.6 129.3L406.9 129.5L408.3 130.0L409.7 129.8L411.1 130.3L412.5 129.7L413.9 130.0L415.3 130.4L416.7 130.7L418.0 130.4L419.4 130.3L420.8 130.3L422.2 130.8L423.6 130.6L425.0 131.3L426.4 131.4L427.8 130.9L429.1 131.1L430.5 131.7L431.9 131.7L433.3 131.9L434.7 131.6L436.1 131.5L437.5 131.8L438.9 132.3L440.2 132.0L441.6 132.1L443.0 132.3L444.4 132.4L445.8 132.5" fill="none" stroke="#E04A32" stroke-width="2.8"/>
<path d="M315.4 122.2H320.9V193.7 M315.4 155.2H320.9 M315.4 188.7H445.8V193.7 M383.6 188.7V193.7" fill="none" stroke="#333" stroke-width="1.1"/>
<text x="313.2" y="125.8" font-size="10" fill="#222" text-anchor="end">1.0</text>
<text x="313.2" y="158.8" font-size="10" fill="#222" text-anchor="end">0.5</text>
<text x="313.2" y="192.3" font-size="10" fill="#222" text-anchor="end">0.0</text>
<text x="261.3" y="204.1" font-size="9.9" fill="#111">Time (min)</text>
<text x="261.3" y="214.6" font-size="9.9" fill="#858b96">Frames</text>
<text x="320.6" y="204.1" font-size="10" fill="#111" text-anchor="middle">0</text>
<text x="320.6" y="214.6" font-size="9.9" fill="#9a9ea4" text-anchor="middle">1</text>
<text x="384.1" y="204.1" font-size="10" fill="#111" text-anchor="middle">0.75</text>
<text x="384.1" y="214.6" font-size="9.9" fill="#9a9ea4" text-anchor="middle">4500</text>
<text x="445.5" y="204.1" font-size="10" fill="#111" text-anchor="middle">1.5</text>
<text x="445.5" y="214.6" font-size="9.9" fill="#9a9ea4" text-anchor="middle">9000</text>
<text x="281.3" y="156.5" font-size="8.7" fill="#222" text-anchor="middle" transform="rotate(-90 281.3 156.5)">Fluorescence,</text>
<text x="289.8" y="157" font-size="8.7" fill="#222" text-anchor="middle" transform="rotate(-90 289.8 157)">normalized to max</text>
<text x="366" y="123.7" font-size="10" fill="#E04A32" font-weight="bold" transform="rotate(4 366 123.7)">LifeAct-mGold2t</text>
<text x="364" y="137.2" font-size="10" fill="#B8923E" font-weight="bold" transform="rotate(4.3 364 137.2)">LifeAct-mGold2s</text>
<text x="372.4" y="173.8" font-size="10.2" fill="#777" transform="rotate(6.1 372.4 173.8)">LifeAct-mVenus</text>
<text x="492.6" y="15.9" font-size="10.3" fill="#B8923E" font-weight="bold">LifeAct-mGold2s</text>
<defs>
<filter id="web0" x="0" y="0" width="100%" height="100%" color-interpolation-filters="sRGB">
<feTurbulence type="turbulence" baseFrequency="0.13" numOctaves="2" seed="11" result="t"/>
<feColorMatrix in="t" type="matrix" values="0 0 0 0 0  0 0 0 0 0  0 0 0 0 0  2.6 0 0 0 -0.2" result="a"/>
<feComponentTransfer in="a"><feFuncR type="table" tableValues="0.40 0.40"/><feFuncG type="table" tableValues="0.35 0.35"/><feFuncB type="table" tableValues="0.73 0.73"/><feFuncA type="table" tableValues="1 0.8 0.45 0.15 0 0"/></feComponentTransfer>
<feGaussianBlur stdDeviation="0.6"/>
</filter>
<filter id="web1" x="0" y="0" width="100%" height="100%" color-interpolation-filters="sRGB">
<feTurbulence type="turbulence" baseFrequency="0.13" numOctaves="2" seed="18" result="t"/>
<feColorMatrix in="t" type="matrix" values="0 0 0 0 0  0 0 0 0 0  0 0 0 0 0  2.6 0 0 0 -0.2" result="a"/>
<feComponentTransfer in="a"><feFuncR type="table" tableValues="0.40 0.40"/><feFuncG type="table" tableValues="0.35 0.35"/><feFuncB type="table" tableValues="0.73 0.73"/><feFuncA type="table" tableValues="1 0.8 0.45 0.15 0 0"/></feComponentTransfer>
<feGaussianBlur stdDeviation="0.6"/>
</filter>
<filter id="web2" x="0" y="0" width="100%" height="100%" color-interpolation-filters="sRGB">
<feTurbulence type="turbulence" baseFrequency="0.13" numOctaves="2" seed="25" result="t"/>
<feColorMatrix in="t" type="matrix" values="0 0 0 0 0  0 0 0 0 0  0 0 0 0 0  2.6 0 0 0 -0.2" result="a"/>
<feComponentTransfer in="a"><feFuncR type="table" tableValues="0.40 0.40"/><feFuncG type="table" tableValues="0.35 0.35"/><feFuncB type="table" tableValues="0.73 0.73"/><feFuncA type="table" tableValues="1 0.8 0.45 0.15 0 0"/></feComponentTransfer>
<feGaussianBlur stdDeviation="0.6"/>
</filter>
<filter id="web3" x="0" y="0" width="100%" height="100%" color-interpolation-filters="sRGB">
<feTurbulence type="turbulence" baseFrequency="0.13" numOctaves="2" seed="32" result="t"/>
<feColorMatrix in="t" type="matrix" values="0 0 0 0 0  0 0 0 0 0  0 0 0 0 0  2.6 0 0 0 -0.2" result="a"/>
<feComponentTransfer in="a"><feFuncR type="table" tableValues="0.40 0.40"/><feFuncG type="table" tableValues="0.35 0.35"/><feFuncB type="table" tableValues="0.73 0.73"/><feFuncA type="table" tableValues="1 0.8 0.45 0.15 0 0"/></feComponentTransfer>
<feGaussianBlur stdDeviation="0.6"/>
</filter>
<filter id="web4" x="0" y="0" width="100%" height="100%" color-interpolation-filters="sRGB">
<feTurbulence type="turbulence" baseFrequency="0.13" numOctaves="2" seed="39" result="t"/>
<feColorMatrix in="t" type="matrix" values="0 0 0 0 0  0 0 0 0 0  0 0 0 0 0  2.6 0 0 0 -0.2" result="a"/>
<feComponentTransfer in="a"><feFuncR type="table" tableValues="0.40 0.40"/><feFuncG type="table" tableValues="0.35 0.35"/><feFuncB type="table" tableValues="0.73 0.73"/><feFuncA type="table" tableValues="1 0.8 0.45 0.15 0 0"/></feComponentTransfer>
<feGaussianBlur stdDeviation="0.6"/>
</filter>
<filter id="web5" x="0" y="0" width="100%" height="100%" color-interpolation-filters="sRGB">
<feTurbulence type="turbulence" baseFrequency="0.13" numOctaves="2" seed="46" result="t"/>
<feColorMatrix in="t" type="matrix" values="0 0 0 0 0  0 0 0 0 0  0 0 0 0 0  2.6 0 0 0 -0.2" result="a"/>
<feComponentTransfer in="a"><feFuncR type="table" tableValues="0.40 0.40"/><feFuncG type="table" tableValues="0.35 0.35"/><feFuncB type="table" tableValues="0.73 0.73"/><feFuncA type="table" tableValues="1 0.8 0.45 0.15 0 0"/></feComponentTransfer>
<feGaussianBlur stdDeviation="0.6"/>
</filter>
<filter id="web6" x="0" y="0" width="100%" height="100%" color-interpolation-filters="sRGB">
<feTurbulence type="turbulence" baseFrequency="0.13" numOctaves="2" seed="53" result="t"/>
<feColorMatrix in="t" type="matrix" values="0 0 0 0 0  0 0 0 0 0  0 0 0 0 0  2.6 0 0 0 -0.2" result="a"/>
<feComponentTransfer in="a"><feFuncR type="table" tableValues="0.40 0.40"/><feFuncG type="table" tableValues="0.35 0.35"/><feFuncB type="table" tableValues="0.73 0.73"/><feFuncA type="table" tableValues="1 0.8 0.45 0.15 0 0"/></feComponentTransfer>
<feGaussianBlur stdDeviation="0.6"/>
</filter>
<filter id="web7" x="0" y="0" width="100%" height="100%" color-interpolation-filters="sRGB">
<feTurbulence type="turbulence" baseFrequency="0.13" numOctaves="2" seed="60" result="t"/>
<feColorMatrix in="t" type="matrix" values="0 0 0 0 0  0 0 0 0 0  0 0 0 0 0  2.6 0 0 0 -0.2" result="a"/>
<feComponentTransfer in="a"><feFuncR type="table" tableValues="0.40 0.40"/><feFuncG type="table" tableValues="0.35 0.35"/><feFuncB type="table" tableValues="0.73 0.73"/><feFuncA type="table" tableValues="1 0.8 0.45 0.15 0 0"/></feComponentTransfer>
<feGaussianBlur stdDeviation="0.6"/>
</filter>
<filter id="b1" x="-50%" y="-50%" width="200%" height="200%"><feGaussianBlur stdDeviation="0.9"/></filter>
<filter id="b2" x="-50%" y="-50%" width="200%" height="200%"><feGaussianBlur stdDeviation="1.6"/></filter>
<filter id="b05" x="-50%" y="-50%" width="200%" height="200%"><feGaussianBlur stdDeviation="0.5"/></filter>
<filter id="b03" x="-50%" y="-50%" width="200%" height="200%"><feGaussianBlur stdDeviation="0.3"/></filter>
<linearGradient id="cmr" x1="0" y1="1" x2="0" y2="0">
<stop offset="0" stop-color="#10102a"/><stop offset="0.04" stop-color="#15153a"/><stop offset="0.2" stop-color="#38308a"/><stop offset="0.32" stop-color="#6a3a90"/><stop offset="0.45" stop-color="#c04060"/><stop offset="0.58" stop-color="#f08020"/><stop offset="0.75" stop-color="#f8d020"/><stop offset="0.86" stop-color="#fbeea0"/><stop offset="1" stop-color="#ffffff"/>
</linearGradient>
</defs>
<svg x="493.2" y="22.3" width="40.8" height="40.6" viewBox="0 0 40.8 40.6">
<rect width="40.8" height="40.6" fill="#211e58"/>
<rect width="40.8" height="40.6" filter="url(#web0)"/>
<path d="M20.3 20.5l-0.7 2.6" stroke="#b03088" stroke-width="1.5" stroke-linecap="round" filter="url(#b1)" opacity="0.85"/>
<path d="M19.4 37.9l1.7 2.4" stroke="#b03088" stroke-width="1.5" stroke-linecap="round" filter="url(#b1)" opacity="0.85"/>
<path d="M26.9 16.1l2.2 3.9" stroke="#b03088" stroke-width="1.5" stroke-linecap="round" filter="url(#b1)" opacity="0.85"/>
<path d="M16 0 C17 4 19 7 19.5 9.5" fill="none" stroke="#b02878" stroke-width="1" stroke-linecap="round" filter="url(#b05)" opacity="0.85"/>
<circle cx="8.3" cy="9.6" r="6.3" fill="#000"/>
<text x="8.3" y="13.7" font-size="11.5" fill="#fff" text-anchor="middle">1</text>
<text x="36.5" y="33.9" font-size="8.5" fill="#fff" text-anchor="end">1 µm</text>
<rect x="10.6" y="37.3" width="27.4" height="1.6" fill="#fff"/>
</svg>
<svg x="535.7" y="22.3" width="40.8" height="40.6" viewBox="0 0 40.8 40.6">
<rect width="40.8" height="40.6" fill="#211e58"/>
<rect width="40.8" height="40.6" filter="url(#web1)"/>
<path d="M11.0 26.4l2.2 3.9" stroke="#b03088" stroke-width="1.5" stroke-linecap="round" filter="url(#b1)" opacity="0.85"/>
<path d="M10.5 27.6l-2.1 2.4" stroke="#b03088" stroke-width="1.5" stroke-linecap="round" filter="url(#b1)" opacity="0.85"/>
<path d="M37.6 32.0l-0.4 3.9" stroke="#b03088" stroke-width="1.5" stroke-linecap="round" filter="url(#b1)" opacity="0.85"/>
<ellipse cx="35.2" cy="32.2" rx="1.7" ry="2.5" fill="#d02860" filter="url(#b05)" transform="rotate(-25 35.2 32.2)"/><circle cx="35.2" cy="32.2" r="0.8" fill="#f07030" filter="url(#b03)"/>
<path d="M16.5 0 C18 7 14.5 13 15.5 20 C16 26 19 30 20 34" fill="none" stroke="#b02878" stroke-width="1" stroke-linecap="round" filter="url(#b05)" opacity="0.85"/>
<ellipse cx="19.5" cy="20.4" rx="2.4" ry="2.1" fill="#c02c6c" filter="url(#b05)" transform="rotate(30 19.5 20.4)"/>
<ellipse cx="19.5" cy="20.4" rx="1.4" ry="1.1" fill="#f0641a" filter="url(#b03)" transform="rotate(30 19.5 20.4)"/>
<path d="M36.1 5.0L28.1 12.5" stroke="#fff" stroke-width="1.4"/>
<path d="M23.6 16.6L30.5 14.3L26.4 9.9Z" fill="#fff"/>
<circle cx="8.3" cy="9.6" r="6.3" fill="#000"/>
<text x="8.3" y="13.7" font-size="11.5" fill="#fff" text-anchor="middle">2</text>
</svg>
<svg x="578.3" y="22.3" width="40.8" height="40.6" viewBox="0 0 40.8 40.6">
<rect width="40.8" height="40.6" fill="#211e58"/>
<rect width="40.8" height="40.6" filter="url(#web2)"/>
<path d="M38.0 15.3l-1.3 3.2" stroke="#b03088" stroke-width="1.5" stroke-linecap="round" filter="url(#b1)" opacity="0.85"/>
<path d="M36.7 24.0l-1.6 1.9" stroke="#b03088" stroke-width="1.5" stroke-linecap="round" filter="url(#b1)" opacity="0.85"/>
<path d="M38.6 24.2l1.4 2.7" stroke="#b03088" stroke-width="1.5" stroke-linecap="round" filter="url(#b1)" opacity="0.85"/>
<ellipse cx="35.2" cy="32.2" rx="1.7" ry="2.5" fill="#d02860" filter="url(#b05)" transform="rotate(-25 35.2 32.2)"/><circle cx="35.2" cy="32.2" r="0.8" fill="#f07030" filter="url(#b03)"/>
<path d="M16.5 0 C18 7 14.5 13 15.5 20 C16 26 19 30 20 34" fill="none" stroke="#b02878" stroke-width="1" stroke-linecap="round" filter="url(#b05)" opacity="0.85"/>
<ellipse cx="20.4" cy="20.7" rx="3.3" ry="3.0" fill="#c02c6c" filter="url(#b05)" transform="rotate(30 20.4 20.7)"/>
<ellipse cx="20.4" cy="20.7" rx="2.3" ry="2.0" fill="#f0641a" filter="url(#b03)" transform="rotate(30 20.4 20.7)"/>
<ellipse cx="20.4" cy="20.7" rx="1.2" ry="1.0" fill="#ffd23a" filter="url(#b03)"/>
<path d="M36.5 5.0L28.6 12.7" stroke="#fff" stroke-width="1.4"/>
<path d="M24.2 16.9L31.0 14.5L26.9 10.2Z" fill="#fff"/>
<circle cx="8.3" cy="9.6" r="6.3" fill="#000"/>
<text x="8.3" y="13.7" font-size="11.5" fill="#fff" text-anchor="middle">3</text>
</svg>
<svg x="620.8" y="22.3" width="40.8" height="40.6" viewBox="0 0 40.8 40.6">
<rect width="40.8" height="40.6" fill="#211e58"/>
<rect width="40.8" height="40.6" filter="url(#web3)"/>
<path d="M24.7 35.9l0.2 4.1" stroke="#b03088" stroke-width="1.5" stroke-linecap="round" filter="url(#b1)" opacity="0.85"/>
<path d="M36.5 26.8l-1.6 3.8" stroke="#b03088" stroke-width="1.5" stroke-linecap="round" filter="url(#b1)" opacity="0.85"/>
<path d="M33.6 14.9l2.4 4.4" stroke="#b03088" stroke-width="1.5" stroke-linecap="round" filter="url(#b1)" opacity="0.85"/>
<ellipse cx="35.2" cy="32.2" rx="1.7" ry="2.5" fill="#d02860" filter="url(#b05)" transform="rotate(-25 35.2 32.2)"/><circle cx="35.2" cy="32.2" r="0.8" fill="#f07030" filter="url(#b03)"/>
<path d="M16.5 0 C18 7 14.5 13 15.5 20 C16 26 19 30 20 34" fill="none" stroke="#b02878" stroke-width="1" stroke-linecap="round" filter="url(#b05)" opacity="0.85"/>
<ellipse cx="20.5" cy="21" rx="3.4" ry="3.1" fill="#c02c6c" filter="url(#b05)" transform="rotate(30 20.5 21)"/>
<ellipse cx="20.5" cy="21" rx="2.4" ry="2.1" fill="#f0641a" filter="url(#b03)" transform="rotate(30 20.5 21)"/>
<ellipse cx="20.5" cy="21" rx="1.3" ry="1.1" fill="#ffd23a" filter="url(#b03)"/>
<circle cx="20.5" cy="21" r="0.6" fill="#fffbd0" filter="url(#b03)"/>
<path d="M36.5 5.0L28.6 12.7" stroke="#fff" stroke-width="1.4"/>
<path d="M24.2 16.9L31.0 14.5L26.9 10.2Z" fill="#fff"/>
<circle cx="8.3" cy="9.6" r="6.3" fill="#000"/>
<text x="8.3" y="13.7" font-size="11.5" fill="#fff" text-anchor="middle">4</text>
</svg>
<svg x="493.2" y="67" width="40.8" height="40.6" viewBox="0 0 40.8 40.6">
<rect width="40.8" height="40.6" fill="#211e58"/>
<rect width="40.8" height="40.6" filter="url(#web4)"/>
<path d="M35.6 17.4l-0.4 3.4" stroke="#b03088" stroke-width="1.5" stroke-linecap="round" filter="url(#b1)" opacity="0.85"/>
<path d="M37.3 23.4l0.2 3.7" stroke="#b03088" stroke-width="1.5" stroke-linecap="round" filter="url(#b1)" opacity="0.85"/>
<path d="M16.1 36.4l-2.5 3.4" stroke="#b03088" stroke-width="1.5" stroke-linecap="round" filter="url(#b1)" opacity="0.85"/>
<ellipse cx="35.2" cy="32.2" rx="1.7" ry="2.5" fill="#d02860" filter="url(#b05)" transform="rotate(-25 35.2 32.2)"/><circle cx="35.2" cy="32.2" r="0.8" fill="#f07030" filter="url(#b03)"/>
<path d="M16.5 0 C18 7 14.5 13 15.5 20 C16 26 19 30 20 34" fill="none" stroke="#b02878" stroke-width="1" stroke-linecap="round" filter="url(#b05)" opacity="0.85"/>
<ellipse cx="19.8" cy="21.8" rx="3.4" ry="3.1" fill="#c02c6c" filter="url(#b05)" transform="rotate(30 19.8 21.8)"/>
<ellipse cx="19.8" cy="21.8" rx="2.4" ry="2.1" fill="#f0641a" filter="url(#b03)" transform="rotate(30 19.8 21.8)"/>
<ellipse cx="19.8" cy="21.8" rx="1.3" ry="1.1" fill="#ffd23a" filter="url(#b03)"/>
<path d="M37.0 5.8L28.2 13.6" stroke="#fff" stroke-width="1.4"/>
<path d="M23.6 17.7L30.5 15.6L26.5 11.1Z" fill="#fff"/>
<circle cx="8.3" cy="9.6" r="6.3" fill="#000"/>
<text x="8.3" y="13.7" font-size="11.5" fill="#fff" text-anchor="middle">5</text>
</svg>
<svg x="535.7" y="67" width="40.8" height="40.6" viewBox="0 0 40.8 40.6">
<rect width="40.8" height="40.6" fill="#211e58"/>
<rect width="40.8" height="40.6" filter="url(#web5)"/>
<path d="M5.3 37.4l2.1 3.6" stroke="#b03088" stroke-width="1.5" stroke-linecap="round" filter="url(#b1)" opacity="0.85"/>
<path d="M33.0 32.4l0.9 2.9" stroke="#b03088" stroke-width="1.5" stroke-linecap="round" filter="url(#b1)" opacity="0.85"/>
<path d="M28.6 37.8l-1.0 3.5" stroke="#b03088" stroke-width="1.5" stroke-linecap="round" filter="url(#b1)" opacity="0.85"/>
<ellipse cx="35.2" cy="32.2" rx="1.7" ry="2.5" fill="#d02860" filter="url(#b05)" transform="rotate(-25 35.2 32.2)"/><circle cx="35.2" cy="32.2" r="0.8" fill="#f07030" filter="url(#b03)"/>
<path d="M16.5 0 C18 7 14.5 13 15.5 20 C16 26 19 30 20 34" fill="none" stroke="#b02878" stroke-width="1" stroke-linecap="round" filter="url(#b05)" opacity="0.85"/>
<ellipse cx="19.5" cy="22.5" rx="3.9" ry="3.6" fill="#c02c6c" filter="url(#b05)" transform="rotate(30 19.5 22.5)"/>
<ellipse cx="19.5" cy="22.5" rx="2.9" ry="2.6" fill="#f0641a" filter="url(#b03)" transform="rotate(30 19.5 22.5)"/>
<ellipse cx="19.5" cy="22.5" rx="1.8" ry="1.6" fill="#ffd23a" filter="url(#b03)"/>
<circle cx="19.5" cy="22.5" r="1.1" fill="#fffbd0" filter="url(#b03)"/>
<path d="M37.0 5.8L28.2 13.6" stroke="#fff" stroke-width="1.4"/>
<path d="M23.6 17.7L30.5 15.6L26.5 11.1Z" fill="#fff"/>
<circle cx="8.3" cy="9.6" r="6.3" fill="#000"/>
<text x="8.3" y="13.7" font-size="11.5" fill="#fff" text-anchor="middle">6</text>
</svg>
<svg x="578.3" y="67" width="40.8" height="40.6" viewBox="0 0 40.8 40.6">
<rect width="40.8" height="40.6" fill="#211e58"/>
<rect width="40.8" height="40.6" filter="url(#web6)"/>
<path d="M37.5 27.8l0.0 3.6" stroke="#b03088" stroke-width="1.5" stroke-linecap="round" filter="url(#b1)" opacity="0.85"/>
<path d="M30.2 38.3l0.3 2.7" stroke="#b03088" stroke-width="1.5" stroke-linecap="round" filter="url(#b1)" opacity="0.85"/>
<path d="M15.8 15.7l-1.3 4.8" stroke="#b03088" stroke-width="1.5" stroke-linecap="round" filter="url(#b1)" opacity="0.85"/>
<ellipse cx="35.2" cy="32.2" rx="1.7" ry="2.5" fill="#d02860" filter="url(#b05)" transform="rotate(-25 35.2 32.2)"/><circle cx="35.2" cy="32.2" r="0.8" fill="#f07030" filter="url(#b03)"/>
<path d="M16.5 0 C18 7 14.5 13 15.5 20 C16 26 19 30 20 34" fill="none" stroke="#b02878" stroke-width="1" stroke-linecap="round" filter="url(#b05)" opacity="0.85"/>
<ellipse cx="18.8" cy="24" rx="3.2" ry="2.9" fill="#c02c6c" filter="url(#b05)" transform="rotate(30 18.8 24)"/>
<ellipse cx="18.8" cy="24" rx="2.2" ry="1.9" fill="#f0641a" filter="url(#b03)" transform="rotate(30 18.8 24)"/>
<ellipse cx="18.8" cy="24" rx="1.1" ry="0.9" fill="#ffd23a" filter="url(#b03)"/>
<path d="M35.0 6.5L26.3 15.0" stroke="#fff" stroke-width="1.4"/>
<path d="M21.9 19.3L28.7 16.8L24.5 12.5Z" fill="#fff"/>
<circle cx="8.3" cy="9.6" r="6.3" fill="#000"/>
<text x="8.3" y="13.7" font-size="11.5" fill="#fff" text-anchor="middle">7</text>
</svg>
<svg x="620.8" y="67" width="40.8" height="40.6" viewBox="0 0 40.8 40.6">
<rect width="40.8" height="40.6" fill="#211e58"/>
<rect width="40.8" height="40.6" filter="url(#web7)"/>
<path d="M3.6 28.5l2.4 2.6" stroke="#b03088" stroke-width="1.5" stroke-linecap="round" filter="url(#b1)" opacity="0.85"/>
<path d="M37.9 21.1l-2.8 2.8" stroke="#b03088" stroke-width="1.5" stroke-linecap="round" filter="url(#b1)" opacity="0.85"/>
<path d="M34.5 14.5l-1.4 3.3" stroke="#b03088" stroke-width="1.5" stroke-linecap="round" filter="url(#b1)" opacity="0.85"/>
<ellipse cx="35.2" cy="32.2" rx="1.7" ry="2.5" fill="#d02860" filter="url(#b05)" transform="rotate(-25 35.2 32.2)"/><circle cx="35.2" cy="32.2" r="0.8" fill="#f07030" filter="url(#b03)"/>
<path d="M16.5 0 C18 7 14.5 13 15.5 20 C16 26 19 30 20 34" fill="none" stroke="#b02878" stroke-width="1" stroke-linecap="round" filter="url(#b05)" opacity="0.85"/>
<ellipse cx="17.4" cy="24" rx="2.3" ry="2.0" fill="#c02c6c" filter="url(#b05)" transform="rotate(30 17.4 24)"/>
<path d="M31.5 7.4L23.7 15.6" stroke="#fff" stroke-width="1.4"/>
<path d="M19.5 20.0L26.2 17.3L21.9 13.2Z" fill="#fff"/>
<circle cx="8.3" cy="9.6" r="6.3" fill="#000"/>
<text x="8.3" y="13.7" font-size="11.5" fill="#fff" text-anchor="middle">8</text>
</svg>
<rect x="662.6" y="22.5" width="5.7" height="85.1" fill="url(#cmr)" stroke="#333" stroke-width="0.5"/>
<text x="670.3" y="26.4" font-size="7.2" fill="#111">600</text>
<text x="670.3" y="110.1" font-size="7.2" fill="#111">0</text>
<path d="M534.6 177.7L535.8 176.7L537.0 176.5L537.8 176.5L538.7 173.1L539.5 173.5L540.5 175.1L541.5 174.5L543.0 176.8L544.0 177.5L545.0 177.5L546.0 177.2L547.0 177.5L548.0 175.6L549.0 174.0L550.0 167.0L551.0 162.0L552.0 153.9L553.0 148.0L554.0 144.2L555.0 138.0L556.0 135.3L557.0 131.0L558.0 129.7L559.0 127.0L560.0 126.2L561.0 126.5L562.0 127.9L563.0 128.0L564.0 128.6L565.0 131.5L566.0 131.4L567.0 133.0L568.0 132.9L569.0 131.0L570.0 130.8L571.0 128.5L572.0 128.0L573.0 130.0L574.0 132.0L575.0 134.0L576.0 135.8L577.0 138.0L578.0 132.0L579.5 125.0L581.0 124.5L582.0 125.5L583.0 126.0L584.0 126.2L585.0 128.0L586.0 128.2L587.0 130.8L588.0 132.0L589.0 131.2L590.0 132.7L591.0 133.0L592.0 133.8L593.0 134.7L594.0 136.0L595.0 134.5L596.0 135.6L597.0 135.0L598.0 136.3L599.0 138.3L600.0 138.0L601.0 138.5L602.0 139.0L603.0 139.0L604.0 139.0L605.0 141.7L606.0 141.0L607.0 140.6L608.0 142.9L609.0 143.0L610.0 141.9L611.0 142.6L612.0 142.0L613.0 143.3L614.0 145.8L615.0 147.0L616.0 149.1L617.0 148.5L618.0 151.0L619.0 152.9L620.0 152.9L621.0 153.5L622.0 154.4L623.0 157.2L624.0 157.0L625.0 156.7L626.0 159.8L627.0 160.0L628.0 160.8L629.0 161.2L630.0 163.0L630.8 163.3L631.7 163.5L632.5 165.5L634.0 160.0L635.0 158.8L636.0 156.0L637.0 158.0L638.0 158.5L639.0 157.0L640.0 155.5L641.0 156.0L642.0 158.0L643.0 158.3L644.0 159.0L645.0 158.3L646.0 155.0L647.0 156.1L648.0 158.0L649.0 155.9L650.0 154.5L651.0 155.8L652.0 159.0L653.0 158.8L654.0 160.0L655.0 160.3L656.0 158.0L657.0 161.0L658.0 161.5L658.8 162.1L659.7 160.8L660.5 162.5" fill="none" stroke="#E2A93C" stroke-width="2.7" stroke-linejoin="round"/>
<path d="M529.1 122.2H534.6V194.2 M529.1 189.2H660.5V194.2 M597.7 189.2V194.2 M529.1 172.4H534.6 M529.1 155.7H534.6 M529.1 138.9H534.6" fill="none" stroke="#333" stroke-width="1.1"/>
<text x="526.8" y="192.8" font-size="10" fill="#222" text-anchor="end">0</text>
<text x="526.8" y="176.05" font-size="10" fill="#222" text-anchor="end">100</text>
<text x="526.8" y="159.3" font-size="10" fill="#222" text-anchor="end">200</text>
<text x="526.8" y="142.55" font-size="10" fill="#222" text-anchor="end">300</text>
<text x="526.8" y="125.8" font-size="10" fill="#222" text-anchor="end">400</text>
<text x="479.6" y="204.1" font-size="9.9" fill="#111">Time (min)</text>
<text x="479.6" y="214.6" font-size="9.9" fill="#858b96">Frames</text>
<text x="535.1" y="204.1" font-size="10" fill="#111" text-anchor="middle">0</text>
<text x="535.1" y="214.6" font-size="9.9" fill="#9a9ea4" text-anchor="middle">1</text>
<text x="597.9" y="204.1" font-size="10" fill="#111" text-anchor="middle">0.75</text>
<text x="597.9" y="214.6" font-size="9.9" fill="#9a9ea4" text-anchor="middle">4500</text>
<text x="660.2" y="204.1" font-size="10" fill="#111" text-anchor="middle">1.5</text>
<text x="660.2" y="214.6" font-size="9.9" fill="#9a9ea4" text-anchor="middle">9000</text>
<text x="493.7" y="150.8" font-size="8.75" fill="#222" text-anchor="middle" transform="rotate(-90 493.7 150.8)">Fluorescence</text>
<text x="503.3" y="150.6" font-size="8.75" fill="#222" text-anchor="middle" transform="rotate(-90 503.3 150.6)">(arb. unit)</text>
<circle cx="546.2" cy="177.3" r="1.4" fill="#000"/>
<text x="546.6" y="187.0" font-size="10" fill="#111" text-anchor="middle">1</text>
<circle cx="552.4" cy="154.4" r="1.4" fill="#000"/>
<text x="557" y="158.7" font-size="10" fill="#111" text-anchor="middle">2</text>
<circle cx="559.1" cy="127.1" r="1.4" fill="#000"/>
<text x="559.5" y="123.8" font-size="10" fill="#111" text-anchor="middle">3</text>
<circle cx="572" cy="128.8" r="1.4" fill="#000"/>
<text x="572" y="125.8" font-size="10" fill="#111" text-anchor="middle">4</text>
<circle cx="577.3" cy="138.9" r="1.4" fill="#000"/>
<text x="577.5" y="150.0" font-size="10" fill="#111" text-anchor="middle">5</text>
<circle cx="579.9" cy="125.3" r="1.4" fill="#000"/>
<text x="580" y="121.5" font-size="10" fill="#111" text-anchor="middle">6</text>
<circle cx="609" cy="143.9" r="1.4" fill="#000"/>
<text x="609" y="155.5" font-size="10" fill="#111" text-anchor="middle">7</text>
<circle cx="632.6" cy="167.1" r="1.4" fill="#000"/>
<text x="632.6" y="179.5" font-size="10" fill="#111" text-anchor="middle">8</text>
<text x="76" y="257.9" font-size="10" fill="#111" text-anchor="middle">Inhibitory</text>
<text x="69.6" y="268.1" font-size="10" fill="#111" text-anchor="middle">post-synapse</text>
<text x="42.5" y="292.8" font-size="10" fill="#767676">GPHN</text>
<path d="M74 290 Q80 291.5 84.5 286.5" fill="none" stroke="#111" stroke-width="1"/>
<path d="M86.8 284 l-4.6 1.2 l3 3z" fill="#111"/>
<path d="M82.3 281.8 Q95 272.5 114.4 267.8" fill="none" stroke="#111" stroke-width="1.7" stroke-linecap="round"/>
<circle cx="93.7" cy="279.20000000000005" r="3.1" fill="#c4c4c4"/>
<ellipse cx="92.9" cy="284.6" rx="2.3" ry="4.2" fill="#4a4a4a"/>
<circle cx="92.9" cy="290.6" r="2.3" fill="#E9AD3E" stroke="#555" stroke-width="0.3"/>
<ellipse cx="92.7" cy="294.40000000000003" rx="1.9" ry="1.5" fill="#6e6e6e"/>
<circle cx="92.9" cy="297.20000000000005" r="1.4" fill="#d0d0d0" stroke="#888" stroke-width="0.3"/>
<circle cx="109.8" cy="272.79999999999995" r="3.1" fill="#c4c4c4"/>
<ellipse cx="112.8" cy="276.4" rx="2.3" ry="4.2" fill="#4a4a4a"/>
<circle cx="112.8" cy="282.4" r="2.3" fill="#E9AD3E" stroke="#555" stroke-width="0.3"/>
<ellipse cx="112.6" cy="286.2" rx="1.9" ry="1.5" fill="#6e6e6e"/>
<circle cx="112.8" cy="289.0" r="1.4" fill="#d0d0d0" stroke="#888" stroke-width="0.3"/>
<ellipse cx="113.7" cy="281.8" rx="10.7" ry="11.6" fill="none" stroke="#111" stroke-width="1.4" stroke-dasharray="1.2 1.1"/>
<path d="M115 267.3 L141 245.6 M119 292.4 L150.5 297.8" fill="none" stroke="#111" stroke-width="1.4" stroke-dasharray="1.2 1.1"/>
<path d="M150.3 248 l1 -3.6 l1 3.6 M153 248 l1 -3.6 l1 3.6" stroke="#aaa" stroke-width="0.9" fill="#ddd" stroke-linejoin="round"/>
<rect x="146.2" y="247" width="12.3" height="17" rx="5.8" ry="6.5" fill="#4d4d4d"/>
<circle cx="152.8" cy="271.6" r="6.1" fill="#E9AD3E" stroke="#333" stroke-width="0.9"/>
<path d="M154.5 286 L155.5 289" stroke="#444" stroke-width="0.8"/><ellipse cx="153.2" cy="282.7" rx="5.2" ry="3.6" fill="#787a7c" stroke="#444" stroke-width="0.8"/>
<circle cx="156.1" cy="292" r="3.3" fill="#dcdcdc" stroke="#555" stroke-width="0.8"/>
<text x="162.5" y="258.7" font-size="10" fill="#707070">GPHN-FingR</text>
<text x="162.5" y="273.9" font-size="10" fill="#111" font-weight="bold">YFP</text>
<text x="162.5" y="286.3" font-size="10" fill="#707070">Zinc finger</text>
<text x="162.5" y="299.7" font-size="10" fill="#707070">KRAB(A) repressor</text>
<path d="M42.8 329.3C47.9 328.4 51.7 327.4 62.0 326.0C72.3 324.6 75.1 325.6 81.4 324.1C87.7 322.6 83.4 322.0 85.5 320.5C87.6 319.0 87.5 318.4 89.4 318.5C91.3 318.6 91.9 319.5 92.8 321.0C93.7 322.5 90.9 323.0 92.6 324.1C94.3 325.2 96.7 325.6 99.0 325.0C101.3 324.4 99.6 322.5 101.3 321.9C103.0 321.3 103.5 323.2 105.5 322.8C107.5 322.4 106.4 321.4 108.7 320.3C111.0 319.2 110.7 319.4 114.1 318.7C117.5 318.0 118.2 318.3 121.5 317.7C124.8 317.1 124.2 317.4 126.3 316.4C128.4 315.4 127.8 313.7 129.5 313.9C131.2 314.1 128.5 316.2 132.8 317.1C137.1 318.0 138.7 317.3 145.6 317.1C152.5 316.9 154.7 317.7 158.5 316.4C162.3 315.1 158.7 313.8 160.0 312.3C161.3 310.8 161.6 310.4 163.3 310.6C165.0 310.8 165.9 311.5 166.5 313.2C167.1 314.9 164.2 315.6 165.5 317.1C166.8 318.6 166.3 318.5 171.3 318.7C176.3 318.9 176.4 318.3 184.1 318.0C191.8 317.7 193.3 317.9 200.2 317.7C207.1 317.5 206.4 318.0 209.8 317.1C213.2 316.2 211.5 314.7 213.0 314.3C214.5 313.9 215.1 314.6 215.5 315.5C215.9 316.4 214.8 317.0 214.5 317.5" fill="none" stroke="#111" stroke-width="1"/>
<path d="M47.7 337.0C53.2 336.1 57.8 334.8 68.5 333.8C79.2 332.8 78.4 333.4 87.8 333.1C97.2 332.8 97.9 333.4 103.9 332.5C109.9 331.6 108.2 331.4 110.3 329.9C112.4 328.4 110.4 327.7 111.9 326.7C113.4 325.7 114.6 325.1 116.0 326.0C117.4 326.9 117.5 328.1 117.3 330.0C117.1 331.9 114.4 331.8 115.1 333.1C115.8 334.4 116.9 335.1 119.9 334.7C122.9 334.3 124.1 333.5 126.3 331.5C128.5 329.5 126.5 328.2 128.0 327.3C129.5 326.4 130.8 326.9 132.1 328.3C133.4 329.7 129.2 331.6 132.8 332.5C136.4 333.4 137.0 332.2 145.6 331.5C154.2 330.8 154.6 330.5 164.9 329.9C175.2 329.3 173.8 329.7 184.1 329.3C194.4 328.9 194.0 329.0 203.4 328.3C212.8 327.6 215.2 327.1 219.5 326.7" fill="none" stroke="#111" stroke-width="1"/>
<circle cx="62.8" cy="329" r="2" fill="#E9AD3E" stroke="#7a5a18" stroke-width="0.4"/>
<circle cx="87.8" cy="333.1" r="2" fill="#E9AD3E" stroke="#7a5a18" stroke-width="0.4"/>
<circle cx="115.1" cy="321.2" r="2" fill="#E9AD3E" stroke="#7a5a18" stroke-width="0.4"/>
<circle cx="143" cy="320.3" r="2" fill="#E9AD3E" stroke="#7a5a18" stroke-width="0.4"/>
<circle cx="164.9" cy="327.3" r="2" fill="#E9AD3E" stroke="#7a5a18" stroke-width="0.4"/>
<circle cx="180" cy="322.9" r="2" fill="#E9AD3E" stroke="#7a5a18" stroke-width="0.4"/>
<circle cx="115" cy="318.7" r="7" fill="none" stroke="#111" stroke-width="1" stroke-dasharray="1 1"/>
<path d="M83 302.6 L109.5 317.5 M127 302.6 L121.5 314.5" fill="none" stroke="#111" stroke-width="1.1" stroke-dasharray="1 1"/>
<text x="16.1" y="366.5" font-size="10" fill="#111">0 min</text>
<text x="92.6" y="365.5" font-size="10" fill="#111">514 nm at 11 µW</text>
<text x="218.2" y="366.5" font-size="10" fill="#111">30 min</text>
<path d="M28.5 369.5V374.5H236.4V369.5" fill="none" stroke="#222" stroke-width="0.9"/>
<text x="78.7" y="387.0" font-size="10" fill="#111">Number of timepoints: 180</text>
<text x="78.7" y="397.8" font-size="10" fill="#767676">Total raw frames: 3600</text>
<text x="29.4" y="400.8" font-size="10" fill="#111">For each</text>
<text x="29.4" y="410.0" font-size="10" fill="#111">time point:</text>
<path d="M29.3 425.2H56.3L41.5 452.2H13.3Z" fill="#a0a0a2" stroke="#fff" stroke-opacity="0.15" stroke-width="0.3"/>
<path d="M29.3 423.8H56.3L41.5 450.8H13.3Z" fill="#939395" stroke="#fff" stroke-opacity="0.15" stroke-width="0.3"/>
<path d="M29.3 422.4H56.3L41.5 449.4H13.3Z" fill="#878789" stroke="#fff" stroke-opacity="0.15" stroke-width="0.3"/>
<path d="M29.3 421.0H56.3L41.5 448.0H13.3Z" fill="#7a7a7c" stroke="#fff" stroke-opacity="0.15" stroke-width="0.3"/>
<path d="M29.3 419.6H56.3L41.5 446.6H13.3Z" fill="#6e6e70" stroke="#fff" stroke-opacity="0.15" stroke-width="0.3"/>
<path d="M29.3 418.2H56.3L41.5 445.2H13.3Z" fill="#616163" stroke="#fff" stroke-opacity="0.15" stroke-width="0.3"/>
<path d="M29.3 416.8H56.3L41.5 443.8H13.3Z" fill="#555557" stroke="#fff" stroke-opacity="0.15" stroke-width="0.3"/>
<path d="M29.3 415.4H56.3L41.5 442.4H13.3Z" fill="#48484a" stroke="#fff" stroke-opacity="0.15" stroke-width="0.3"/>
<path d="M29.3 414.0H56.3L41.5 441.0H13.3Z" fill="#3c3c3e" stroke="#fff" stroke-opacity="0.15" stroke-width="0.3"/>
<path d="M14.8 439.5L54.8 415" stroke="#b09a4a" stroke-width="0.5" stroke-dasharray="1 1.4"/>
<path d="M62.3 418V428.1" stroke="#111" stroke-width="1.8"/>
<path d="M57.099999999999994 421.8L62.3 415L67.5 421.8L62.3 419.8Z M57.099999999999994 424.3L62.3 431.1L67.5 424.3L62.3 426.3Z" fill="#111"/>
<text x="56.4" y="439.5" font-size="10" fill="#111">z-stack</text>
<text x="56.4" y="448.2" font-size="10" fill="#111">20 frames</text>
<path d="M85.8 429.3H110.7" stroke="#111" stroke-width="1.4"/>
<path d="M108.2 424.5L116.7 429.3L108.2 434.1L110.2 429.3Z" fill="#111"/>
<text x="120" y="424.7" font-size="10" fill="#111">Post-imaging processing:</text>
<text x="120" y="435.0" font-size="10" fill="#111">Maximum intensity projection</text>
<defs>
<filter id="rnoise" x="0" y="0" width="100%" height="100%" color-interpolation-filters="sRGB">
<feTurbulence type="fractalNoise" baseFrequency="0.85" numOctaves="2" seed="3" result="t"/>
<feColorMatrix in="t" type="matrix" values="0 0 0 0 0.85  0 0 0 0 0.04  0 0 0 0 0.06  3.2 0 0 0 -1.55"/>
</filter>
<filter id="g1" x="-20%" y="-20%" width="140%" height="140%"><feGaussianBlur stdDeviation="0.95"/></filter>
<filter id="g2" x="-20%" y="-20%" width="140%" height="140%"><feGaussianBlur stdDeviation="1.6"/></filter>
<filter id="rough" x="-5%" y="-5%" width="110%" height="110%"><feTurbulence type="fractalNoise" baseFrequency="0.35" numOctaves="2" seed="8" result="n"/><feDisplacementMap in="SourceGraphic" in2="n" scale="4.2" xChannelSelector="R" yChannelSelector="G"/></filter>
<clipPath id="cg1"><rect x="267.5" y="257" width="152.8" height="60.3"/></clipPath>
<clipPath id="cg2"><rect x="267.5" y="324.7" width="152.8" height="131"/></clipPath>
</defs>
<g clip-path="url(#cg1)">
<rect x="267.5" y="257" width="152.8" height="60.3" fill="#0a0000"/>
<rect x="267.5" y="257" width="152.8" height="60.3" filter="url(#rnoise)" opacity="0.27"/>
<g filter="url(#rough)">
<path d="M374 256 C375 270 375 290 377 318" fill="none" stroke="#b00c10" stroke-width="2.5" filter="url(#g2)" opacity="0.39"/>
<path d="M374 256 C375 270 375 290 377 318" fill="none" stroke="#b01418" stroke-width="1.4" filter="url(#g1)" opacity="0.7"/>
<path d="M385 256 C384 265 380 275 377 284" fill="none" stroke="#b00c10" stroke-width="2.3" filter="url(#g2)" opacity="0.30"/>
<path d="M385 256 C384 265 380 275 377 284" fill="none" stroke="#a01216" stroke-width="1.2" filter="url(#g1)" opacity="0.55"/>
<path d="M352 292 C356 300 359 308 360 318" fill="none" stroke="#b00c10" stroke-width="2.3" filter="url(#g2)" opacity="0.33"/>
<path d="M352 292 C356 300 359 308 360 318" fill="none" stroke="#a01216" stroke-width="1.2" filter="url(#g1)" opacity="0.6"/>
<path d="M398 284 C400 292 401 300 400 310" fill="none" stroke="#b00c10" stroke-width="2.3" filter="url(#g2)" opacity="0.28"/>
<path d="M398 284 C400 292 401 300 400 310" fill="none" stroke="#a01216" stroke-width="1.2" filter="url(#g1)" opacity="0.5"/>
<path d="M267 270 C280 272 290 271 300 273" fill="none" stroke="#b00c10" stroke-width="2.1" filter="url(#g2)" opacity="0.28"/>
<path d="M267 270 C280 272 290 271 300 273" fill="none" stroke="#801014" stroke-width="1.1" filter="url(#g1)" opacity="0.5"/>
<path d="M366 291 C380 288 395 284 405 280 C411 278 416 276 421 274" fill="none" stroke="#b00c10" stroke-width="4.6" filter="url(#g2)" opacity="0.50"/>
<path d="M366 291 C380 288 395 284 405 280 C411 278 416 276 421 274" fill="none" stroke="#e02420" stroke-width="2.5" filter="url(#g1)" opacity="0.9"/>
<path d="M266 301 C290 297 312 293.5 335 291.5 C350 290.5 358 292 366 291 C378 287 392 279 402 274 C410 270 415 266 421 262" fill="none" stroke="#b00c10" stroke-width="6.9" filter="url(#g2)" opacity="0.55"/>
<path d="M266 301 C290 297 312 293.5 335 291.5 C350 290.5 358 292 366 291 C378 287 392 279 402 274 C410 270 415 266 421 262" fill="none" stroke="#ec2c1e" stroke-width="3.8" filter="url(#g1)" opacity="1"/>
<path d="M266 301 C290 297 312 293.5 335 291.5 C350 290.5 358 292 366 291 C378 287 392 279 402 274 C410 270 415 266 421 262" fill="none" stroke="#ff6a30" stroke-width="1.2" filter="url(#g1)" opacity="0.6"/>
</g>
<circle cx="294.2" cy="297" r="1.8" fill="#f08a10" filter="url(#b05)" opacity="0.75"/>
<circle cx="294.2" cy="297" r="0.94" fill="#f2d630" filter="url(#b03)"/>
<circle cx="334" cy="291.2" r="1.8" fill="#f08a10" filter="url(#b05)" opacity="0.75"/>
<circle cx="334" cy="291.2" r="0.94" fill="#f2d630" filter="url(#b03)"/>
<circle cx="343.3" cy="292.4" r="1.8" fill="#f08a10" filter="url(#b05)" opacity="0.75"/>
<circle cx="343.3" cy="292.4" r="0.94" fill="#f2d630" filter="url(#b03)"/>
<circle cx="373.6" cy="291.2" r="1.8" fill="#f08a10" filter="url(#b05)" opacity="0.75"/>
<circle cx="373.6" cy="291.2" r="0.94" fill="#f2d630" filter="url(#b03)"/>
<circle cx="383" cy="283" r="1.8" fill="#f08a10" filter="url(#b05)" opacity="0.75"/>
<circle cx="383" cy="283" r="0.94" fill="#f2d630" filter="url(#b03)"/>
<circle cx="391.2" cy="288.4" r="1.8" fill="#f08a10" filter="url(#b05)" opacity="0.75"/>
<circle cx="391.2" cy="288.4" r="0.94" fill="#f2d630" filter="url(#b03)"/>
<circle cx="394.7" cy="279" r="1.8" fill="#f08a10" filter="url(#b05)" opacity="0.75"/>
<circle cx="394.7" cy="279" r="0.94" fill="#f2d630" filter="url(#b03)"/>
<circle cx="401.7" cy="282.6" r="1.8" fill="#f08a10" filter="url(#b05)" opacity="0.75"/>
<circle cx="401.7" cy="282.6" r="0.94" fill="#f2d630" filter="url(#b03)"/>
<circle cx="418" cy="269.5" r="1.8" fill="#f08a10" filter="url(#b05)" opacity="0.75"/>
<circle cx="418" cy="269.5" r="0.94" fill="#f2d630" filter="url(#b03)"/>
</g>
<rect x="327.3" y="284.4" width="23.5" height="13.8" fill="none" stroke="#fff" stroke-width="1.2"/>
<text x="270" y="267.9" font-size="9.9" fill="#E0AE30">GPHN-FingR-mGold2s</text>
<text x="270" y="278.2" font-size="9.9" fill="#DA6878">mRuby3 (filler)</text>
<text x="414.6" y="308.3" font-size="8.5" fill="#fff" text-anchor="end">5 µm</text>
<rect x="388.8" y="310.5" width="28.2" height="1.6" fill="#fff"/>
<g clip-path="url(#cg2)">
<rect x="267.5" y="324.7" width="152.8" height="131" fill="#0a0000"/>
<rect x="267.5" y="324.7" width="152.8" height="131" filter="url(#rnoise)" opacity="0.27"/>
<g filter="url(#rough)">
<path d="M266 408 C280 404 292 399 302 396 C315 393 326 392 336 389" fill="none" stroke="#b00c10" stroke-width="3.7" filter="url(#g2)" opacity="0.41"/>
<path d="M266 408 C280 404 292 399 302 396 C315 393 326 392 336 389" fill="none" stroke="#c01a24" stroke-width="2.0" filter="url(#g1)" opacity="0.75"/>
<path d="M311 350 C314 365 320 380 324 394 C325 402 324 410 323 416" fill="none" stroke="#b00c10" stroke-width="2.3" filter="url(#g2)" opacity="0.33"/>
<path d="M311 350 C314 365 320 380 324 394 C325 402 324 410 323 416" fill="none" stroke="#a01218" stroke-width="1.2" filter="url(#g1)" opacity="0.6"/>
<path d="M323 417 C318 430 312 445 309 457" fill="none" stroke="#b00c10" stroke-width="2.3" filter="url(#g2)" opacity="0.30"/>
<path d="M323 417 C318 430 312 445 309 457" fill="none" stroke="#a01218" stroke-width="1.2" filter="url(#g1)" opacity="0.55"/>
<path d="M367 456 C375 440 384 425 394 415 C402 413 412 415 421 415" fill="none" stroke="#b00c10" stroke-width="3.0" filter="url(#g2)" opacity="0.36"/>
<path d="M367 456 C375 440 384 425 394 415 C402 413 412 415 421 415" fill="none" stroke="#b0141c" stroke-width="1.6" filter="url(#g1)" opacity="0.65"/>
<path d="M394 415 C398 422 402 428 406 433" fill="none" stroke="#b00c10" stroke-width="2.3" filter="url(#g2)" opacity="0.28"/>
<path d="M394 415 C398 422 402 428 406 433" fill="none" stroke="#a01218" stroke-width="1.2" filter="url(#g1)" opacity="0.5"/>
<path d="M358 375 C372 374 384 372 392 371 C402 367 412 361 421 356" fill="none" stroke="#b00c10" stroke-width="2.8" filter="url(#g2)" opacity="0.33"/>
<path d="M358 375 C372 374 384 372 392 371 C402 367 412 361 421 356" fill="none" stroke="#b0141c" stroke-width="1.5" filter="url(#g1)" opacity="0.6"/>
<path d="M340 345 C345 355 350 362 352 372" fill="none" stroke="#b00c10" stroke-width="2.1" filter="url(#g2)" opacity="0.25"/>
<path d="M340 345 C345 355 350 362 352 372" fill="none" stroke="#901016" stroke-width="1.1" filter="url(#g1)" opacity="0.45"/>
<path d="M268 454 C285 442 302 430 316 421 C326 414 332 402 342 388 C352 376 362 372 371 365 C382 356 390 350 397 344 C405 337 413 331 421 324" fill="none" stroke="#b00c10" stroke-width="6.7" filter="url(#g2)" opacity="0.55"/>
<path d="M268 454 C285 442 302 430 316 421 C326 414 332 402 342 388 C352 376 362 372 371 365 C382 356 390 350 397 344 C405 337 413 331 421 324" fill="none" stroke="#e6243a" stroke-width="3.6" filter="url(#g1)" opacity="1"/>
<path d="M268 454 C285 442 302 430 316 421 C326 414 332 402 342 388 C352 376 362 372 371 365 C382 356 390 350 397 344 C405 337 413 331 421 324" fill="none" stroke="#ff6050" stroke-width="1.1" filter="url(#g1)" opacity="0.55"/>
</g>
<circle cx="412.2" cy="329" r="1.8" fill="#f08a10" filter="url(#b05)" opacity="0.75"/>
<circle cx="412.2" cy="329" r="0.94" fill="#f2d630" filter="url(#b03)"/>
<circle cx="416.9" cy="328.5" r="1.8" fill="#f08a10" filter="url(#b05)" opacity="0.75"/>
<circle cx="416.9" cy="328.5" r="0.94" fill="#f2d630" filter="url(#b03)"/>
<circle cx="402.9" cy="340.7" r="1.8" fill="#f08a10" filter="url(#b05)" opacity="0.75"/>
<circle cx="402.9" cy="340.7" r="0.94" fill="#f2d630" filter="url(#b03)"/>
<circle cx="363.1" cy="369.4" r="1.8" fill="#f08a10" filter="url(#b05)" opacity="0.75"/>
<circle cx="363.1" cy="369.4" r="0.94" fill="#f2d630" filter="url(#b03)"/>
<circle cx="378.3" cy="373.9" r="1.8" fill="#f08a10" filter="url(#b05)" opacity="0.75"/>
<circle cx="378.3" cy="373.9" r="0.94" fill="#f2d630" filter="url(#b03)"/>
<circle cx="390.7" cy="371" r="1.8" fill="#f08a10" filter="url(#b05)" opacity="0.75"/>
<circle cx="390.7" cy="371" r="0.94" fill="#f2d630" filter="url(#b03)"/>
<circle cx="335.1" cy="389.3" r="1.8" fill="#f08a10" filter="url(#b05)" opacity="0.75"/>
<circle cx="335.1" cy="389.3" r="0.94" fill="#f2d630" filter="url(#b03)"/>
<circle cx="339.3" cy="386.3" r="1.8" fill="#f08a10" filter="url(#b05)" opacity="0.75"/>
<circle cx="339.3" cy="386.3" r="0.94" fill="#f2d630" filter="url(#b03)"/>
<circle cx="327.4" cy="412.7" r="1.8" fill="#f08a10" filter="url(#b05)" opacity="0.75"/>
<circle cx="327.4" cy="412.7" r="0.94" fill="#f2d630" filter="url(#b03)"/>
<circle cx="321.1" cy="420.1" r="1.8" fill="#f08a10" filter="url(#b05)" opacity="0.75"/>
<circle cx="321.1" cy="420.1" r="0.94" fill="#f2d630" filter="url(#b03)"/>
<circle cx="314.1" cy="423" r="1.8" fill="#f08a10" filter="url(#b05)" opacity="0.75"/>
<circle cx="314.1" cy="423" r="0.94" fill="#f2d630" filter="url(#b03)"/>
<circle cx="293" cy="431.8" r="1.8" fill="#f08a10" filter="url(#b05)" opacity="0.75"/>
<circle cx="293" cy="431.8" r="0.94" fill="#f2d630" filter="url(#b03)"/>
<circle cx="294.2" cy="437.2" r="1.8" fill="#f08a10" filter="url(#b05)" opacity="0.75"/>
<circle cx="294.2" cy="437.2" r="0.94" fill="#f2d630" filter="url(#b03)"/>
<circle cx="279" cy="444.7" r="1.8" fill="#f08a10" filter="url(#b05)" opacity="0.75"/>
<circle cx="279" cy="444.7" r="0.94" fill="#f2d630" filter="url(#b03)"/>
<circle cx="282.5" cy="451.2" r="1.8" fill="#f08a10" filter="url(#b05)" opacity="0.75"/>
<circle cx="282.5" cy="451.2" r="0.94" fill="#f2d630" filter="url(#b03)"/>
</g>
<rect x="308.8" y="406.7" width="26" height="22" fill="none" stroke="#fff" stroke-width="1.2"/>
<text x="270" y="335.3" font-size="9.9" fill="#E0AE30">GPHN-FingR-mVenus</text>
<text x="270" y="346.1" font-size="9.9" fill="#DA6878">mRuby3 (filler)</text>
<text x="414.6" y="446.2" font-size="8.5" fill="#fff" text-anchor="end">5 µm</text>
<rect x="388.8" y="448.2" width="28.2" height="1.6" fill="#fff"/>
<text x="483" y="257.3" font-size="8.6" fill="#B8923E" text-anchor="end" font-weight="bold">GPHN-FingR</text>
<text x="483" y="267.4" font-size="8.6" fill="#B8923E" text-anchor="end" font-weight="bold">mGold2s</text>
<text x="483" y="293.3" font-size="8.6" fill="#111" text-anchor="end">GPHN-FingR</text>
<text x="483" y="303.1" font-size="8.6" fill="#111" text-anchor="end">mVenus</text>
<rect x="486.1" y="240.3" width="35.3" height="29.6" fill="#000"/>
<rect x="486.1" y="274.3" width="35.3" height="30" fill="#000"/>
<circle cx="496.2" cy="254.4" r="0.6" fill="#e8b428" opacity="0.90"/><circle cx="497.6" cy="254.6" r="0.6" fill="#e8b428" opacity="0.90"/><circle cx="494.8" cy="252.9" r="0.9" fill="#e8b428" opacity="0.90"/><circle cx="494.7" cy="255.7" r="0.8" fill="#e8b428" opacity="0.90"/><circle cx="496.3" cy="254.9" r="1.2" fill="#e8b428" opacity="0.90"/><circle cx="494.6" cy="255.1" r="0.6" fill="#e8b428" opacity="0.90"/><circle cx="498.5" cy="255.2" r="0.5" fill="#e8b428" opacity="0.90"/><circle cx="491.9" cy="255.8" r="1.2" fill="#e8b428" opacity="0.90"/><circle cx="496.6" cy="255.4" r="1.2" fill="#e8b428" opacity="0.90"/><circle cx="498.0" cy="256.9" r="1.3" fill="#e8b428" opacity="0.90"/><circle cx="495.9" cy="255.5" r="1.0" fill="#e8b428" opacity="0.90"/><circle cx="495.8" cy="252.1" r="1.2" fill="#e8b428" opacity="0.90"/><circle cx="496.3" cy="253.3" r="1.0" fill="#e8b428" opacity="0.90"/><circle cx="493.3" cy="257.6" r="0.6" fill="#e8b428" opacity="0.90"/><circle cx="497.6" cy="252.1" r="1.1" fill="#e8b428" opacity="0.90"/><circle cx="495.8" cy="254.5" r="1.0" fill="#fffbe8" opacity="1.00"/><circle cx="496.6" cy="255.9" r="1.2" fill="#fffbe8" opacity="1.00"/><circle cx="496.3" cy="254.2" r="0.8" fill="#fffbe8" opacity="1.00"/><circle cx="496.0" cy="254.9" r="1.0" fill="#fffbe8" opacity="1.00"/><circle cx="497.5" cy="255.8" r="0.8" fill="#fffbe8" opacity="1.00"/><circle cx="497.3" cy="256.0" r="0.7" fill="#fffbe8" opacity="1.00"/><circle cx="495.0" cy="253.4" r="0.8" fill="#fffbe8" opacity="1.00"/><circle cx="495.9" cy="254.6" r="0.7" fill="#fffbe8" opacity="1.00"/><circle cx="494.4" cy="254.0" r="1.0" fill="#fffbe8" opacity="1.00"/>
<circle cx="512.3" cy="257.1" r="1.0" fill="#e8b428" opacity="0.90"/><circle cx="511.7" cy="256.8" r="0.7" fill="#e8b428" opacity="0.90"/><circle cx="514.0" cy="254.0" r="1.0" fill="#e8b428" opacity="0.90"/><circle cx="511.8" cy="256.2" r="0.7" fill="#e8b428" opacity="0.90"/><circle cx="511.0" cy="256.2" r="0.9" fill="#e8b428" opacity="0.90"/><circle cx="511.6" cy="256.2" r="0.7" fill="#e8b428" opacity="0.90"/><circle cx="511.4" cy="256.2" r="0.6" fill="#e8b428" opacity="0.90"/><circle cx="511.1" cy="255.8" r="1.1" fill="#e8b428" opacity="0.90"/><circle cx="510.5" cy="255.6" r="0.5" fill="#e8b428" opacity="0.90"/><circle cx="511.7" cy="254.5" r="0.9" fill="#e8b428" opacity="0.90"/><circle cx="510.8" cy="256.2" r="0.8" fill="#e8b428" opacity="0.90"/><circle cx="511.0" cy="256.1" r="0.8" fill="#e8b428" opacity="0.90"/><circle cx="510.0" cy="256.1" r="0.8" fill="#e8b428" opacity="0.90"/><circle cx="512.1" cy="256.0" r="0.8" fill="#fffbe8" opacity="1.00"/><circle cx="511.7" cy="254.8" r="1.2" fill="#fffbe8" opacity="1.00"/><circle cx="511.0" cy="256.3" r="1.4" fill="#fffbe8" opacity="1.00"/><circle cx="511.6" cy="255.9" r="0.8" fill="#fffbe8" opacity="1.00"/><circle cx="510.9" cy="256.3" r="1.0" fill="#fffbe8" opacity="1.00"/><circle cx="510.8" cy="256.2" r="1.3" fill="#fffbe8" opacity="1.00"/><circle cx="511.0" cy="256.4" r="1.1" fill="#fffbe8" opacity="1.00"/><circle cx="511.4" cy="256.2" r="1.2" fill="#fffbe8" opacity="1.00"/>
<circle cx="499.3" cy="262.2" r="0.62" fill="#d8a420" opacity="0.85"/>
<circle cx="491.6" cy="262.2" r="0.55" fill="#d8a420" opacity="0.85"/>
<circle cx="493.6" cy="261.1" r="0.51" fill="#d8a420" opacity="0.85"/>
<circle cx="519.0" cy="259.7" r="0.42" fill="#d8a420" opacity="0.85"/>
<circle cx="507.6" cy="251.6" r="0.42" fill="#d8a420" opacity="0.85"/>
<circle cx="492.2" cy="251.3" r="0.52" fill="#d8a420" opacity="0.85"/>
<circle cx="518.9" cy="257.2" r="0.45" fill="#d8a420" opacity="0.85"/>
<circle cx="489.8" cy="256.9" r="0.48" fill="#d8a420" opacity="0.85"/>
<circle cx="492.3" cy="262.2" r="0.60" fill="#d8a420" opacity="0.85"/>
<circle cx="514.2" cy="280.4" r="0.8" fill="#e8b428" opacity="0.90"/><circle cx="512.9" cy="280.3" r="0.6" fill="#e8b428" opacity="0.90"/><circle cx="513.6" cy="279.8" r="0.6" fill="#e8b428" opacity="0.90"/><circle cx="512.9" cy="280.4" r="1.0" fill="#e8b428" opacity="0.90"/><circle cx="513.8" cy="280.6" r="1.0" fill="#e8b428" opacity="0.90"/><circle cx="513.5" cy="280.6" r="1.0" fill="#e8b428" opacity="0.90"/><circle cx="513.8" cy="278.8" r="0.8" fill="#e8b428" opacity="0.90"/><circle cx="514.1" cy="280.0" r="0.9" fill="#e8b428" opacity="0.90"/><circle cx="513.7" cy="280.8" r="0.7" fill="#e8b428" opacity="0.90"/><circle cx="514.6" cy="280.4" r="0.7" fill="#e8b428" opacity="0.90"/><circle cx="512.9" cy="280.8" r="0.7" fill="#e8b428" opacity="0.90"/><circle cx="513.1" cy="281.1" r="1.0" fill="#e8b428" opacity="0.90"/><circle cx="513.9" cy="280.3" r="1.0" fill="#fffbe8" opacity="1.00"/><circle cx="512.5" cy="280.5" r="0.9" fill="#fffbe8" opacity="1.00"/><circle cx="513.5" cy="280.0" r="0.7" fill="#fffbe8" opacity="1.00"/><circle cx="513.3" cy="280.3" r="0.9" fill="#fffbe8" opacity="1.00"/><circle cx="514.5" cy="278.9" r="1.2" fill="#fffbe8" opacity="1.00"/><circle cx="513.5" cy="280.0" r="1.1" fill="#fffbe8" opacity="1.00"/><circle cx="513.5" cy="279.8" r="0.8" fill="#fffbe8" opacity="1.00"/>
<circle cx="493.1" cy="295.5" r="0.6" fill="#e8b428" opacity="0.90"/><circle cx="493.3" cy="294.7" r="0.8" fill="#e8b428" opacity="0.90"/><circle cx="492.2" cy="295.6" r="0.9" fill="#e8b428" opacity="0.90"/><circle cx="493.1" cy="295.6" r="0.5" fill="#e8b428" opacity="0.90"/><circle cx="493.4" cy="296.1" r="0.5" fill="#e8b428" opacity="0.90"/><circle cx="493.6" cy="294.3" r="0.9" fill="#e8b428" opacity="0.90"/><circle cx="491.3" cy="295.1" r="0.5" fill="#e8b428" opacity="0.90"/><circle cx="492.8" cy="294.6" r="0.8" fill="#e8b428" opacity="0.90"/><circle cx="493.1" cy="295.3" r="0.6" fill="#e8b428" opacity="0.90"/><circle cx="493.1" cy="295.0" r="0.6" fill="#e8b428" opacity="0.90"/><circle cx="493.0" cy="295.1" r="0.6" fill="#fffbe8" opacity="1.00"/><circle cx="493.0" cy="295.7" r="0.8" fill="#fffbe8" opacity="1.00"/><circle cx="493.0" cy="295.1" r="1.0" fill="#fffbe8" opacity="1.00"/><circle cx="493.6" cy="295.0" r="1.0" fill="#fffbe8" opacity="1.00"/><circle cx="492.4" cy="295.8" r="1.0" fill="#fffbe8" opacity="1.00"/><circle cx="493.0" cy="295.0" r="0.8" fill="#fffbe8" opacity="1.00"/>
<circle cx="504.5" cy="289.8" r="0.6" fill="#e8b428" opacity="0.63"/><circle cx="504.3" cy="290.6" r="0.7" fill="#e8b428" opacity="0.63"/><circle cx="504.6" cy="290.0" r="0.5" fill="#e8b428" opacity="0.63"/><circle cx="503.9" cy="290.6" r="0.6" fill="#e8b428" opacity="0.63"/><circle cx="504.2" cy="290.1" r="0.7" fill="#e8b428" opacity="0.63"/><circle cx="504.2" cy="290.5" r="0.7" fill="#e8b428" opacity="0.63"/><circle cx="504.3" cy="290.3" r="0.6" fill="#e8b428" opacity="0.63"/><circle cx="504.2" cy="290.4" r="0.7" fill="#e8b428" opacity="0.63"/>
<circle cx="501.7" cy="294.4" r="0.6" fill="#e8b428" opacity="0.45"/><circle cx="502.1" cy="294.3" r="0.6" fill="#e8b428" opacity="0.45"/><circle cx="502.1" cy="294.0" r="0.6" fill="#e8b428" opacity="0.45"/><circle cx="501.8" cy="294.4" r="0.6" fill="#e8b428" opacity="0.45"/><circle cx="502.1" cy="294.3" r="0.6" fill="#e8b428" opacity="0.45"/><circle cx="501.7" cy="294.6" r="0.6" fill="#e8b428" opacity="0.45"/><circle cx="502.0" cy="294.4" r="0.6" fill="#e8b428" opacity="0.45"/>
<rect x="540.1" y="240.3" width="35.3" height="29.6" fill="#000"/>
<rect x="540.1" y="274.3" width="35.3" height="30" fill="#000"/>
<circle cx="546.2" cy="255.7" r="1.4" fill="#e8b428" opacity="0.90"/><circle cx="546.4" cy="255.5" r="1.4" fill="#e8b428" opacity="0.90"/><circle cx="546.3" cy="255.8" r="0.7" fill="#e8b428" opacity="0.90"/><circle cx="546.8" cy="255.7" r="1.1" fill="#e8b428" opacity="0.90"/><circle cx="545.5" cy="256.4" r="0.8" fill="#e8b428" opacity="0.90"/><circle cx="547.6" cy="257.7" r="0.8" fill="#e8b428" opacity="0.90"/><circle cx="546.9" cy="255.7" r="0.6" fill="#e8b428" opacity="0.90"/><circle cx="547.0" cy="255.1" r="0.9" fill="#e8b428" opacity="0.90"/><circle cx="548.7" cy="254.9" r="0.7" fill="#e8b428" opacity="0.90"/><circle cx="546.5" cy="255.8" r="0.7" fill="#e8b428" opacity="0.90"/><circle cx="546.2" cy="254.3" r="0.5" fill="#e8b428" opacity="0.90"/><circle cx="546.2" cy="255.7" r="0.8" fill="#e8b428" opacity="0.90"/><circle cx="546.3" cy="255.6" r="0.9" fill="#e8b428" opacity="0.90"/><circle cx="544.9" cy="255.6" r="1.0" fill="#e8b428" opacity="0.90"/><circle cx="546.4" cy="255.4" r="0.8" fill="#e8b428" opacity="0.90"/><circle cx="546.4" cy="256.0" r="1.2" fill="#fffbe8" opacity="1.00"/><circle cx="546.1" cy="255.6" r="1.4" fill="#fffbe8" opacity="1.00"/><circle cx="546.0" cy="255.3" r="1.2" fill="#fffbe8" opacity="1.00"/><circle cx="546.3" cy="255.5" r="0.8" fill="#fffbe8" opacity="1.00"/><circle cx="546.1" cy="255.6" r="1.3" fill="#fffbe8" opacity="1.00"/><circle cx="545.5" cy="255.6" r="0.8" fill="#fffbe8" opacity="1.00"/><circle cx="546.3" cy="255.6" r="1.6" fill="#fffbe8" opacity="1.00"/><circle cx="545.8" cy="255.6" r="1.2" fill="#fffbe8" opacity="1.00"/><circle cx="546.3" cy="255.7" r="1.2" fill="#fffbe8" opacity="1.00"/>
<circle cx="563.1" cy="258.6" r="0.7" fill="#e8b428" opacity="0.90"/><circle cx="563.1" cy="256.1" r="0.7" fill="#e8b428" opacity="0.90"/><circle cx="562.5" cy="256.3" r="1.2" fill="#e8b428" opacity="0.90"/><circle cx="562.6" cy="256.8" r="0.8" fill="#e8b428" opacity="0.90"/><circle cx="562.3" cy="254.7" r="0.7" fill="#e8b428" opacity="0.90"/><circle cx="563.6" cy="256.2" r="0.8" fill="#e8b428" opacity="0.90"/><circle cx="563.6" cy="256.2" r="1.0" fill="#e8b428" opacity="0.90"/><circle cx="565.2" cy="255.3" r="1.0" fill="#e8b428" opacity="0.90"/><circle cx="562.8" cy="255.9" r="0.7" fill="#e8b428" opacity="0.90"/><circle cx="564.6" cy="256.9" r="0.9" fill="#e8b428" opacity="0.90"/><circle cx="563.1" cy="255.7" r="0.9" fill="#e8b428" opacity="0.90"/><circle cx="562.8" cy="258.0" r="1.1" fill="#e8b428" opacity="0.90"/><circle cx="563.7" cy="256.2" r="1.0" fill="#e8b428" opacity="0.90"/><circle cx="563.6" cy="256.9" r="1.4" fill="#fffbe8" opacity="1.00"/><circle cx="564.2" cy="256.7" r="1.2" fill="#fffbe8" opacity="1.00"/><circle cx="563.6" cy="256.5" r="0.7" fill="#fffbe8" opacity="1.00"/><circle cx="563.6" cy="256.0" r="1.3" fill="#fffbe8" opacity="1.00"/><circle cx="562.8" cy="256.8" r="1.0" fill="#fffbe8" opacity="1.00"/><circle cx="562.6" cy="256.2" r="0.6" fill="#fffbe8" opacity="1.00"/><circle cx="564.5" cy="256.7" r="1.3" fill="#fffbe8" opacity="1.00"/><circle cx="562.7" cy="256.5" r="0.8" fill="#fffbe8" opacity="1.00"/>
<circle cx="556.8" cy="250.5" r="0.40" fill="#d8a420" opacity="0.85"/>
<circle cx="557.7" cy="260.8" r="0.40" fill="#d8a420" opacity="0.85"/>
<circle cx="566.2" cy="260.0" r="0.59" fill="#d8a420" opacity="0.85"/>
<circle cx="572.3" cy="257.5" r="0.35" fill="#d8a420" opacity="0.85"/>
<circle cx="544.8" cy="263.4" r="0.39" fill="#d8a420" opacity="0.85"/>
<circle cx="551.4" cy="260.1" r="0.61" fill="#d8a420" opacity="0.85"/>
<circle cx="565.9" cy="258.7" r="0.46" fill="#d8a420" opacity="0.85"/>
<circle cx="570.4" cy="250.6" r="0.44" fill="#d8a420" opacity="0.85"/>
<circle cx="573.0" cy="253.1" r="0.64" fill="#d8a420" opacity="0.85"/>
<circle cx="566.3" cy="278.6" r="0.7" fill="#e8b428" opacity="0.68"/><circle cx="566.4" cy="278.4" r="0.5" fill="#e8b428" opacity="0.68"/><circle cx="566.9" cy="279.3" r="0.7" fill="#e8b428" opacity="0.68"/><circle cx="567.0" cy="278.6" r="0.6" fill="#e8b428" opacity="0.68"/><circle cx="566.5" cy="278.7" r="0.6" fill="#e8b428" opacity="0.68"/><circle cx="567.0" cy="279.0" r="0.6" fill="#e8b428" opacity="0.68"/><circle cx="567.1" cy="279.3" r="0.7" fill="#e8b428" opacity="0.68"/><circle cx="566.0" cy="279.0" r="0.6" fill="#e8b428" opacity="0.68"/>
<circle cx="546.7" cy="295.1" r="0.6" fill="#e8b428" opacity="0.36"/><circle cx="546.5" cy="295.4" r="0.6" fill="#e8b428" opacity="0.36"/><circle cx="546.7" cy="295.1" r="0.6" fill="#e8b428" opacity="0.36"/><circle cx="546.4" cy="295.2" r="0.6" fill="#e8b428" opacity="0.36"/><circle cx="546.6" cy="295.3" r="0.6" fill="#e8b428" opacity="0.36"/><circle cx="546.7" cy="295.2" r="0.6" fill="#e8b428" opacity="0.36"/><circle cx="546.7" cy="295.3" r="0.5" fill="#e8b428" opacity="0.36"/>
<circle cx="564.8" cy="302.1" r="0.6" fill="#e8b428" opacity="0.36"/><circle cx="565.1" cy="302.3" r="0.5" fill="#e8b428" opacity="0.36"/><circle cx="565.1" cy="301.9" r="0.6" fill="#e8b428" opacity="0.36"/><circle cx="564.8" cy="302.3" r="0.5" fill="#e8b428" opacity="0.36"/><circle cx="565.1" cy="302.3" r="0.6" fill="#e8b428" opacity="0.36"/><circle cx="565.1" cy="302.4" r="0.6" fill="#e8b428" opacity="0.36"/><circle cx="564.9" cy="302.3" r="0.6" fill="#e8b428" opacity="0.36"/>
<rect x="592" y="240.3" width="35.3" height="29.6" fill="#000"/>
<rect x="592" y="274.3" width="35.3" height="30" fill="#000"/>
<circle cx="601.3" cy="255.5" r="0.8" fill="#e8b428" opacity="0.90"/><circle cx="594.7" cy="253.1" r="0.8" fill="#e8b428" opacity="0.90"/><circle cx="597.4" cy="253.0" r="1.3" fill="#e8b428" opacity="0.90"/><circle cx="596.9" cy="252.0" r="0.8" fill="#e8b428" opacity="0.90"/><circle cx="596.2" cy="254.9" r="0.7" fill="#e8b428" opacity="0.90"/><circle cx="598.2" cy="252.2" r="0.9" fill="#e8b428" opacity="0.90"/><circle cx="597.7" cy="252.7" r="0.5" fill="#e8b428" opacity="0.90"/><circle cx="596.8" cy="254.2" r="0.7" fill="#e8b428" opacity="0.90"/><circle cx="597.2" cy="254.3" r="1.1" fill="#e8b428" opacity="0.90"/><circle cx="595.6" cy="256.2" r="0.9" fill="#e8b428" opacity="0.90"/><circle cx="598.9" cy="256.7" r="1.0" fill="#e8b428" opacity="0.90"/><circle cx="598.2" cy="254.8" r="1.3" fill="#e8b428" opacity="0.90"/><circle cx="597.8" cy="255.3" r="0.8" fill="#e8b428" opacity="0.90"/><circle cx="597.9" cy="253.4" r="0.6" fill="#e8b428" opacity="0.90"/><circle cx="597.9" cy="254.0" r="1.1" fill="#e8b428" opacity="0.90"/><circle cx="597.4" cy="253.8" r="1.5" fill="#fffbe8" opacity="1.00"/><circle cx="597.6" cy="253.7" r="1.1" fill="#fffbe8" opacity="1.00"/><circle cx="599.0" cy="253.3" r="0.7" fill="#fffbe8" opacity="1.00"/><circle cx="597.2" cy="253.9" r="0.9" fill="#fffbe8" opacity="1.00"/><circle cx="597.5" cy="253.8" r="1.0" fill="#fffbe8" opacity="1.00"/><circle cx="598.1" cy="253.8" r="0.9" fill="#fffbe8" opacity="1.00"/><circle cx="598.6" cy="252.7" r="0.7" fill="#fffbe8" opacity="1.00"/><circle cx="597.6" cy="253.9" r="1.3" fill="#fffbe8" opacity="1.00"/><circle cx="597.5" cy="253.8" r="1.2" fill="#fffbe8" opacity="1.00"/>
<circle cx="613.4" cy="256.5" r="1.0" fill="#e8b428" opacity="0.90"/><circle cx="615.1" cy="256.2" r="1.1" fill="#e8b428" opacity="0.90"/><circle cx="614.1" cy="257.2" r="1.0" fill="#e8b428" opacity="0.90"/><circle cx="612.6" cy="255.1" r="0.8" fill="#e8b428" opacity="0.90"/><circle cx="614.8" cy="256.3" r="1.0" fill="#e8b428" opacity="0.90"/><circle cx="615.2" cy="255.1" r="1.0" fill="#e8b428" opacity="0.90"/><circle cx="613.7" cy="256.0" r="0.7" fill="#e8b428" opacity="0.90"/><circle cx="614.1" cy="255.2" r="1.0" fill="#e8b428" opacity="0.90"/><circle cx="614.7" cy="256.4" r="1.1" fill="#e8b428" opacity="0.90"/><circle cx="614.1" cy="255.2" r="0.7" fill="#e8b428" opacity="0.90"/><circle cx="614.6" cy="255.6" r="0.8" fill="#e8b428" opacity="0.90"/><circle cx="615.6" cy="255.6" r="1.0" fill="#e8b428" opacity="0.90"/><circle cx="613.9" cy="255.2" r="0.7" fill="#e8b428" opacity="0.90"/><circle cx="613.9" cy="255.2" r="0.7" fill="#fffbe8" opacity="1.00"/><circle cx="614.1" cy="255.4" r="1.1" fill="#fffbe8" opacity="1.00"/><circle cx="614.0" cy="255.3" r="1.1" fill="#fffbe8" opacity="1.00"/><circle cx="614.0" cy="255.4" r="1.2" fill="#fffbe8" opacity="1.00"/><circle cx="613.9" cy="255.3" r="0.8" fill="#fffbe8" opacity="1.00"/><circle cx="614.1" cy="255.4" r="1.2" fill="#fffbe8" opacity="1.00"/><circle cx="614.7" cy="255.6" r="1.2" fill="#fffbe8" opacity="1.00"/><circle cx="614.1" cy="255.9" r="0.7" fill="#fffbe8" opacity="1.00"/>
<circle cx="624.9" cy="260.5" r="0.61" fill="#d8a420" opacity="0.85"/>
<circle cx="611.6" cy="263.5" r="0.65" fill="#d8a420" opacity="0.85"/>
<circle cx="611.7" cy="252.4" r="0.58" fill="#d8a420" opacity="0.85"/>
<circle cx="625.1" cy="254.0" r="0.59" fill="#d8a420" opacity="0.85"/>
<circle cx="598.4" cy="262.7" r="0.54" fill="#d8a420" opacity="0.85"/>
<circle cx="612.0" cy="259.1" r="0.53" fill="#d8a420" opacity="0.85"/>
<circle cx="615.1" cy="259.5" r="0.45" fill="#d8a420" opacity="0.85"/>
<circle cx="621.3" cy="252.2" r="0.61" fill="#d8a420" opacity="0.85"/>
<circle cx="607.9" cy="251.8" r="0.45" fill="#d8a420" opacity="0.85"/>
<circle cx="618.1" cy="279.3" r="0.5" fill="#e8b428" opacity="0.54"/><circle cx="618.1" cy="279.0" r="0.6" fill="#e8b428" opacity="0.54"/><circle cx="618.4" cy="279.2" r="0.6" fill="#e8b428" opacity="0.54"/><circle cx="618.5" cy="279.2" r="0.6" fill="#e8b428" opacity="0.54"/><circle cx="618.3" cy="279.0" r="0.5" fill="#e8b428" opacity="0.54"/><circle cx="618.6" cy="279.5" r="0.6" fill="#e8b428" opacity="0.54"/><circle cx="618.3" cy="279.3" r="0.6" fill="#e8b428" opacity="0.54"/>
<rect x="643.3" y="240.3" width="35.3" height="29.6" fill="#000"/>
<rect x="643.3" y="274.3" width="35.3" height="30" fill="#000"/>
<circle cx="649.4" cy="256.7" r="0.9" fill="#e8b428" opacity="0.90"/><circle cx="649.8" cy="254.8" r="0.9" fill="#e8b428" opacity="0.90"/><circle cx="649.6" cy="254.8" r="0.7" fill="#e8b428" opacity="0.90"/><circle cx="649.9" cy="254.1" r="0.5" fill="#e8b428" opacity="0.90"/><circle cx="648.7" cy="256.2" r="0.9" fill="#e8b428" opacity="0.90"/><circle cx="650.4" cy="254.1" r="1.3" fill="#e8b428" opacity="0.90"/><circle cx="648.9" cy="254.4" r="1.2" fill="#e8b428" opacity="0.90"/><circle cx="646.6" cy="255.5" r="1.2" fill="#e8b428" opacity="0.90"/><circle cx="650.7" cy="254.1" r="0.7" fill="#e8b428" opacity="0.90"/><circle cx="649.9" cy="254.5" r="0.7" fill="#e8b428" opacity="0.90"/><circle cx="649.4" cy="257.2" r="0.7" fill="#e8b428" opacity="0.90"/><circle cx="650.2" cy="255.5" r="1.0" fill="#e8b428" opacity="0.90"/><circle cx="649.9" cy="254.9" r="1.3" fill="#e8b428" opacity="0.90"/><circle cx="650.3" cy="255.3" r="0.6" fill="#e8b428" opacity="0.90"/><circle cx="649.6" cy="254.8" r="1.1" fill="#e8b428" opacity="0.90"/><circle cx="649.9" cy="255.9" r="1.5" fill="#fffbe8" opacity="1.00"/><circle cx="650.2" cy="256.2" r="1.0" fill="#fffbe8" opacity="1.00"/><circle cx="650.6" cy="255.1" r="1.3" fill="#fffbe8" opacity="1.00"/><circle cx="650.4" cy="255.2" r="1.1" fill="#fffbe8" opacity="1.00"/><circle cx="650.1" cy="255.1" r="1.5" fill="#fffbe8" opacity="1.00"/><circle cx="650.1" cy="254.1" r="1.0" fill="#fffbe8" opacity="1.00"/><circle cx="649.8" cy="255.0" r="1.0" fill="#fffbe8" opacity="1.00"/><circle cx="649.8" cy="254.8" r="1.5" fill="#fffbe8" opacity="1.00"/><circle cx="650.1" cy="254.5" r="1.1" fill="#fffbe8" opacity="1.00"/>
<circle cx="664.8" cy="255.9" r="0.5" fill="#e8b428" opacity="0.90"/><circle cx="666.0" cy="256.4" r="1.0" fill="#e8b428" opacity="0.90"/><circle cx="665.9" cy="256.8" r="0.8" fill="#e8b428" opacity="0.90"/><circle cx="664.6" cy="254.3" r="0.9" fill="#e8b428" opacity="0.90"/><circle cx="664.4" cy="255.1" r="0.6" fill="#e8b428" opacity="0.90"/><circle cx="666.7" cy="256.1" r="0.6" fill="#e8b428" opacity="0.90"/><circle cx="665.7" cy="256.2" r="1.2" fill="#e8b428" opacity="0.90"/><circle cx="668.1" cy="255.9" r="0.6" fill="#e8b428" opacity="0.90"/><circle cx="665.6" cy="256.1" r="0.8" fill="#e8b428" opacity="0.90"/><circle cx="665.0" cy="255.9" r="0.7" fill="#e8b428" opacity="0.90"/><circle cx="665.4" cy="256.7" r="1.1" fill="#e8b428" opacity="0.90"/><circle cx="665.5" cy="256.1" r="0.6" fill="#e8b428" opacity="0.90"/><circle cx="664.3" cy="256.1" r="0.5" fill="#e8b428" opacity="0.90"/><circle cx="665.1" cy="256.7" r="0.7" fill="#fffbe8" opacity="1.00"/><circle cx="664.5" cy="255.3" r="1.1" fill="#fffbe8" opacity="1.00"/><circle cx="665.5" cy="256.1" r="1.1" fill="#fffbe8" opacity="1.00"/><circle cx="665.3" cy="256.8" r="1.0" fill="#fffbe8" opacity="1.00"/><circle cx="665.5" cy="256.2" r="0.6" fill="#fffbe8" opacity="1.00"/><circle cx="665.7" cy="256.4" r="0.9" fill="#fffbe8" opacity="1.00"/><circle cx="665.7" cy="255.9" r="1.0" fill="#fffbe8" opacity="1.00"/><circle cx="665.6" cy="256.1" r="1.0" fill="#fffbe8" opacity="1.00"/>
<circle cx="669.3" cy="257.5" r="0.48" fill="#d8a420" opacity="0.85"/>
<circle cx="672.3" cy="255.8" r="0.68" fill="#d8a420" opacity="0.85"/>
<circle cx="668.3" cy="253.1" r="0.57" fill="#d8a420" opacity="0.85"/>
<circle cx="666.0" cy="259.1" r="0.59" fill="#d8a420" opacity="0.85"/>
<circle cx="658.2" cy="261.5" r="0.56" fill="#d8a420" opacity="0.85"/>
<circle cx="670.0" cy="261.7" r="0.56" fill="#d8a420" opacity="0.85"/>
<circle cx="662.4" cy="253.7" r="0.38" fill="#d8a420" opacity="0.85"/>
<circle cx="661.1" cy="257.7" r="0.48" fill="#d8a420" opacity="0.85"/>
<circle cx="661.3" cy="263.2" r="0.65" fill="#d8a420" opacity="0.85"/>
<circle cx="669.3" cy="279.3" r="0.5" fill="#e8b428" opacity="0.32"/><circle cx="669.4" cy="279.5" r="0.5" fill="#e8b428" opacity="0.32"/><circle cx="669.4" cy="279.0" r="0.5" fill="#e8b428" opacity="0.32"/><circle cx="669.2" cy="279.4" r="0.6" fill="#e8b428" opacity="0.32"/><circle cx="669.3" cy="279.4" r="0.5" fill="#e8b428" opacity="0.32"/><circle cx="669.3" cy="279.3" r="0.6" fill="#e8b428" opacity="0.32"/><circle cx="669.6" cy="279.5" r="0.5" fill="#e8b428" opacity="0.32"/>
<text x="677.8" y="266.3" font-size="7" fill="#fff" text-anchor="end">1 µm</text>
<rect x="668.5" y="267.1" width="8" height="1.8" fill="#fff"/>
<text x="677.8" y="299.3" font-size="7" fill="#fff" text-anchor="end">1 µm</text>
<rect x="668.5" y="300.1" width="8" height="1.8" fill="#fff"/>
<path d="M491.5 301.9L492.6 318.4L493.8 327.8L494.9 338.2L496.1 345.9L497.2 351.6L498.3 357.2L499.5 361.3L500.6 364.2L501.8 365.0L502.9 364.3L504.0 368.4L505.2 368.6L506.3 373.6L507.5 371.3L508.6 373.1L509.7 379.3L510.9 381.0L512.0 379.0L513.1 380.4L514.3 381.3L515.4 384.8L516.6 383.6L517.7 385.9L518.8 390.3L520.0 389.0L521.1 391.4L522.3 390.2L523.4 392.8L524.5 391.3L525.7 393.3L526.8 394.1L528.0 394.1L529.1 393.3L530.2 395.6L531.4 396.1L532.5 397.5L533.7 399.4L534.8 399.0L535.9 399.0L537.1 399.6L538.2 401.7L539.4 403.5L540.5 401.7L541.6 403.3L542.8 402.3L543.9 403.1L545.0 404.0L546.2 403.5L547.3 404.1L548.5 407.4L549.6 407.4L550.7 406.8L551.9 407.9L553.0 407.8L554.2 409.8L555.3 408.8L556.4 409.1L557.6 411.2L558.7 409.1L559.9 409.6L561.0 411.2L562.1 409.5L563.3 409.1L564.4 409.5L565.6 410.0L566.7 408.7L567.8 410.2L569.0 411.2L570.1 411.7L571.3 411.6L572.4 412.6L573.5 412.5L574.7 412.1L575.8 412.5L577.0 413.1L578.1 413.9L579.2 412.7L580.4 413.2L581.5 416.0L582.6 415.9L583.8 414.3L584.9 414.1L586.1 413.0L587.2 413.6L588.3 414.5L589.5 414.6L590.6 415.8L591.8 417.5L592.9 417.9L594.0 414.6L595.2 416.1L596.3 417.7L597.5 417.1L598.6 416.3L599.7 416.1L600.9 418.1L602.0 418.8L603.2 417.6L604.3 417.0L605.4 418.3L606.6 418.3L607.7 416.1L608.9 415.9L610.0 417.5L611.1 417.2L612.3 418.7L613.4 418.0L614.5 416.3L615.7 416.7L616.8 420.7L618.0 420.4L619.1 418.7L620.2 417.2L621.4 418.7L622.5 416.3L623.7 420.0L624.8 419.4L625.9 419.6L627.1 418.6L628.2 420.2L629.4 417.8L630.5 419.7L631.6 420.3L632.8 417.8L633.9 418.3L635.1 419.6L636.2 420.8L637.3 421.0L638.5 420.6L639.6 421.0L640.8 419.6L641.9 417.9L643.0 418.0L644.2 420.1L645.3 421.7L646.4 419.5L647.6 419.9L648.7 422.2L649.9 418.5L651.0 418.5L652.1 421.7L653.3 419.7L654.4 420.0L655.6 419.1L656.7 421.2L657.8 421.0L659.0 421.9L660.1 420.0L661.3 420.6L662.4 421.4L662.4 424.9L661.3 426.5L660.1 426.6L659.0 425.0L657.8 427.4L656.7 424.0L655.6 423.9L654.4 426.9L653.3 425.5L652.1 426.1L651.0 424.2L649.9 427.2L648.7 425.3L647.6 424.9L646.4 425.3L645.3 425.2L644.2 425.0L643.0 423.9L641.9 424.4L640.8 425.3L639.6 426.9L638.5 424.9L637.3 425.7L636.2 426.5L635.1 425.3L633.9 423.1L632.8 422.9L631.6 427.1L630.5 427.2L629.4 426.6L628.2 425.0L627.1 424.8L625.9 425.1L624.8 426.4L623.7 424.4L622.5 422.6L621.4 422.7L620.2 425.7L619.1 424.8L618.0 424.8L616.8 423.5L615.7 422.8L614.5 422.8L613.4 425.1L612.3 424.6L611.1 423.8L610.0 422.7L608.9 423.8L607.7 423.2L606.6 424.4L605.4 424.5L604.3 423.0L603.2 424.4L602.0 423.1L600.9 422.3L599.7 420.6L598.6 422.4L597.5 424.6L596.3 422.8L595.2 421.6L594.0 420.0L592.9 423.1L591.8 421.8L590.6 422.1L589.5 420.2L588.3 421.1L587.2 420.5L586.1 421.0L584.9 419.4L583.8 421.4L582.6 421.7L581.5 422.7L580.4 422.8L579.2 420.4L578.1 421.1L577.0 419.0L575.8 421.7L574.7 421.1L573.5 421.5L572.4 419.6L571.3 420.6L570.1 420.8L569.0 418.0L567.8 419.3L566.7 417.8L565.6 419.5L564.4 419.0L563.3 420.5L562.1 420.3L561.0 419.6L559.9 418.8L558.7 418.9L557.6 420.0L556.4 415.2L555.3 415.2L554.2 418.0L553.0 418.9L551.9 416.7L550.7 418.9L549.6 416.2L548.5 418.7L547.3 414.5L546.2 413.4L545.0 413.7L543.9 413.8L542.8 413.3L541.6 415.2L540.5 415.6L539.4 416.0L538.2 411.3L537.1 411.8L535.9 413.4L534.8 412.5L533.7 412.1L532.5 412.7L531.4 409.6L530.2 409.8L529.1 408.4L528.0 407.8L526.8 410.0L525.7 408.9L524.5 407.3L523.4 408.2L522.3 408.8L521.1 406.2L520.0 406.0L518.8 405.2L517.7 403.9L516.6 402.8L515.4 403.5L514.3 403.5L513.1 402.7L512.0 403.0L510.9 400.2L509.7 400.8L508.6 397.4L507.5 397.8L506.3 397.3L505.2 394.9L504.0 393.7L502.9 393.0L501.8 394.0L500.6 393.5L499.5 393.2L498.3 389.8L497.2 386.0L496.1 383.2L494.9 377.5L493.8 372.5L492.6 371.0L491.5 369.9Z" fill="#dedede" opacity="0.9"/>
<path d="M491.5 351.5L492.6 354.6L493.8 357.6L494.9 362.3L496.1 367.0L497.2 371.8L498.3 376.5L499.5 379.2L500.6 379.0L501.8 379.6L502.9 380.6L504.0 381.3L505.2 383.7L506.3 385.0L507.5 385.5L508.6 386.9L509.7 389.6L510.9 391.0L512.0 391.9L513.1 393.2L514.3 393.2L515.4 394.6L516.6 395.7L517.7 396.3L518.8 398.6L520.0 399.2L521.1 399.6L522.3 400.2L523.4 400.2L524.5 400.8L525.7 401.9L526.8 402.6L528.0 402.6L529.1 403.3L530.2 403.3L531.4 403.9L532.5 405.9L533.7 406.4L534.8 406.3L535.9 406.8L537.1 406.2L538.2 406.7L539.4 409.5L540.5 410.0L541.6 408.9L542.8 409.5L543.9 409.3L545.0 409.8L546.2 410.4L547.3 410.9L548.5 413.1L549.6 413.3L550.7 413.7L551.9 413.9L553.0 414.5L554.2 414.7L555.3 412.6L556.4 412.8L557.6 415.0L558.7 415.1L559.9 414.8L561.0 415.0L562.1 415.5L563.3 415.7L564.4 414.8L565.6 415.0L566.7 414.8L567.8 415.1L569.0 416.2L570.1 416.4L571.3 416.6L572.4 416.8L573.5 418.1L574.7 418.4L575.8 417.1L577.0 417.3L578.1 417.7L579.2 417.9L580.4 418.7L581.5 418.8L582.6 418.8L583.8 418.9L584.9 417.7L586.1 417.9L587.2 418.1L588.3 418.2L589.5 418.3L590.6 418.4L591.8 420.2L592.9 420.3L594.0 418.6L595.2 418.7L596.3 420.7L597.5 420.8L598.6 418.4L599.7 418.5L600.9 421.0L602.0 421.1L603.2 420.7L604.3 420.8L605.4 420.7L606.6 420.8L607.7 420.5L608.9 420.6L610.0 419.7L611.1 419.8L612.3 421.7L613.4 421.8L614.5 419.7L615.7 419.8L616.8 422.2L618.0 422.4L619.1 421.7L620.2 421.8L621.4 420.7L622.5 420.8L623.7 422.8L624.8 422.9L625.9 421.4L627.1 421.5L628.2 422.8L629.4 422.9L630.5 423.4L631.6 423.5L632.8 421.9L633.9 422.0L635.1 423.3L636.2 423.3L637.3 423.9L638.5 423.9L639.6 423.5L640.8 423.5L641.9 422.8L643.0 422.8L644.2 423.4L645.3 423.5L646.4 422.7L647.6 422.8L648.7 423.5L649.9 423.6L651.0 423.2L652.1 423.2L653.3 424.0L654.4 424.0L655.6 422.6L656.7 422.7L657.8 423.8L659.0 423.9L660.1 423.3L661.3 423.4L662.4 423.8" fill="none" stroke="#55595b" stroke-width="2.8" stroke-linejoin="round"/>
<path d="M491.5 327.1L492.6 328.6L493.8 332.0L494.9 322.2L496.1 328.4L497.2 322.9L498.3 332.2L499.5 325.0L500.6 331.3L501.8 328.3L502.9 331.1L504.0 327.2L505.2 331.6L506.3 330.9L507.5 330.4L508.6 326.6L509.7 333.0L510.9 330.9L512.0 334.5L513.1 332.0L514.3 335.6L515.4 330.6L516.6 329.6L517.7 330.4L518.8 329.1L520.0 335.7L521.1 334.4L522.3 332.9L523.4 331.2L524.5 332.7L525.7 337.3L526.8 338.4L528.0 337.0L529.1 333.4L530.2 336.8L531.4 332.8L532.5 339.2L533.7 335.7L534.8 332.2L535.9 332.6L537.1 332.5L538.2 330.4L539.4 340.0L540.5 337.4L541.6 339.2L542.8 335.5L543.9 339.6L545.0 339.8L546.2 342.1L547.3 342.8L548.5 339.8L549.6 337.2L550.7 340.3L551.9 336.0L553.0 334.9L554.2 337.5L555.3 339.4L556.4 341.8L557.6 338.5L558.7 340.8L559.9 344.1L561.0 341.3L562.1 339.3L563.3 336.8L564.4 344.5L565.6 343.7L566.7 342.0L567.8 344.5L569.0 346.5L570.1 345.0L571.3 344.7L572.4 340.7L573.5 343.1L574.7 341.2L575.8 347.5L577.0 343.7L578.1 343.0L579.2 344.0L580.4 343.0L581.5 347.8L582.6 344.9L583.8 343.1L584.9 347.5L586.1 343.0L587.2 342.5L588.3 344.5L589.5 344.6L590.6 349.1L591.8 347.8L592.9 343.7L594.0 347.0L595.2 348.7L596.3 348.8L597.5 343.9L598.6 345.2L599.7 344.4L600.9 348.4L602.0 346.0L603.2 347.4L604.3 348.3L605.4 350.1L606.6 352.3L607.7 352.4L608.9 352.6L610.0 352.4L611.1 345.5L612.3 350.6L613.4 351.8L614.5 346.4L615.7 346.5L616.8 353.4L618.0 355.2L619.1 353.0L620.2 354.1L621.4 354.9L622.5 354.5L623.7 357.5L624.8 357.5L625.9 354.3L627.1 357.9L628.2 350.2L629.4 348.3L630.5 351.3L631.6 355.5L632.8 353.1L633.9 356.2L635.1 353.1L636.2 351.6L637.3 357.2L638.5 356.9L639.6 360.0L640.8 357.5L641.9 355.5L643.0 352.5L644.2 358.0L645.3 356.8L646.4 360.3L647.6 356.1L648.7 358.7L649.9 359.8L651.0 354.7L652.1 360.6L653.3 360.9L654.4 361.8L655.6 358.0L656.7 359.1L657.8 361.4L659.0 362.7L660.1 364.0L661.3 364.3L662.4 360.3L662.4 387.2L661.3 392.2L660.1 390.2L659.0 390.5L657.8 393.0L656.7 391.5L655.6 390.9L654.4 390.4L653.3 387.6L652.1 389.7L651.0 388.2L649.9 389.5L648.7 389.2L647.6 387.9L646.4 389.6L645.3 390.2L644.2 389.4L643.0 388.0L641.9 389.2L640.8 390.9L639.6 388.3L638.5 387.1L637.3 388.8L636.2 384.1L635.1 385.7L633.9 387.1L632.8 384.0L631.6 386.6L630.5 387.6L629.4 382.8L628.2 383.8L627.1 387.8L625.9 386.8L624.8 389.2L623.7 386.7L622.5 388.2L621.4 388.9L620.2 388.5L619.1 388.2L618.0 387.1L616.8 384.5L615.7 385.8L614.5 386.3L613.4 386.8L612.3 387.7L611.1 386.6L610.0 388.8L608.9 387.1L607.7 386.9L606.6 383.0L605.4 384.8L604.3 385.1L603.2 384.5L602.0 386.0L600.9 385.8L599.7 382.8L598.6 380.6L597.5 380.1L596.3 386.9L595.2 384.0L594.0 384.4L592.9 382.0L591.8 382.2L590.6 383.5L589.5 381.6L588.3 385.1L587.2 383.2L586.1 379.3L584.9 380.2L583.8 381.8L582.6 383.5L581.5 385.7L580.4 386.5L579.2 386.5L578.1 384.5L577.0 386.4L575.8 383.9L574.7 383.7L573.5 382.6L572.4 379.9L571.3 380.0L570.1 384.4L569.0 380.8L567.8 381.9L566.7 384.3L565.6 384.1L564.4 380.3L563.3 380.3L562.1 384.2L561.0 383.7L559.9 380.1L558.7 382.3L557.6 382.0L556.4 379.4L555.3 380.1L554.2 380.7L553.0 376.7L551.9 377.8L550.7 381.8L549.6 383.5L548.5 379.9L547.3 382.3L546.2 382.9L545.0 378.8L543.9 379.9L542.8 378.9L541.6 381.8L540.5 377.9L539.4 380.9L538.2 380.3L537.1 375.8L535.9 378.7L534.8 377.0L533.7 377.7L532.5 379.4L531.4 377.7L530.2 379.8L529.1 375.6L528.0 381.3L526.8 380.6L525.7 383.0L524.5 377.7L523.4 375.4L522.3 375.6L521.1 378.3L520.0 380.6L518.8 375.4L517.7 379.3L516.6 374.4L515.4 379.3L514.3 376.3L513.1 376.5L512.0 375.6L510.9 379.2L509.7 379.9L508.6 377.3L507.5 377.3L506.3 373.9L505.2 374.2L504.0 376.3L502.9 372.3L501.8 374.4L500.6 375.9L499.5 377.2L498.3 378.7L497.2 373.8L496.1 376.3L494.9 373.9L493.8 378.8L492.6 375.4L491.5 376.6Z" fill="#f1edb2" opacity="0.84"/>
<path d="M491.5 356.2L492.6 356.6L493.8 356.6L494.9 352.8L496.1 353.2L497.2 353.8L498.3 356.2L499.5 355.4L500.6 355.8L501.8 354.5L502.9 354.7L504.0 354.7L505.2 356.1L506.3 356.3L507.5 356.2L508.6 356.8L509.7 357.7L510.9 357.3L512.0 358.4L513.1 358.2L514.3 358.3L515.4 357.4L516.6 357.7L517.7 357.5L518.8 358.0L520.0 358.8L521.1 358.8L522.3 358.9L523.4 358.9L524.5 359.8L525.7 361.2L526.8 360.6L528.0 360.8L529.1 357.4L530.2 358.6L531.4 358.8L532.5 360.6L533.7 360.1L534.8 360.3L535.9 358.1L537.1 358.3L538.2 358.3L539.4 361.6L540.5 361.3L541.6 362.1L542.8 362.1L543.9 361.8L545.0 361.9L546.2 362.2L547.3 362.9L548.5 363.7L549.6 362.8L550.7 362.9L551.9 362.1L553.0 360.1L554.2 360.4L555.3 360.8L556.4 362.3L557.6 362.7L558.7 362.8L559.9 364.5L561.0 365.4L562.1 364.8L563.3 362.7L564.4 363.0L565.6 363.3L566.7 364.5L567.8 365.8L569.0 365.6L570.1 363.8L571.3 363.6L572.4 363.4L573.5 364.9L574.7 364.4L575.8 365.0L577.0 366.7L578.1 366.7L579.2 366.5L580.4 366.2L581.5 367.2L582.6 367.1L583.8 365.2L584.9 365.3L586.1 364.6L587.2 366.5L588.3 366.8L589.5 367.1L590.6 366.1L591.8 366.6L592.9 366.3L594.0 368.9L595.2 369.2L596.3 368.6L597.5 365.7L598.6 365.3L599.7 365.5L600.9 366.9L602.0 367.4L603.2 367.8L604.3 368.3L605.4 369.1L606.6 368.9L607.7 369.2L608.9 369.6L610.0 369.7L611.1 367.6L612.3 368.1L613.4 368.3L614.5 367.7L615.7 368.2L616.8 368.6L618.0 369.7L619.1 370.4L620.2 370.8L621.4 371.2L622.5 370.9L623.7 371.3L624.8 372.4L625.9 372.5L627.1 373.3L628.2 369.1L629.4 369.1L630.5 369.7L631.6 369.2L632.8 370.2L633.9 370.2L635.1 369.2L636.2 370.0L637.3 370.4L638.5 373.5L639.6 374.0L640.8 373.4L641.9 371.8L643.0 372.0L644.2 372.1L645.3 373.7L646.4 373.7L647.6 373.8L648.7 372.4L649.9 372.9L651.0 372.7L652.1 374.6L653.3 374.1L654.4 374.4L655.6 375.6L656.7 376.4L657.8 376.8L659.0 375.2L660.1 375.7L661.3 375.7L662.4 372.9" fill="none" stroke="#E5A93B" stroke-width="2.8" stroke-linejoin="round"/>
<path d="M490.2 307V427.4 M492.8 307V427.4" stroke="#909090" stroke-width="1" stroke-dasharray="1.4 1.5"/>
<path d="M547.1 307V427.4 M549.6999999999999 307V427.4" stroke="#909090" stroke-width="1" stroke-dasharray="1.4 1.5"/>
<path d="M604.1 307V427.4 M606.6999999999999 307V427.4" stroke="#909090" stroke-width="1" stroke-dasharray="1.4 1.5"/>
<path d="M661.1 307V427.4 M663.6999999999999 307V427.4" stroke="#909090" stroke-width="1" stroke-dasharray="1.4 1.5"/>
<path d="M486.0 313.6H491.5V432.59999999999997 M486.0 427.4H662.4V432.59999999999997 M548.4 427.4V432.59999999999997 M605.4 427.4V432.59999999999997 M486.0 389.5H491.5 M486.0 351.5H491.5" fill="none" stroke="#333" stroke-width="1.1"/>
<text x="483.8" y="431.0" font-size="10" fill="#222" text-anchor="end">0.0</text>
<text x="483.8" y="393.07" font-size="10" fill="#222" text-anchor="end">0.5</text>
<text x="483.8" y="355.13" font-size="10" fill="#222" text-anchor="end">1.0</text>
<text x="483.8" y="317.2" font-size="10" fill="#222" text-anchor="end">1.5</text>
<text x="434" y="444.1" font-size="9.9" fill="#111">Time (min)</text>
<text x="434" y="454.9" font-size="9.9" fill="#858b96">Frames</text>
<text x="491.2" y="444.1" font-size="10" fill="#111" text-anchor="middle">0</text>
<text x="491.2" y="455.1" font-size="9.9" fill="#9a9ea4" text-anchor="middle">1</text>
<text x="548.1" y="444.1" font-size="10" fill="#111" text-anchor="middle">10</text>
<text x="548.1" y="455.1" font-size="9.9" fill="#9a9ea4" text-anchor="middle">1200</text>
<text x="605.1" y="444.1" font-size="10" fill="#111" text-anchor="middle">20</text>
<text x="605.1" y="455.1" font-size="9.9" fill="#9a9ea4" text-anchor="middle">2400</text>
<text x="662.1" y="444.1" font-size="10" fill="#111" text-anchor="middle">30</text>
<text x="662.1" y="455.1" font-size="9.9" fill="#9a9ea4" text-anchor="middle">3600</text>
<text x="451.4" y="373.5" font-size="9.9" fill="#222" text-anchor="middle" transform="rotate(-90 451.4 373.5)">Fluorescence,</text>
<text x="462.1" y="380.2" font-size="9.95" fill="#222" text-anchor="middle" transform="rotate(-90 462.1 380.2)">normalized to max</text>
<text x="527.5" y="352" font-size="10.2" fill="#B8923E" font-weight="bold" transform="rotate(6.8 527.5 352)">GPHN-FingR-mGold2s</text>
<text x="533.5" y="398" font-size="10.2" fill="#777" transform="rotate(6 533.5 398)">GPHN-FingR-mVenus</text>
<text x="28.7" y="515.0" font-size="10" fill="#111">High FRET (Low [cAMP])</text>
<path d="M41.5 520.6L41.2 521.6L41.1 522.5L41.2 523.1L41.5 523.4L42.2 523.3L43.1 523.0L44.0 522.5L45.0 522.1L45.8 521.8L46.4 521.8L46.7 522.2L46.7 522.9L46.5 523.8L46.2 524.9L45.9 525.9L45.9 526.7L46.0 527.2L46.5 527.4L47.2 527.2L48.1 526.8L49.1 526.4L50.0 525.9L50.8 525.7L51.3 525.9L51.5 526.3L51.4 527.1L51.2 528.1L50.9 529.1L50.7 530.1L50.7 530.9L50.9 531.3L51.4 531.3L52.2 531.1L53.2 530.7L54.2 530.2L55.0 529.8L55.7 529.7L56.1 529.9L56.3 530.5L56.1 531.3L55.9 532.4L55.6 533.4L55.4 534.3L55.8 534.7L56.4 534.6L57.1 534.5L57.8 534.4L58.2 534.5" fill="none" stroke="#4BA65C" stroke-width="2.9" stroke-linejoin="round" stroke-linecap="round"/>
<path d="M64.0 539.3L54.1 537.9L60.9 529.8Z" fill="#4BA65C"/>
<path d="M115.5 538.6L116.5 539.1L117.3 539.4L117.9 539.5L118.2 539.1L118.3 538.5L118.1 537.6L117.8 536.5L117.6 535.5L117.5 534.7L117.6 534.1L118.0 533.9L118.7 534.1L119.6 534.4L120.5 534.9L121.5 535.4L122.2 535.6L122.8 535.6L123.0 535.2L123.0 534.5L122.8 533.5L122.5 532.4L122.3 531.5L122.2 530.7L122.4 530.2L122.9 530.1L123.7 530.3L124.6 530.8L125.6 531.3L126.5 531.7L127.2 531.9L127.6 531.7L127.8 531.2L127.7 530.4L127.5 529.4L127.2 528.3L127.0 527.4L127.0 526.7L127.3 526.4L127.9 526.4L128.7 526.6L129.6 527.1L130.6 527.6L131.4 528.0L131.8 527.7L131.9 527.1L131.9 526.4L131.9 525.7L132.1 525.3" fill="none" stroke="#9C1424" stroke-width="2.9" stroke-linejoin="round" stroke-linecap="round"/>
<path d="M138.0 520.6L134.7 530.0L128.1 521.8Z" fill="#9C1424"/>
<path d="M80 556 C80 560 75 559 76.5 562 C78 564.5 82 563.5 85 562.5 M93 556 C93.5 558 92.5 559 92 560" fill="none" stroke="#222" stroke-width="0.9"/>
<rect x="64.4" y="525.7" width="23.2" height="30.3" rx="6" fill="#EBB040" stroke="#222" stroke-width="1"/>
<rect x="90.6" y="525.7" width="23.4" height="30.3" rx="6" fill="#E0482E" stroke="#222" stroke-width="1"/>
<rect x="84" y="558.4" width="10.6" height="7" rx="3.4" fill="#808285" stroke="#222" stroke-width="0.9" transform="rotate(14 89.4 561.9)"/>
<text x="43.9" y="554.3" font-size="10" fill="#111" font-weight="bold">YFP</text>
<text x="115.2" y="556.1" font-size="10" fill="#777">mCherry</text>
<text x="96.9" y="570.5" font-size="10" fill="#777">Epac1</text>
<text x="124.3" y="573.5" font-size="5.6" fill="#777">148-881</text>
<text x="43.9" y="585.2" font-size="10" fill="#777">cAMP</text>
<circle cx="78.5" cy="581.8" r="2.9" fill="#8B8DC8" stroke="#333" stroke-width="0.8"/>
<path d="M91.3 573.5V585" stroke="#111" stroke-width="2.2"/>
<path d="M91.3 595.5L84.6 581.5Q91.3 585.5 98 581.5Z" fill="#111"/>
<text x="35.7" y="606.9" font-size="10" fill="#111">Low FRET (High [cAMP])</text>
<path d="M40.0 612.6L39.8 613.6L39.6 614.5L39.7 615.1L40.1 615.4L40.8 615.3L41.6 615.0L42.6 614.5L43.5 614.0L44.3 613.7L44.9 613.7L45.2 614.1L45.2 614.8L45.1 615.7L44.8 616.8L44.6 617.8L44.5 618.6L44.7 619.1L45.2 619.3L45.9 619.1L46.8 618.7L47.8 618.2L48.7 617.8L49.4 617.5L49.9 617.6L50.1 618.1L50.1 618.9L49.9 619.9L49.6 620.9L49.4 621.9L49.4 622.7L49.7 623.1L50.2 623.1L51.0 622.9L51.9 622.4L52.9 621.9L53.8 621.5L54.5 621.4L54.9 621.6L55.0 622.2L54.9 623.0L54.7 624.1L54.5 625.1L54.3 626.0L54.6 626.4L55.2 626.3L56.0 626.1L56.6 626.0L57.1 626.1" fill="none" stroke="#4BA65C" stroke-width="2.9" stroke-linejoin="round" stroke-linecap="round"/>
<path d="M63.0 630.8L53.0 629.7L59.6 621.4Z" fill="#4BA65C"/>
<path d="M87.5 631.3L88.5 631.8L89.3 632.1L89.9 632.1L90.3 631.8L90.3 631.1L90.2 630.2L89.9 629.2L89.7 628.1L89.6 627.3L89.7 626.7L90.1 626.5L90.8 626.6L91.7 627.0L92.7 627.4L93.6 627.9L94.4 628.1L95.0 628.1L95.2 627.6L95.2 626.9L95.0 625.9L94.7 624.9L94.5 623.9L94.5 623.1L94.7 622.6L95.2 622.5L96.0 622.7L96.9 623.1L97.9 623.6L98.8 624.0L99.5 624.1L100.0 624.0L100.2 623.5L100.1 622.6L99.9 621.6L99.6 620.6L99.4 619.6L99.4 618.9L99.7 618.5L100.3 618.5L101.1 618.8L102.1 619.3L103.1 619.7L103.9 620.1L104.3 619.8L104.4 619.2L104.4 618.5L104.4 617.8L104.7 617.3" fill="none" stroke="#C9A233" stroke-width="2.9" stroke-linejoin="round" stroke-linecap="round"/>
<path d="M110.5 612.6L107.2 622.1L100.6 613.8Z" fill="#C9A233"/>
<path d="M79 646.5 V651 M81 655 L85.5 658 M95.5 659.5 C98 660 99 657 103.5 653.5" fill="none" stroke="#222" stroke-width="0.9"/>
<rect x="63.3" y="616.1" width="22.8" height="30.4" rx="6" fill="#EBB040" stroke="#222" stroke-width="1"/>
<rect x="106.3" y="629.5" width="23.4" height="30" rx="6" fill="#E0482E" stroke="#222" stroke-width="1" transform="rotate(63 118 644.7)"/>
<circle cx="78.5" cy="653.7" r="2.8" fill="#8B8DC8" stroke="#333" stroke-width="0.8"/>
<rect x="85" y="656" width="11" height="6.6" rx="3.2" fill="#808285" stroke="#222" stroke-width="0.9" transform="rotate(8 90.5 659.3)"/>
<path d="M229.5 512.6L229.6 513.7L229.7 515.8L229.9 518.3L230.1 520.8L230.3 523.1L230.6 525.3L230.9 527.2L231.3 528.9L231.6 530.5L232.0 531.9L232.4 533.2L232.9 534.5L233.3 535.8L233.8 537.1L234.3 538.3L234.8 539.6L235.4 540.9L235.9 542.2L236.5 543.5L237.1 544.9L237.7 546.2L238.4 547.6L239.0 548.9L239.7 550.3L240.4 551.7L241.1 553.0L241.8 554.4L242.6 555.7L243.3 557.1L244.1 558.4L244.9 559.7L245.7 561.0L246.5 562.3L247.3 563.6L248.2 564.9L249.0 566.1L249.9 567.4L250.8 568.6L251.7 569.8L252.6 570.9L253.5 572.1L254.5 573.2L255.4 574.3L256.4 575.4L257.4 576.4L258.4 577.5L259.4 578.5L260.4 579.5L261.5 580.4L262.5 581.4L263.6 582.3L264.7 583.2L265.7 584.0L266.8 584.9L268.0 585.7L269.1 586.5L270.2 587.2L271.4 588.0L272.5 588.7L273.7 589.4L274.9 590.1L276.1 590.7L277.3 591.3L278.5 592.0L279.7 592.5L281.0 593.1L282.2 593.7L283.5 594.2L284.8 594.7L286.1 595.2L287.4 595.7L288.7 596.1L290.0 596.5L291.3 597.0L292.7 597.4L294.0 597.8L295.4 598.1L296.8 598.5L298.1 598.8L299.5 599.1L301.0 599.5L302.4 599.8L303.8 600.0L305.2 600.3L306.7 600.6L308.1 600.8L309.6 601.1L311.1 601.3L312.6 601.5L314.1 601.7L315.6 601.9L317.1 602.1L318.6 602.3L320.2 602.5L321.7 602.6L323.3 602.8L324.8 602.9L326.4 603.1L328.0 603.2L329.6 603.3" fill="none" stroke="#8e9296" stroke-width="2.4"/>
<path d="M229.5 510.8L229.6 511.5L229.7 512.8L229.9 514.6L230.1 516.7L230.3 519.2L230.6 521.8L230.9 524.7L231.3 527.7L231.6 530.7L232.0 533.9L232.4 537.1L232.9 540.3L233.3 543.5L233.8 546.7L234.3 549.8L234.8 552.9L235.4 555.9L235.9 558.8L236.5 561.6L237.1 564.4L237.7 567.0L238.4 569.5L239.0 571.9L239.7 574.2L240.4 576.3L241.1 578.4L241.8 580.3L242.6 582.1L243.3 583.9L244.1 585.5L244.9 587.0L245.7 588.4L246.5 589.7L247.3 590.9L248.2 592.1L249.0 593.1L249.9 594.1L250.8 595.0L251.7 595.9L252.6 596.7L253.5 597.4L254.5 598.1L255.4 598.7L256.4 599.3L257.4 599.8L258.4 600.3L259.4 600.7L260.4 601.2L261.5 601.5L262.5 601.9L263.6 602.2L264.7 602.5L265.7 602.8L266.8 603.1L268.0 603.4L269.1 603.6L270.2 603.8L271.4 604.0L272.5 604.2L273.7 604.4L274.9 604.6L276.1 604.7L277.3 604.9L278.5 605.0L279.7 605.2L281.0 605.3L282.2 605.4L283.5 605.5L284.8 605.7L286.1 605.8L287.4 605.9L288.7 606.0L290.0 606.1L291.3 606.2L292.7 606.3L294.0 606.3L295.4 606.4L296.8 606.5L298.1 606.6L299.5 606.7L301.0 606.7L302.4 606.8L303.8 606.9L305.2 606.9L306.7 607.0L308.1 607.1L309.6 607.1L311.1 607.2L312.6 607.2L314.1 607.3L315.6 607.3L317.1 607.4L318.6 607.4L320.2 607.5L321.7 607.5L323.3 607.6L324.8 607.6L326.4 607.6L328.0 607.7L329.6 607.7L329.6 611.3L328.0 611.3L326.4 611.2L324.8 611.2L323.3 611.2L321.7 611.1L320.2 611.1L318.6 611.0L317.1 611.0L315.6 610.9L314.1 610.9L312.6 610.8L311.1 610.8L309.6 610.7L308.1 610.7L306.7 610.6L305.2 610.5L303.8 610.5L302.4 610.4L301.0 610.3L299.5 610.3L298.1 610.2L296.8 610.1L295.4 610.0L294.0 609.9L292.7 609.9L291.3 609.8L290.0 609.7L288.7 609.6L287.4 609.5L286.1 609.4L284.8 609.3L283.5 609.1L282.2 609.0L281.0 608.9L279.7 608.8L278.5 608.6L277.3 608.5L276.1 608.3L274.9 608.2L273.7 608.0L272.5 607.8L271.4 607.6L270.2 607.4L269.1 607.2L268.0 607.0L266.8 606.7L265.7 606.4L264.7 606.1L263.6 605.8L262.5 605.5L261.5 605.1L260.4 604.8L259.4 604.3L258.4 603.9L257.4 603.4L256.4 602.9L255.4 602.3L254.5 601.7L253.5 601.0L252.6 600.3L251.7 599.5L250.8 598.6L249.9 597.7L249.0 596.7L248.2 595.7L247.3 594.5L246.5 593.3L245.7 592.0L244.9 590.6L244.1 589.1L243.3 587.5L242.6 585.7L241.8 583.9L241.1 582.0L240.4 579.9L239.7 577.8L239.0 575.5L238.4 573.1L237.7 570.6L237.1 568.0L236.5 565.2L235.9 562.4L235.4 559.5L234.8 556.5L234.3 553.4L233.8 550.3L233.3 547.1L232.9 543.9L232.4 540.7L232.0 537.5L231.6 534.3L231.3 531.3L230.9 528.3L230.6 525.4L230.3 522.8L230.1 520.3L229.9 518.2L229.7 516.4L229.6 515.1L229.5 514.4Z" fill="#d5d9d8" opacity="0.9"/>
<path d="M229.5 512.6L229.6 513.3L229.7 514.6L229.9 516.4L230.1 518.5L230.3 521.0L230.6 523.6L230.9 526.5L231.3 529.5L231.6 532.5L232.0 535.7L232.4 538.9L232.9 542.1L233.3 545.3L233.8 548.5L234.3 551.6L234.8 554.7L235.4 557.7L235.9 560.6L236.5 563.4L237.1 566.2L237.7 568.8L238.4 571.3L239.0 573.7L239.7 576.0L240.4 578.1L241.1 580.2L241.8 582.1L242.6 583.9L243.3 585.7L244.1 587.3L244.9 588.8L245.7 590.2L246.5 591.5L247.3 592.7L248.2 593.9L249.0 594.9L249.9 595.9L250.8 596.8L251.7 597.7L252.6 598.5L253.5 599.2L254.5 599.9L255.4 600.5L256.4 601.1L257.4 601.6L258.4 602.1L259.4 602.5L260.4 603.0L261.5 603.3L262.5 603.7L263.6 604.0L264.7 604.3L265.7 604.6L266.8 604.9L268.0 605.2L269.1 605.4L270.2 605.6L271.4 605.8L272.5 606.0L273.7 606.2L274.9 606.4L276.1 606.5L277.3 606.7L278.5 606.8L279.7 607.0L281.0 607.1L282.2 607.2L283.5 607.3L284.8 607.5L286.1 607.6L287.4 607.7L288.7 607.8L290.0 607.9L291.3 608.0L292.7 608.1L294.0 608.1L295.4 608.2L296.8 608.3L298.1 608.4L299.5 608.5L301.0 608.5L302.4 608.6L303.8 608.7L305.2 608.7L306.7 608.8L308.1 608.9L309.6 608.9L311.1 609.0L312.6 609.0L314.1 609.1L315.6 609.1L317.1 609.2L318.6 609.2L320.2 609.3L321.7 609.3L323.3 609.4L324.8 609.4L326.4 609.4L328.0 609.5L329.6 609.5" fill="none" stroke="#757878" stroke-width="1.8" stroke-dasharray="5 2.4"/>
<path d="M229.5 510.3L229.6 511.7L229.7 514.3L229.9 517.3L230.1 520.4L230.3 523.2L230.6 525.7L230.9 527.8L231.3 529.4L231.6 530.7L232.0 531.7L232.4 532.5L232.9 533.0L233.3 533.4L233.8 533.8L234.3 534.0L234.8 534.3L235.4 534.5L235.9 534.7L236.5 534.9L237.1 535.1L237.7 535.3L238.4 535.5L239.0 535.7L239.7 535.9L240.4 536.1L241.1 536.3L241.8 536.5L242.6 536.8L243.3 537.0L244.1 537.2L244.9 537.5L245.7 537.7L246.5 538.0L247.3 538.2L248.2 538.5L249.0 538.7L249.9 539.0L250.8 539.3L251.7 539.6L252.6 539.9L253.5 540.1L254.5 540.4L255.4 540.7L256.4 541.0L257.4 541.3L258.4 541.6L259.4 541.9L260.4 542.3L261.5 542.6L262.5 542.9L263.6 543.2L264.7 543.6L265.7 543.9L266.8 544.2L268.0 544.6L269.1 544.9L270.2 545.3L271.4 545.6L272.5 546.0L273.7 546.3L274.9 546.7L276.1 547.1L277.3 547.4L278.5 547.8L279.7 548.2L281.0 548.6L282.2 549.0L283.5 549.3L284.8 549.7L286.1 550.1L287.4 550.5L288.7 550.9L290.0 551.3L291.3 551.7L292.7 552.2L294.0 552.6L295.4 553.0L296.8 553.4L298.1 553.8L299.5 554.3L301.0 554.7L302.4 555.1L303.8 555.6L305.2 556.0L306.7 556.5L308.1 556.9L309.6 557.4L311.1 557.8L312.6 558.3L314.1 558.7L315.6 559.2L317.1 559.7L318.6 560.1L320.2 560.6L321.7 561.1L323.3 561.5L324.8 562.0L326.4 562.5L328.0 563.0L329.6 563.5L329.6 568.1L328.0 567.6L326.4 567.1L324.8 566.6L323.3 566.1L321.7 565.7L320.2 565.2L318.6 564.7L317.1 564.3L315.6 563.8L314.1 563.3L312.6 562.9L311.1 562.4L309.6 562.0L308.1 561.5L306.7 561.1L305.2 560.6L303.8 560.2L302.4 559.7L301.0 559.3L299.5 558.9L298.1 558.4L296.8 558.0L295.4 557.6L294.0 557.2L292.7 556.8L291.3 556.3L290.0 555.9L288.7 555.5L287.4 555.1L286.1 554.7L284.8 554.3L283.5 553.9L282.2 553.6L281.0 553.2L279.7 552.8L278.5 552.4L277.3 552.0L276.1 551.7L274.9 551.3L273.7 550.9L272.5 550.6L271.4 550.2L270.2 549.9L269.1 549.5L268.0 549.2L266.8 548.8L265.7 548.5L264.7 548.2L263.6 547.8L262.5 547.5L261.5 547.2L260.4 546.9L259.4 546.5L258.4 546.2L257.4 545.9L256.4 545.6L255.4 545.3L254.5 545.0L253.5 544.7L252.6 544.5L251.7 544.2L250.8 543.9L249.9 543.6L249.0 543.3L248.2 543.1L247.3 542.8L246.5 542.6L245.7 542.3L244.9 542.1L244.1 541.8L243.3 541.6L242.6 541.4L241.8 541.1L241.1 540.9L240.4 540.7L239.7 540.5L239.0 540.3L238.4 540.1L237.7 539.9L237.1 539.7L236.5 539.5L235.9 539.3L235.4 539.1L234.8 538.9L234.3 538.6L233.8 538.4L233.3 538.0L232.9 537.6L232.4 537.1L232.0 536.3L231.6 535.3L231.3 534.0L230.9 532.4L230.6 530.3L230.3 527.8L230.1 525.0L229.9 521.9L229.7 518.9L229.6 516.3L229.5 514.9Z" fill="#f0a79c" opacity="0.9"/>
<path d="M229.5 512.6L229.6 514.0L229.7 516.6L229.9 519.6L230.1 522.7L230.3 525.5L230.6 528.0L230.9 530.1L231.3 531.7L231.6 533.0L232.0 534.0L232.4 534.8L232.9 535.3L233.3 535.7L233.8 536.1L234.3 536.3L234.8 536.6L235.4 536.8L235.9 537.0L236.5 537.2L237.1 537.4L237.7 537.6L238.4 537.8L239.0 538.0L239.7 538.2L240.4 538.4L241.1 538.6L241.8 538.8L242.6 539.1L243.3 539.3L244.1 539.5L244.9 539.8L245.7 540.0L246.5 540.3L247.3 540.5L248.2 540.8L249.0 541.0L249.9 541.3L250.8 541.6L251.7 541.9L252.6 542.2L253.5 542.4L254.5 542.7L255.4 543.0L256.4 543.3L257.4 543.6L258.4 543.9L259.4 544.2L260.4 544.6L261.5 544.9L262.5 545.2L263.6 545.5L264.7 545.9L265.7 546.2L266.8 546.5L268.0 546.9L269.1 547.2L270.2 547.6L271.4 547.9L272.5 548.3L273.7 548.6L274.9 549.0L276.1 549.4L277.3 549.7L278.5 550.1L279.7 550.5L281.0 550.9L282.2 551.3L283.5 551.6L284.8 552.0L286.1 552.4L287.4 552.8L288.7 553.2L290.0 553.6L291.3 554.0L292.7 554.5L294.0 554.9L295.4 555.3L296.8 555.7L298.1 556.1L299.5 556.6L301.0 557.0L302.4 557.4L303.8 557.9L305.2 558.3L306.7 558.8L308.1 559.2L309.6 559.7L311.1 560.1L312.6 560.6L314.1 561.0L315.6 561.5L317.1 562.0L318.6 562.4L320.2 562.9L321.7 563.4L323.3 563.8L324.8 564.3L326.4 564.8L328.0 565.3L329.6 565.8" fill="none" stroke="#E04A32" stroke-width="2"/>
<path d="M229.5 512.6L229.6 513.1L229.7 514.2L229.9 515.4L230.1 516.7L230.3 518.0L230.6 519.2L230.9 520.3L231.3 521.3L231.6 522.1L232.0 522.8L232.4 523.5L232.9 524.0L233.3 524.5L233.8 525.0L234.3 525.4L234.8 525.9L235.4 526.3L235.9 526.7L236.5 527.2L237.1 527.6L237.7 528.0L238.4 528.5L239.0 528.9L239.7 529.4L240.4 529.9L241.1 530.3L241.8 530.8L242.6 531.3L243.3 531.8L244.1 532.3L244.9 532.9L245.7 533.4L246.5 533.9L247.3 534.5L248.2 535.0L249.0 535.5L249.9 536.1L250.8 536.7L251.7 537.2L252.6 537.8L253.5 538.4L254.5 538.9L255.4 539.5L256.4 540.1L257.4 540.7L258.4 541.3L259.4 541.9L260.4 542.5L261.5 543.1L262.5 543.7L263.6 544.3L264.7 544.9L265.7 545.5L266.8 546.1L268.0 546.7L269.1 547.3L270.2 547.9L271.4 548.5L272.5 549.1L273.7 549.7L274.9 550.3L276.1 551.0L277.3 551.6L278.5 552.2L279.7 552.8L281.0 553.4L282.2 554.0L283.5 554.6L284.8 555.2L286.1 555.8L287.4 556.4L288.7 557.0L290.0 557.6L291.3 558.2L292.7 558.8L294.0 559.4L295.4 560.0L296.8 560.6L298.1 561.2L299.5 561.8L301.0 562.4L302.4 563.0L303.8 563.5L305.2 564.1L306.7 564.7L308.1 565.3L309.6 565.8L311.1 566.4L312.6 567.0L314.1 567.5L315.6 568.1L317.1 568.6L318.6 569.2L320.2 569.7L321.7 570.3L323.3 570.8L324.8 571.3L326.4 571.9L328.0 572.4L329.6 572.9" fill="none" stroke="#F4B62C" stroke-width="2.6"/>
<path d="M223.0 512.6H229.5V618.4 M223.0 612.4H329.6 M223.0 562.5H229.5 M262.8 612.4v6 M296 612.4v6 M329.6 612.4v6" fill="none" stroke="#333" stroke-width="1.1"/>
<text x="219" y="616.0" font-size="10" fill="#222" text-anchor="end">0.0</text>
<text x="219" y="566.1" font-size="10" fill="#222" text-anchor="end">0.5</text>
<text x="219" y="516.2" font-size="10" fill="#222" text-anchor="end">1.0</text>
<text x="229.5" y="631.8" font-size="10" fill="#222" text-anchor="middle">0</text>
<text x="262.8" y="631.8" font-size="10" fill="#222" text-anchor="middle">200</text>
<text x="296" y="631.8" font-size="10" fill="#222" text-anchor="middle">400</text>
<text x="329.6" y="631.8" font-size="10" fill="#222" text-anchor="middle">600</text>
<text x="277.5" y="649.1" font-size="10" fill="#222" text-anchor="middle">Time (s)</text>
<text x="187.4" y="561" font-size="10" fill="#222" text-anchor="middle" transform="rotate(-90 187.4 561)">YFP fluorescence,</text>
<text x="199.7" y="561" font-size="10" fill="#222" text-anchor="middle" transform="rotate(-90 199.7 561)">normalized to max</text>
<text x="260.6" y="541" font-size="10.1" fill="#E04A32" font-weight="bold" transform="rotate(12 260.6 541)">YR-ICUE-mGold2t</text>
<text x="254.2" y="555.6" font-size="10.3" fill="#B8923E" font-weight="bold" transform="rotate(19 254.2 555.6)">YR-ICUE-mGold2s</text>
<text x="267" y="581.9" font-size="10.2" fill="#444" transform="rotate(12.6 267 581.9)">YR-ICUE-mGold</text>
<text x="258.8" y="602.8" font-size="10.1" fill="#444" transform="rotate(5.2 258.8 602.8)">YR-ICUE-mVenus</text>
<text x="375.6" y="497.6" font-size="8.8" fill="#222" transform="rotate(-7.4 375.6 497.6)">-Fsk/IBMX</text>
<text x="421.5" y="496.9" font-size="8.8" fill="#222" transform="rotate(-7.4 421.5 496.9)">+Fsk/IBMX</text>
<defs><filter id="kb" x="-30%" y="-30%" width="160%" height="160%"><feGaussianBlur stdDeviation="1.8"/></filter><filter id="kb2" x="-30%" y="-30%" width="160%" height="160%"><feGaussianBlur stdDeviation="1.1"/></filter></defs>
<defs><filter id="kb3" x="-30%" y="-30%" width="160%" height="160%"><feGaussianBlur stdDeviation="0.6"/></filter></defs>
<svg x="379.4" y="502" width="38" height="37.8" viewBox="0 0 38 37.8">
<rect width="38" height="37.8" fill="#030503"/>
<g opacity="0.8">
<g transform="rotate(0 31 6)" opacity="0.8"><ellipse cx="31" cy="6" rx="8" ry="7" fill="#0f2a1c" filter="url(#kb)"/></g>
<g transform="rotate(-15 8.5 9.8)" opacity="1.0"><ellipse cx="8.5" cy="9.8" rx="5.5" ry="9.5" fill="#1f5c3c" filter="url(#kb2)"/><ellipse cx="8.5" cy="9.8" rx="4.9" ry="8.9" fill="none" stroke="#2a7a50" stroke-width="1.0" opacity="0.6" filter="url(#kb2)"/><ellipse cx="8.5" cy="9.8" rx="3.2" ry="5.5" fill="#1a4a32" filter="url(#kb3)"/></g>
<g transform="rotate(-22 27.4 19.2)" opacity="1.0"><ellipse cx="27.4" cy="19.2" rx="9" ry="5.8" fill="#2a8a5c" filter="url(#kb2)"/><ellipse cx="27.4" cy="19.2" rx="8.4" ry="5.2" fill="none" stroke="#44b684" stroke-width="1.0" opacity="0.6" filter="url(#kb2)"/><ellipse cx="27.4" cy="19.2" rx="5.5" ry="3.4" fill="#2a6e4c" filter="url(#kb3)"/></g>
<g transform="rotate(5 14.2 25)" opacity="1.0"><ellipse cx="14.2" cy="25" rx="6.2" ry="10" fill="#38a070" filter="url(#kb2)"/><ellipse cx="14.2" cy="25" rx="5.6000000000000005" ry="9.4" fill="none" stroke="#48b888" stroke-width="1.0" opacity="0.6" filter="url(#kb2)"/><ellipse cx="13.7" cy="22" rx="3.6" ry="5" fill="#3a8a60" filter="url(#kb3)"/></g>
</g>
<text x="35.6" y="31.8" font-size="7.3" fill="#fff" stroke="#fff" stroke-width="0.15" text-anchor="end">10 µm</text>
<rect x="23.1" y="33.4" width="12.6" height="1.9" fill="#fff"/>
</svg>
<svg x="419.9" y="502" width="38.1" height="37.8" viewBox="0 0 38.1 37.8">
<rect width="38.1" height="37.8" fill="#030503"/>
<g opacity="0.8">
<g transform="rotate(0 33 14)" opacity="0.8"><ellipse cx="33" cy="14" rx="7" ry="12" fill="#4a1208" filter="url(#kb)"/></g>
<g transform="rotate(-15 8.5 9.8)" opacity="1.0"><ellipse cx="8.5" cy="9.8" rx="5.5" ry="9.5" fill="#6a4a20" filter="url(#kb2)"/><ellipse cx="8.5" cy="9.8" rx="4.9" ry="8.9" fill="none" stroke="#8a6a30" stroke-width="1.0" opacity="0.6" filter="url(#kb2)"/><ellipse cx="8.5" cy="9.8" rx="3.2" ry="5.5" fill="#5a3c1c" filter="url(#kb3)"/></g>
<g transform="rotate(-22 27.4 19.2)" opacity="1.0"><ellipse cx="27.4" cy="19.2" rx="9" ry="5.8" fill="#7a6034" filter="url(#kb2)"/><ellipse cx="27.4" cy="19.2" rx="8.4" ry="5.2" fill="none" stroke="#4aa880" stroke-width="1.0" opacity="0.6" filter="url(#kb2)"/><ellipse cx="27.4" cy="19.2" rx="5.5" ry="3.4" fill="#80582c" filter="url(#kb3)"/></g>
<g transform="rotate(5 14.2 25)" opacity="1.0"><ellipse cx="14.2" cy="25" rx="6.2" ry="10" fill="#b88a3c" filter="url(#kb2)"/><ellipse cx="14.2" cy="25" rx="5.6000000000000005" ry="9.4" fill="none" stroke="#c8a450" stroke-width="1.0" opacity="0.6" filter="url(#kb2)"/><ellipse cx="13.7" cy="22" rx="3.6" ry="5" fill="#a87c3c" filter="url(#kb3)"/></g>
<g transform="rotate(0 14.5 30)" opacity="0.9"><ellipse cx="14.5" cy="30" rx="2.5" ry="2" fill="#e8cc60" filter="url(#kb3)"/></g>
</g>
</svg>
<text x="367.9" y="520.9" font-size="8.6" fill="#333" text-anchor="middle" transform="rotate(-90 367.9 520.9)">YR-ICUE</text>
<text x="376.6" y="520.9" font-size="8.6" fill="#333" text-anchor="middle" transform="rotate(-90 376.6 520.9)">mVenus</text>
<svg x="379.4" y="543" width="38" height="37.6" viewBox="0 0 38 37.6">
<rect width="38" height="37.6" fill="#030503"/>
<g opacity="0.88">
<g transform="rotate(10 24.9 9.7)" opacity="1.0"><ellipse cx="24.9" cy="9.7" rx="7" ry="5.8" fill="#23583c" filter="url(#kb2)"/><ellipse cx="24.9" cy="9.7" rx="6.4" ry="5.2" fill="none" stroke="#2c7a50" stroke-width="1.0" opacity="0.6" filter="url(#kb2)"/><ellipse cx="25.4" cy="9.7" rx="3.8" ry="3.4" fill="#3a4a30" filter="url(#kb3)"/></g>
<g transform="rotate(30 30 17)" opacity="0.8"><ellipse cx="30" cy="17" rx="5" ry="3.5" fill="#1c4a32" filter="url(#kb2)"/></g>
<g transform="rotate(-35 4 28)" opacity="0.9"><ellipse cx="4" cy="28" rx="6" ry="3" fill="#2c8a58" filter="url(#kb2)"/></g>
<g transform="rotate(8 12.9 19.1)" opacity="1.0"><ellipse cx="12.9" cy="19.1" rx="8" ry="10" fill="#3cb070" filter="url(#kb2)"/><ellipse cx="12.9" cy="19.1" rx="7.4" ry="9.4" fill="none" stroke="#54cc8c" stroke-width="1.0" opacity="0.6" filter="url(#kb2)"/><ellipse cx="13.200000000000001" cy="20.6" rx="4.2" ry="4.6" fill="#56683e" filter="url(#kb3)"/></g>
<g transform="rotate(0 14 33)" opacity="0.8"><ellipse cx="14" cy="33" rx="3" ry="4" fill="#2a8050" filter="url(#kb2)"/></g>
</g>
<text x="35.6" y="31.8" font-size="7.3" fill="#fff" stroke="#fff" stroke-width="0.15" text-anchor="end">10 µm</text>
<rect x="23.1" y="33.4" width="12.6" height="1.9" fill="#fff"/>
</svg>
<svg x="419.9" y="543" width="38.1" height="37.6" viewBox="0 0 38.1 37.6">
<rect width="38.1" height="37.6" fill="#030503"/>
<g opacity="0.88">
<g transform="rotate(10 24.9 9.7)" opacity="1.0"><ellipse cx="24.9" cy="9.7" rx="7" ry="5.8" fill="#6a2c14" filter="url(#kb2)"/><ellipse cx="24.9" cy="9.7" rx="6.4" ry="5.2" fill="none" stroke="#a86428" stroke-width="1.0" opacity="0.6" filter="url(#kb2)"/><ellipse cx="25.4" cy="9.7" rx="3.8" ry="3.4" fill="#6a2410" filter="url(#kb3)"/></g>
<g transform="rotate(30 30 17)" opacity="0.8"><ellipse cx="30" cy="17" rx="5" ry="3.5" fill="#5a2410" filter="url(#kb2)"/></g>
<g transform="rotate(-35 4 28)" opacity="0.9"><ellipse cx="4" cy="28" rx="6" ry="3" fill="#9a5a24" filter="url(#kb2)"/></g>
<g transform="rotate(8 12.9 19.1)" opacity="1.0"><ellipse cx="12.9" cy="19.1" rx="8" ry="10" fill="#c08434" filter="url(#kb2)"/><ellipse cx="12.9" cy="19.1" rx="7.4" ry="9.4" fill="none" stroke="#d8b04c" stroke-width="1.0" opacity="0.6" filter="url(#kb2)"/><ellipse cx="13.200000000000001" cy="20.6" rx="4.2" ry="4.6" fill="#8e5a22" filter="url(#kb3)"/></g>
<g transform="rotate(0 15 33)" opacity="0.8"><ellipse cx="15" cy="33" rx="3" ry="4" fill="#b07830" filter="url(#kb2)"/></g>
</g>
</svg>
<text x="367.9" y="561.8" font-size="8.6" fill="#333" text-anchor="middle" transform="rotate(-90 367.9 561.8)">YR-ICUE</text>
<text x="376.6" y="561.8" font-size="8.6" fill="#333" text-anchor="middle" transform="rotate(-90 376.6 561.8)">mGold</text>
<svg x="379.4" y="583.4" width="38" height="37.8" viewBox="0 0 38 37.8">
<rect width="38" height="37.8" fill="#030503"/>
<g opacity="0.9">
<g transform="rotate(15 10 11)" opacity="1.0"><ellipse cx="10" cy="11" rx="10" ry="6.5" fill="#3c9858" filter="url(#kb2)"/><ellipse cx="10" cy="11" rx="9.4" ry="5.9" fill="none" stroke="#58b870" stroke-width="1.0" opacity="0.6" filter="url(#kb2)"/><ellipse cx="10" cy="11.5" rx="4.8" ry="3.6" fill="#667840" filter="url(#kb3)"/></g>
<g transform="rotate(10 27 13)" opacity="1.0"><ellipse cx="27" cy="13" rx="8" ry="6.5" fill="#348850" filter="url(#kb2)"/><ellipse cx="27" cy="13" rx="7.4" ry="5.9" fill="none" stroke="#4aa864" stroke-width="1.0" opacity="0.6" filter="url(#kb2)"/><ellipse cx="27" cy="13" rx="4.6" ry="4" fill="#5c6c3c" filter="url(#kb3)"/></g>
<g transform="rotate(14 17 23.5)" opacity="1.0"><ellipse cx="17" cy="23.5" rx="15" ry="6.5" fill="#48c070" filter="url(#kb2)"/><ellipse cx="17" cy="23.5" rx="14.4" ry="5.9" fill="none" stroke="#60d888" stroke-width="1.0" opacity="0.6" filter="url(#kb2)"/><ellipse cx="21.5" cy="24.5" rx="4.5" ry="3.4" fill="#5a8a50" filter="url(#kb3)"/></g>
</g>
<text x="35.6" y="31.8" font-size="7.3" fill="#fff" stroke="#fff" stroke-width="0.15" text-anchor="end">10 µm</text>
<rect x="23.1" y="33.4" width="12.6" height="1.9" fill="#fff"/>
</svg>
<svg x="419.9" y="583.4" width="38.1" height="37.8" viewBox="0 0 38.1 37.8">
<rect width="38.1" height="37.8" fill="#030503"/>
<g opacity="0.9">
<g transform="rotate(15 10 11)" opacity="1.0"><ellipse cx="10" cy="11" rx="10" ry="6.5" fill="#a82a18" filter="url(#kb2)"/><ellipse cx="10" cy="11" rx="9.4" ry="5.9" fill="none" stroke="#c84420" stroke-width="1.0" opacity="0.6" filter="url(#kb2)"/><ellipse cx="10" cy="11.5" rx="4.8" ry="3.6" fill="#6e2c14" filter="url(#kb3)"/></g>
<g transform="rotate(10 27 13)" opacity="1.0"><ellipse cx="27" cy="13" rx="8" ry="6.5" fill="#8a2412" filter="url(#kb2)"/><ellipse cx="27" cy="13" rx="7.4" ry="5.9" fill="none" stroke="#b03c1c" stroke-width="1.0" opacity="0.6" filter="url(#kb2)"/><ellipse cx="27" cy="13" rx="4.6" ry="4" fill="#5c200e" filter="url(#kb3)"/></g>
<g transform="rotate(14 17 23.5)" opacity="1.0"><ellipse cx="17" cy="23.5" rx="15" ry="6.5" fill="#d88a2c" filter="url(#kb2)"/><ellipse cx="17" cy="23.5" rx="14.4" ry="5.9" fill="none" stroke="#d8482c" stroke-width="1.0" opacity="0.6" filter="url(#kb2)"/><ellipse cx="21.5" cy="24.5" rx="4.5" ry="3.4" fill="#a87434" filter="url(#kb3)"/></g>
<g transform="rotate(14 13.5 22)" opacity="0.9"><ellipse cx="13.5" cy="22" rx="5" ry="3" fill="#f2d040" filter="url(#kb3)"/></g>
</g>
</svg>
<text x="367.9" y="602.3" font-size="8.6" fill="#B8923E" text-anchor="middle" font-weight="bold" transform="rotate(-90 367.9 602.3)">YR-ICUE</text>
<text x="376.6" y="602.3" font-size="8.6" fill="#B8923E" text-anchor="middle" font-weight="bold" transform="rotate(-90 376.6 602.3)">mGold2s</text>
<svg x="379.4" y="624.2" width="38" height="38" viewBox="0 0 38 38">
<rect width="38" height="38" fill="#030503"/>
<g opacity="0.92">
<g transform="rotate(-25 32 2)" opacity="0.95"><ellipse cx="32" cy="2" rx="8" ry="4" fill="#44b868" filter="url(#kb2)"/></g>
<g transform="rotate(15 27 14)" opacity="1.0"><ellipse cx="27" cy="14" rx="6" ry="7.5" fill="#38945c" filter="url(#kb2)"/><ellipse cx="27" cy="14" rx="5.4" ry="6.9" fill="none" stroke="#4cb070" stroke-width="1.0" opacity="0.6" filter="url(#kb2)"/><ellipse cx="27" cy="15" rx="3.6" ry="4.6" fill="#3a845a" filter="url(#kb3)"/></g>
<g transform="rotate(0 13 11)" opacity="1.0"><ellipse cx="13" cy="11" rx="8.5" ry="8" fill="#50c878" filter="url(#kb2)"/><ellipse cx="13" cy="11" rx="7.9" ry="7.4" fill="none" stroke="#68e094" stroke-width="1.0" opacity="0.6" filter="url(#kb2)"/></g>
<g transform="rotate(-8 17 26)" opacity="1.0"><ellipse cx="17" cy="26" rx="6.5" ry="12" fill="#48c070" filter="url(#kb2)"/></g>
<g transform="rotate(0 24 6.5)" opacity="1.0"><ellipse cx="24" cy="6.5" rx="2.2" ry="2" fill="#2c6a44" filter="url(#kb2)"/><ellipse cx="24" cy="6.5" rx="1.6" ry="1.4" fill="none" stroke="#58c880" stroke-width="1.0" opacity="0.6" filter="url(#kb2)"/></g>
</g>
<text x="35.6" y="31.8" font-size="7.3" fill="#fff" stroke="#fff" stroke-width="0.15" text-anchor="end">10 µm</text>
<rect x="23.1" y="33.4" width="12.6" height="1.9" fill="#fff"/>
</svg>
<svg x="419.9" y="624.2" width="38.1" height="38" viewBox="0 0 38.1 38">
<rect width="38.1" height="38" fill="#030503"/>
<g opacity="0.92">
<g transform="rotate(-25 32 2)" opacity="0.95"><ellipse cx="32" cy="2" rx="8" ry="4" fill="#e08a28" filter="url(#kb2)"/></g>
<g transform="rotate(15 27 14)" opacity="1.0"><ellipse cx="27" cy="14" rx="6" ry="7.5" fill="#a85c20" filter="url(#kb2)"/><ellipse cx="27" cy="14" rx="5.4" ry="6.9" fill="none" stroke="#c87428" stroke-width="1.0" opacity="0.6" filter="url(#kb2)"/><ellipse cx="27" cy="15" rx="3.6" ry="4.6" fill="#985420" filter="url(#kb3)"/></g>
<g transform="rotate(0 13 11)" opacity="1.0"><ellipse cx="13" cy="11" rx="8.5" ry="8" fill="#eca02c" filter="url(#kb2)"/><ellipse cx="13" cy="11" rx="7.9" ry="7.4" fill="none" stroke="#d84a24" stroke-width="1.0" opacity="0.6" filter="url(#kb2)"/></g>
<g transform="rotate(-8 17 26)" opacity="1.0"><ellipse cx="17" cy="26" rx="6.5" ry="12" fill="#e29430" filter="url(#kb2)"/><ellipse cx="17" cy="26" rx="5.9" ry="11.4" fill="none" stroke="#c8401c" stroke-width="1.0" opacity="0.6" filter="url(#kb2)"/></g>
<g transform="rotate(-8 15 17)" opacity="0.85"><ellipse cx="15" cy="17" rx="4" ry="7" fill="#f6c840" filter="url(#kb3)"/></g>
<g transform="rotate(0 24 6.5)" opacity="1.0"><ellipse cx="24" cy="6.5" rx="2.2" ry="2" fill="#a85a20" filter="url(#kb2)"/><ellipse cx="24" cy="6.5" rx="1.6" ry="1.4" fill="none" stroke="#e89430" stroke-width="1.0" opacity="0.6" filter="url(#kb2)"/></g>
</g>
</svg>
<text x="367.9" y="643.2" font-size="8.6" fill="#E04A32" text-anchor="middle" font-weight="bold" transform="rotate(-90 367.9 643.2)">YR-ICUE</text>
<text x="376.6" y="643.2" font-size="8.6" fill="#E04A32" text-anchor="middle" font-weight="bold" transform="rotate(-90 376.6 643.2)">mGold2t</text>
<defs><linearGradient id="fret" x1="0" y1="0" x2="0" y2="1">
<stop offset="0" stop-color="#a890a0"/><stop offset="0.03" stop-color="#b070a0"/><stop offset="0.06" stop-color="#c03080"/><stop offset="0.10" stop-color="#d82050"/><stop offset="0.17" stop-color="#e82030"/><stop offset="0.24" stop-color="#e02830"/><stop offset="0.31" stop-color="#b05030"/><stop offset="0.365" stop-color="#8a7030"/><stop offset="0.435" stop-color="#6a9040"/><stop offset="0.505" stop-color="#30a848"/><stop offset="0.615" stop-color="#2ca850"/><stop offset="0.67" stop-color="#209860"/><stop offset="0.72" stop-color="#2070a0"/><stop offset="0.755" stop-color="#2858b0"/><stop offset="0.87" stop-color="#303890"/><stop offset="0.94" stop-color="#1a1a50"/><stop offset="1" stop-color="#000"/>
</linearGradient></defs>
<rect x="463.1" y="506.8" width="8.1" height="146" fill="url(#fret)"/>
<path d="M463.1 584.8H471.2" stroke="#1a3a1a" stroke-width="0.8"/>
<text x="463.6" y="505.3" font-size="10" fill="#222">Low FRET</text>
<text x="473.3" y="514.8" font-size="10" fill="#222">1.9</text>
<text x="475.3" y="588.7" font-size="10" fill="#222">1.0</text>
<text x="475" y="654.3" font-size="10" fill="#222">0</text>
<text x="463.6" y="663.0" font-size="10" fill="#222">High FRET</text>
<path d="M562.1 512.3H569.6V612.3 M562.1 612.3H670 M562.1 545.6H569.6 M562.1 579.0H569.6 M584.5 612.3v5.5 M607.6 612.3v5.5 M630.4 612.3v5.5 M654 612.3v5.5" fill="none" stroke="#333" stroke-width="1.1"/>
<text x="560.4" y="616.3" font-size="10" fill="#222" text-anchor="end">0.0</text>
<text x="560.4" y="582.97" font-size="10" fill="#222" text-anchor="end">0.2</text>
<text x="560.4" y="549.63" font-size="10" fill="#222" text-anchor="end">0.4</text>
<text x="560.4" y="516.3" font-size="10" fill="#222" text-anchor="end">0.6</text>
<path d="M584.6 529.6V574.2 M580.9 529.6h7.4 M580.9 574.2h7.4" stroke="#85888a" stroke-width="1.8" fill="none"/>
<rect x="577.8000000000001" y="547.1999999999999" width="13.6" height="9.9" fill="#e4e4e5" stroke="#85888a" stroke-width="1.9"/>
<path d="M577.8000000000001 552.2h13.6" stroke="#85888a" stroke-width="1.7"/>
<path d="M579.2 549.7h10.8 M579.2 554.7h10.8" stroke="#85888a" stroke-width="0.6" stroke-dasharray="1 1.6" opacity="0.55"/>
<path d="M607.7 535.8V573.7 M604.0 535.8h7.4 M604.0 573.7h7.4" stroke="#85888a" stroke-width="1.8" fill="none"/>
<rect x="600.9000000000001" y="551.3" width="13.6" height="9.0" fill="#e4e4e5" stroke="#85888a" stroke-width="1.9"/>
<path d="M600.9000000000001 555.8h13.6" stroke="#85888a" stroke-width="1.7"/>
<path d="M602.3000000000001 553.4h10.8 M602.3000000000001 558.2h10.8" stroke="#85888a" stroke-width="0.6" stroke-dasharray="1 1.6" opacity="0.55"/>
<path d="M630.7 538.2V574 M627.0 538.2h7.4 M627.0 574h7.4" stroke="#E8B23E" stroke-width="1.8" fill="none"/>
<rect x="623.9000000000001" y="547.9" width="13.6" height="9.4" fill="#f9eed4" stroke="#E8B23E" stroke-width="1.9"/>
<path d="M623.9000000000001 552.3h13.6" stroke="#E8B23E" stroke-width="1.7"/>
<path d="M625.3000000000001 550.2h10.8 M625.3000000000001 554.4h10.8" stroke="#E8B23E" stroke-width="0.6" stroke-dasharray="1 1.6" opacity="0.55"/>
<path d="M653.8 537.2V579.9 M650.0999999999999 537.2h7.4 M650.0999999999999 579.9h7.4" stroke="#E04A32" stroke-width="1.8" fill="none"/>
<rect x="647.0" y="550.9" width="13.6" height="10.8" fill="#f8d7d1" stroke="#E04A32" stroke-width="1.9"/>
<path d="M647.0 556.4h13.6" stroke="#E04A32" stroke-width="1.7"/>
<path d="M648.4 554h10.8 M648.4 558.8h10.8" stroke="#E04A32" stroke-width="0.6" stroke-dasharray="1 1.6" opacity="0.55"/>
<text x="607.6" y="527.7" font-size="15" fill="#222" text-anchor="middle">*</text>
<text x="630.2" y="524.0" font-size="8.5" fill="#222" text-anchor="middle">ns</text>
<text x="654" y="527.7" font-size="15" fill="#222" text-anchor="middle">***</text>
<text x="535.8" y="560" font-size="10.3" fill="#222" text-anchor="middle" transform="rotate(-90 535.8 560)">Response ratio, Δ<tspan font-style="italic">R</tspan>/<tspan font-style="italic">R</tspan><tspan font-size="7" dy="2">0</tspan></text>
<text x="580.5" y="622.5" font-size="9.1" fill="#444" text-anchor="end" transform="rotate(-45 580.5 622.5)">YR-ICUE</text>
<text x="584.5" y="631.5" font-size="9.1" fill="#444" text-anchor="end" transform="rotate(-45 584.5 631.5)">mVenus</text>
<text x="606" y="623" font-size="9.1" fill="#444" text-anchor="end" transform="rotate(-45 606 623)">YR-ICUE</text>
<text x="610" y="633.5" font-size="9.1" fill="#444" text-anchor="end" transform="rotate(-45 610 633.5)">mGold</text>
<text x="634.5" y="624.5" font-size="9.1" fill="#B8923E" text-anchor="end" font-weight="bold" transform="rotate(-45 634.5 624.5)">YR-ICUE</text>
<text x="642.5" y="633" font-size="9.1" fill="#B8923E" text-anchor="end" font-weight="bold" transform="rotate(-45 642.5 633)">mGold2s</text>
<text x="665" y="624.5" font-size="9.1" fill="#E04A32" text-anchor="end" font-weight="bold" transform="rotate(-45 665 624.5)">YR-ICUE</text>
<text x="673.5" y="633" font-size="9.1" fill="#E04A32" text-anchor="end" font-weight="bold" transform="rotate(-45 673.5 633)">mGold2t</text>
<path d="M53.8 755.7L69 739.6L89.1 767.7L61.8 795Z" fill="#eef3d3"/>
<path d="M54.3 691.2C55.5 691.6 54.7 696.5 56.2 701.0C57.7 705.5 57.8 707.1 60.2 709.1C62.7 711.1 62.6 710.2 66.0 709.0C69.4 707.8 72.7 702.8 73.9 704.4C75.1 706.0 71.1 710.9 70.7 715.5C70.3 720.1 69.0 720.1 72.3 722.7C75.5 725.3 82.9 724.3 83.7 726.0C84.5 727.7 78.8 727.6 75.5 729.4C72.2 731.2 72.3 730.9 70.7 733.2C69.1 735.6 70.6 736.2 69.0 738.8C67.4 741.4 66.6 741.6 64.2 743.6C61.8 745.6 61.6 743.5 59.4 746.8C57.2 750.1 57.2 756.4 55.4 756.8C53.6 757.2 54.0 750.9 52.2 748.4C50.4 745.9 50.8 746.6 48.2 746.8C45.6 747.0 45.2 746.4 41.8 749.2C38.4 752.1 36.9 758.2 34.5 758.2C32.1 758.2 33.3 753.5 32.1 749.2C30.9 745.0 31.7 745.6 29.7 741.2C27.7 736.8 28.8 736.1 24.1 731.6C19.4 727.1 11.8 725.9 11.0 723.3C10.2 720.7 15.6 723.0 20.9 721.1C26.2 719.2 27.9 718.3 32.1 715.5C36.3 712.7 34.1 712.3 37.7 709.9C41.3 707.5 43.2 708.5 46.6 705.9C50.0 703.3 49.5 703.2 51.4 699.5C53.3 695.8 53.1 690.8 54.3 691.2Z" fill="#E8A93A" stroke="#222" stroke-width="1" stroke-linejoin="round"/>
<ellipse cx="50.6" cy="728" rx="8.4" ry="9.6" fill="#7f8186" stroke="#222" stroke-width="1"/>
<path d="M0 -10 C3 -8 6.5 -4 7 -1 C6.5 3 3 8 0 10 C-3 8 -6.5 4 -7 1 C-6.5 -3 -3 -8 0 -10Z" fill="#E8A93A" stroke="#222" stroke-width="1.09" transform="translate(60.5 763.7) rotate(22) scale(0.55)"/>
<path d="M0 -10 C3 -8 6.5 -4 7 -1 C6.5 3 3 8 0 10 C-3 8 -6.5 4 -7 1 C-6.5 -3 -3 -8 0 -10Z" fill="#E8A93A" stroke="#222" stroke-width="1.09" transform="translate(69 772.5) rotate(22) scale(0.55)"/>
<ellipse cx="68.6" cy="748.9" rx="1.5" ry="2.6" fill="#1f9a5a" stroke="#246" stroke-width="0.3" transform="rotate(60 68.6 748.9)"/>
<ellipse cx="75.2" cy="772.5" rx="1.5" ry="2.6" fill="#1f9a5a" stroke="#246" stroke-width="0.3" transform="rotate(-10 75.2 772.5)"/>
<ellipse cx="68.3" cy="760.2" rx="1.5" ry="2.6" fill="#2a9ad8" stroke="#246" stroke-width="0.3" transform="rotate(0 68.3 760.2)"/>
<ellipse cx="80.3" cy="766.1" rx="1.5" ry="2.6" fill="#2a9ad8" stroke="#246" stroke-width="0.3" transform="rotate(-15 80.3 766.1)"/>
<text x="84" y="753.8" font-size="10" fill="#222">Cell lysis</text>
<text x="157.2" y="764.5" font-size="10" fill="#222">anti-GFP/YFP</text>
<text x="157.2" y="774.5" font-size="10" fill="#222">antibody</text>
<text x="131.6" y="783.5" font-size="10" fill="#222">YFP</text>
<path d="M174 777.5L170.6 794.5" stroke="#111" stroke-width="1.1"/><path d="M169.6 799.4L167.6 792.6L173.6 793.8Z" fill="#111"/>
<path d="M100.2 837.5V814.6 M102.60000000000001 837.5V814.6" fill="none" stroke="#333" stroke-width="0.8"/>
<path d="M100.2 814.6L90.2 803 M101.4 812.2L92.0 802.6" fill="none" stroke="#333" stroke-width="0.8"/>
<path d="M102.60000000000001 814.6L112.60000000000001 803 M101.4 812.2L110.80000000000001 802.6" fill="none" stroke="#333" stroke-width="0.8"/>
<path d="M126.6 837.5V814.6 M129.0 837.5V814.6" fill="none" stroke="#333" stroke-width="0.8"/>
<path d="M126.6 814.6L116.6 803 M127.8 812.2L118.39999999999999 802.6" fill="none" stroke="#333" stroke-width="0.8"/>
<path d="M129.0 814.6L139.0 803 M127.8 812.2L137.2 802.6" fill="none" stroke="#333" stroke-width="0.8"/>
<path d="M158.5 837.5V814.6 M160.89999999999998 837.5V814.6" fill="none" stroke="#333" stroke-width="0.8"/>
<path d="M158.5 814.6L148.5 803 M159.7 812.2L150.29999999999998 802.6" fill="none" stroke="#333" stroke-width="0.8"/>
<path d="M160.89999999999998 814.6L170.89999999999998 803 M159.7 812.2L169.1 802.6" fill="none" stroke="#333" stroke-width="0.8"/>
<path d="M185.4 837.5V814.6 M187.79999999999998 837.5V814.6" fill="none" stroke="#333" stroke-width="0.8"/>
<path d="M185.4 814.6L175.4 803 M186.6 812.2L177.2 802.6" fill="none" stroke="#333" stroke-width="0.8"/>
<path d="M187.79999999999998 814.6L197.79999999999998 803 M186.6 812.2L196.0 802.6" fill="none" stroke="#333" stroke-width="0.8"/>
<path d="M0 -10.4 C3.5 -9.5 6.3 -4.5 6.3 -0.5 C6.3 3.5 3 8.5 0 10.4 C-3.5 9.5 -6.3 4.5 -6.3 0.5 C-6.3 -3.5 -3 -8.5 0 -10.4Z" fill="#E9AD3E" stroke="#222" stroke-width="0.9" transform="translate(88.3 796.2) rotate(22)"/>
<path d="M0 -10.4 C3.5 -9.5 6.3 -4.5 6.3 -0.5 C6.3 3.5 3 8.5 0 10.4 C-3.5 9.5 -6.3 4.5 -6.3 0.5 C-6.3 -3.5 -3 -8.5 0 -10.4Z" fill="#E9AD3E" stroke="#222" stroke-width="0.9" transform="translate(146.3 796.2) rotate(22)"/>
<rect x="85.2" y="837.6" width="114.6" height="6.3" fill="#77797c" stroke="#2a2a2a" stroke-width="0.8"/>
<path d="M206.3 796.5H222.1" stroke="#111" stroke-width="1.5"/>
<path d="M219.6 790.9L229.4 796.5L219.6 802.1L221.6 796.5Z" fill="#111"/>
<rect x="224" y="726.2" width="128.3" height="25.7" fill="#e1e2e3"/>
<text x="288" y="736.1" font-size="9.9" fill="#222" text-anchor="middle">Measure photobleaching</text>
<text x="288" y="746.9" font-size="9.9" fill="#222" text-anchor="middle">life-time</text>
<text x="251" y="769.5" font-size="10" fill="#222">Life-time</text>
<path d="M257 775.5H283" stroke="#111" stroke-width="1.5"/><path d="M252.4 775.5L259.6 771.7V779.3Z M287.3 775.5L280.1 771.7V779.3Z" fill="#111"/>
<path d="M251.9 786.7L252.3 786.9L252.6 798.2L253.0 779.8L253.3 793.1L253.7 780.0L254.1 800.8L254.4 795.3L254.8 802.4L255.1 790.9L255.5 796.5L255.9 792.2L256.2 789.4L256.6 794.9L256.9 786.2L257.3 791.8L257.7 798.3L258.0 794.4L258.4 791.5L258.7 807.6L259.1 794.4L259.5 790.4L259.8 795.0L260.2 790.8L260.5 791.6L260.9 791.8L261.3 806.6L261.6 794.1L262.0 795.1L262.3 798.2L262.7 806.5L263.1 792.6L263.4 790.1L263.8 809.3L264.1 785.0L264.5 791.7L264.9 798.1L265.2 808.2L265.6 788.1L265.9 778.9L266.3 798.1L266.7 790.8L267.0 791.6L267.4 796.9L267.7 795.4L268.1 795.8L268.5 791.3L268.8 802.0L269.2 803.3L269.5 794.2L269.9 791.2L270.3 798.5L270.6 797.0L271.0 787.5L271.3 791.1L271.7 800.5L272.1 793.4L272.4 792.0L272.8 795.3L273.1 793.8L273.5 794.0L273.9 782.0L274.2 804.8L274.6 795.2L274.9 788.6L275.3 800.1L275.7 795.9L276.0 794.1L276.4 800.5L276.7 808.0L277.1 797.4L277.5 803.8L277.8 807.4L278.2 787.7L278.5 790.8L278.9 798.8L279.3 783.4L279.6 792.3L280.0 802.0L280.3 800.5L280.7 797.6L281.1 782.2L281.4 808.6L281.8 797.4L282.1 798.8L282.5 797.1L282.9 783.4L283.2 785.1L283.6 786.5L283.9 805.9L284.3 788.8L284.7 792.5L285.0 792.4L285.4 797.5L285.7 797.1L286.1 795.7L286.6 812.0L287.2 826.2L287.6 820.9L288.0 830.2L288.3 830.5L288.7 833.1L289.1 829.4L289.5 828.0L289.9 830.8L290.2 825.3L290.6 826.8L291.0 826.9L291.4 830.5L291.8 835.6L292.1 831.8L292.5 832.9L292.9 830.4L293.3 830.5L293.7 828.4L294.0 828.9L294.4 822.9L294.8 826.3L295.2 826.1L295.6 832.0L295.9 831.6L296.3 832.9L296.7 834.1L297.1 828.8L297.5 832.7L297.8 835.2L298.2 829.7L298.6 832.7L299.0 829.2L299.4 825.2L299.7 830.0L300.1 827.4L300.5 830.0L300.9 828.4L301.3 830.6L301.6 823.7L302.0 835.5L302.4 833.5L302.8 828.7L303.2 827.2L303.5 829.7L303.9 831.6L304.3 830.9L304.7 830.8L305.1 824.2L305.4 826.5L305.8 833.5L306.2 830.4L306.6 825.4L307.0 827.3L307.3 825.6L307.7 826.8L308.1 833.0L308.5 829.1L308.9 832.9L309.2 830.2L309.6 825.4L310.0 827.9L310.4 836.2L310.8 827.5L311.1 826.7L311.5 833.2L311.9 830.0L312.3 829.7L312.7 833.9L313.0 824.7L313.4 830.9L313.8 826.7L314.2 825.7L314.6 827.4L314.9 833.0L315.3 829.3L315.7 824.5L316.1 826.5L316.5 834.1L316.8 832.6L317.2 826.6L317.6 836.6L318.0 828.7L318.4 826.3L318.7 829.3L319.1 832.4L319.5 834.3L319.9 832.6L320.3 828.5L320.6 828.1L321.0 825.5L321.4 829.5L321.8 828.0L322.2 830.4L322.5 826.1L322.9 828.2L323.3 827.2L323.7 826.3L324.1 826.3L324.4 826.8L324.8 826.3L325.2 831.3L325.6 830.0L326.0 825.9L326.3 831.2L326.7 830.5L327.1 833.9L327.5 829.1L327.9 829.1L328.2 827.7L328.6 830.1L329.0 831.1L329.4 830.2L329.8 829.0L330.1 831.3L330.5 830.0L330.9 830.4L331.3 827.0L331.7 830.3" fill="none" stroke="#E8B040" stroke-width="0.95" stroke-linejoin="round"/>
<path d="M249.3 774.3V839.5H335" fill="none" stroke="#222" stroke-width="0.9"/>
<text x="244.3" y="807.5" font-size="10.1" fill="#222" text-anchor="middle" transform="rotate(-90 244.3 807.5)">Fluorescence</text>
<text x="290" y="851.3" font-size="10" fill="#222" text-anchor="middle">Time(s)</text>
<text x="398.3" y="816.0" font-size="10.3" fill="#222" text-anchor="end">0</text>
<text x="398.3" y="782.63" font-size="10.3" fill="#222" text-anchor="end">4</text>
<text x="398.3" y="749.27" font-size="10.3" fill="#222" text-anchor="end">8</text>
<text x="398.3" y="715.9" font-size="10.3" fill="#222" text-anchor="end">12</text>
<text x="406.2" y="831.3" font-size="10" fill="#222" text-anchor="middle">0.0</text>
<text x="431.34999999999997" y="831.3" font-size="10" fill="#222" text-anchor="middle">0.5</text>
<text x="456.5" y="831.3" font-size="10" fill="#222" text-anchor="middle">1.0</text>
<text x="481.65" y="831.3" font-size="10" fill="#222" text-anchor="middle">1.5</text>
<text x="506.79999999999995" y="831.3" font-size="10" fill="#222" text-anchor="middle">2.0</text>
<text x="453" y="847.9" font-size="10.3" fill="#222" text-anchor="middle">Power (mW)</text>
<text x="379.3" y="763.8" font-size="10" fill="#222" text-anchor="middle" transform="rotate(-90 379.3 763.8)">Photobleaching lifetime (s)</text>
<path d="M432.7081 787.4V796.4 M429.8081 787.4h5.8 M429.8081 796.4h5.8" stroke="#9a9c9e" stroke-width="1" fill="none"/>
<path d="M456.5 795V801 M453.6 795h5.8 M453.6 801h5.8" stroke="#9a9c9e" stroke-width="1" fill="none"/>
<path d="M506.79999999999995 799.4V801.8000000000001 M503.9 799.4h5.8 M503.9 801.8000000000001h5.8" stroke="#9a9c9e" stroke-width="1" fill="none"/>
<path d="M432.7 791.9L456.5 798.0L506.8 800.6" fill="none" stroke="#9a9c9e" stroke-width="2.4" stroke-dasharray="5.5 2.6"/>
<circle cx="432.7081" cy="791.9" r="2.7" fill="#9a9c9e"/>
<circle cx="456.5" cy="798" r="2.7" fill="#9a9c9e"/>
<circle cx="506.79999999999995" cy="800.6" r="2.7" fill="#9a9c9e"/>
<path d="M432.7081 782.0V785.0 M429.8081 782.0h5.8 M429.8081 785.0h5.8" stroke="#1a1a1a" stroke-width="1" fill="none"/>
<path d="M456.5 791.0V793.4000000000001 M453.6 791.0h5.8 M453.6 793.4000000000001h5.8" stroke="#1a1a1a" stroke-width="1" fill="none"/>
<path d="M506.79999999999995 798.8V800.8 M503.9 798.8h5.8 M503.9 800.8h5.8" stroke="#1a1a1a" stroke-width="1" fill="none"/>
<path d="M432.7 783.5L456.5 792.2L506.8 799.8" fill="none" stroke="#1a1a1a" stroke-width="2.4"/>
<circle cx="432.7081" cy="783.5" r="2.7" fill="#1a1a1a"/>
<circle cx="456.5" cy="792.2" r="2.7" fill="#1a1a1a"/>
<circle cx="506.79999999999995" cy="799.8" r="2.7" fill="#1a1a1a"/>
<path d="M432.7081 768.9V772.9 M429.8081 768.9h5.8 M429.8081 772.9h5.8" stroke="#a4a6a8" stroke-width="1" fill="none"/>
<path d="M456.5 785.8V790.8 M453.6 785.8h5.8 M453.6 790.8h5.8" stroke="#a4a6a8" stroke-width="1" fill="none"/>
<path d="M506.79999999999995 795.5V797.9000000000001 M503.9 795.5h5.8 M503.9 797.9000000000001h5.8" stroke="#a4a6a8" stroke-width="1" fill="none"/>
<path d="M432.7 770.9L456.5 788.3L506.8 796.7" fill="none" stroke="#a4a6a8" stroke-width="2.4"/>
<circle cx="432.7081" cy="770.9" r="2.7" fill="#a4a6a8"/>
<circle cx="456.5" cy="788.3" r="2.7" fill="#a4a6a8"/>
<circle cx="506.79999999999995" cy="796.7" r="2.7" fill="#a4a6a8"/>
<path d="M432.7081 750.7V767.2 M429.8081 750.7h5.8 M429.8081 767.2h5.8" stroke="#f0c870" stroke-width="1" fill="none"/>
<path d="M456.5 774.0V781.0 M453.6 774.0h5.8 M453.6 781.0h5.8" stroke="#f0c870" stroke-width="1" fill="none"/>
<path d="M506.79999999999995 790.2V795.2 M503.9 790.2h5.8 M503.9 795.2h5.8" stroke="#f0c870" stroke-width="1" fill="none"/>
<path d="M432.7 761.2L456.5 777.5L506.8 792.7" fill="none" stroke="#EDB338" stroke-width="2.4"/>
<circle cx="432.7081" cy="761.2" r="2.7" fill="#EDB338"/>
<circle cx="456.5" cy="777.5" r="2.7" fill="#EDB338"/>
<circle cx="506.79999999999995" cy="792.7" r="2.7" fill="#EDB338"/>
<path d="M432.7081 715.1999999999999V751.3 M429.8081 715.1999999999999h5.8 M429.8081 751.3h5.8" stroke="#ee9080" stroke-width="1" fill="none"/>
<path d="M456.5 766.7V775.7 M453.6 766.7h5.8 M453.6 775.7h5.8" stroke="#ee9080" stroke-width="1" fill="none"/>
<path d="M506.79999999999995 787.1V793.1 M503.9 787.1h5.8 M503.9 793.1h5.8" stroke="#ee9080" stroke-width="1" fill="none"/>
<path d="M432.7 743.3L456.5 771.2L506.8 790.1" fill="none" stroke="#E04A32" stroke-width="2.4"/>
<circle cx="432.7081" cy="743.3" r="2.7" fill="#E04A32"/>
<circle cx="456.5" cy="771.2" r="2.7" fill="#E04A32"/>
<circle cx="506.79999999999995" cy="790.1" r="2.7" fill="#E04A32"/>
<path d="M400.0 711.8H406.2V811.9 M400.0 811.9H506.79999999999995 M400.0 778.5H406.2 M400.0 745.2H406.2 M406.2 811.9v5 M431.34999999999997 811.9v5 M456.5 811.9v5 M481.65 811.9v5 M506.79999999999995 811.9v5" fill="none" stroke="#333" stroke-width="1.1"/>
<text x="438.5" y="744.7" font-size="10.1" fill="#E04A32" font-weight="bold">mGold2t</text>
<text x="457" y="758.5" font-size="10.1" fill="#B8923E" font-weight="bold">mGold2s</text>
<path d="M455.6 756.3 C449 756.5 444 759 441.5 762" stroke="#111" stroke-width="1.2" fill="none"/><path d="M439.6 764.2L440.6 758.6L445 762.6Z" fill="#111"/>
<text x="408.8" y="782.0" font-size="10" fill="#222">EYFP</text>
<text x="461.4" y="789.8" font-size="10" fill="#8c8e90" transform="rotate(6 461.4 789.8)">mGold</text>
<text x="464.3" y="808.1" font-size="10" fill="#8c8e90">mVenus</text>
<rect x="585" y="744" width="11.9" height="67.8" fill="#231f20"/>
<path d="M591.0 744V726.4 M587.5 726.4h7" stroke="#1a1a1a" stroke-width="1.5" fill="none"/>
<circle cx="590.9" cy="737.9" r="2.3" fill="#c8ccd0" stroke="#8a9098" stroke-width="1"/>
<circle cx="590.9" cy="743.3" r="2.3" fill="#c8ccd0" stroke="#8a9098" stroke-width="1"/>
<circle cx="590.9" cy="751.5" r="2.3" fill="#c8ccd0" stroke="#8a9098" stroke-width="1"/>
<rect x="603.6" y="764.9" width="11.9" height="46.9" fill="#7f8385"/>
<path d="M609.5 764.9V758.2 M606.0 758.2h7" stroke="#1a1a1a" stroke-width="1.5" fill="none"/>
<circle cx="604.8" cy="766.4" r="1.6" fill="#111"/>
<circle cx="609.8" cy="762.7" r="1.6" fill="#111"/>
<circle cx="614.3" cy="765.6" r="1.6" fill="#111"/>
<rect x="622.2" y="758.7" width="12.4" height="53.1" fill="#7f8385"/>
<path d="M628.4 758.7V738.3 M624.9 738.3h7" stroke="#1a1a1a" stroke-width="1.5" fill="none"/>
<circle cx="623.7" cy="764.4" r="1.6" fill="#111"/>
<circle cx="628.4" cy="749.5" r="1.6" fill="#111"/>
<circle cx="632.9" cy="761.9" r="1.6" fill="#111"/>
<rect x="641" y="750.8" width="12.5" height="61.0" fill="#EBB540"/>
<path d="M647.2 750.8V743.8 M643.8 743.8h7" stroke="#1a1a1a" stroke-width="1.5" fill="none"/>
<circle cx="643.3" cy="751.5" r="1.6" fill="#111"/>
<circle cx="647.3" cy="747" r="1.6" fill="#111"/>
<circle cx="651.5" cy="751.3" r="1.6" fill="#111"/>
<rect x="659.7" y="745" width="12.3" height="66.8" fill="#DF4A30"/>
<path d="M665.9 745V722.7 M662.4 722.7h7" stroke="#1a1a1a" stroke-width="1.5" fill="none"/>
<circle cx="661.4" cy="750.8" r="1.6" fill="#111"/>
<circle cx="665.9" cy="734.6" r="1.6" fill="#111"/>
<circle cx="670.8" cy="749" r="1.6" fill="#111"/>
<path d="M572.0 711H578.8V811.8 M572.0 811.8H680 M572.0 791.6H578.8 M572.0 771.5H578.8 M572.0 751.3H578.8 M572.0 731.2H578.8 M591.0 811.8v5 M609.5 811.8v5 M628.4 811.8v5 M647.2 811.8v5 M665.9 811.8v5" fill="none" stroke="#333" stroke-width="1.1"/>
<text x="568.3" y="815.9" font-size="10.3" fill="#222" text-anchor="end">0.0</text>
<text x="568.3" y="795.74" font-size="10.3" fill="#222" text-anchor="end">0.1</text>
<text x="568.3" y="775.58" font-size="10.3" fill="#222" text-anchor="end">0.2</text>
<text x="568.3" y="755.42" font-size="10.3" fill="#222" text-anchor="end">0.3</text>
<text x="568.3" y="735.26" font-size="10.3" fill="#222" text-anchor="end">0.4</text>
<text x="568.3" y="715.1" font-size="10.3" fill="#222" text-anchor="end">0.5</text>
<text x="609.3" y="717.8" font-size="9" fill="#222" text-anchor="middle">ns</text>
<text x="626.8" y="717.8" font-size="9" fill="#222" text-anchor="middle">ns</text>
<text x="647" y="717.8" font-size="9" fill="#222" text-anchor="middle">ns</text>
<text x="665.6" y="717.8" font-size="9" fill="#222" text-anchor="middle">ns</text>
<text x="534.6" y="760.7" font-size="10" fill="#222" text-anchor="middle" transform="rotate(-90 534.6 760.7)">Fraction of</text>
<text x="546.8" y="760.3" font-size="9.95" fill="#222" text-anchor="middle" transform="rotate(-90 546.8 760.3)">molecules photoblinking</text>
<text x="597.45" y="823.5" font-size="10.1" fill="#222" text-anchor="end" transform="rotate(-45 597.45 823.5)">mEYFP</text>
<text x="616.05" y="823.5" font-size="10.1" fill="#222" text-anchor="end" transform="rotate(-45 616.05 823.5)">mVenus</text>
<text x="634.9000000000001" y="823.5" font-size="10.1" fill="#222" text-anchor="end" transform="rotate(-45 634.9000000000001 823.5)">mGold</text>
<text x="653.75" y="823.5" font-size="10.1" fill="#B8923E" text-anchor="end" font-weight="bold" transform="rotate(-45 653.75 823.5)">mGold2s</text>
<text x="672.35" y="823.5" font-size="10.1" fill="#E04A32" text-anchor="end" font-weight="bold" transform="rotate(-45 672.35 823.5)">mGold2t</text>
</svg></body></html>
